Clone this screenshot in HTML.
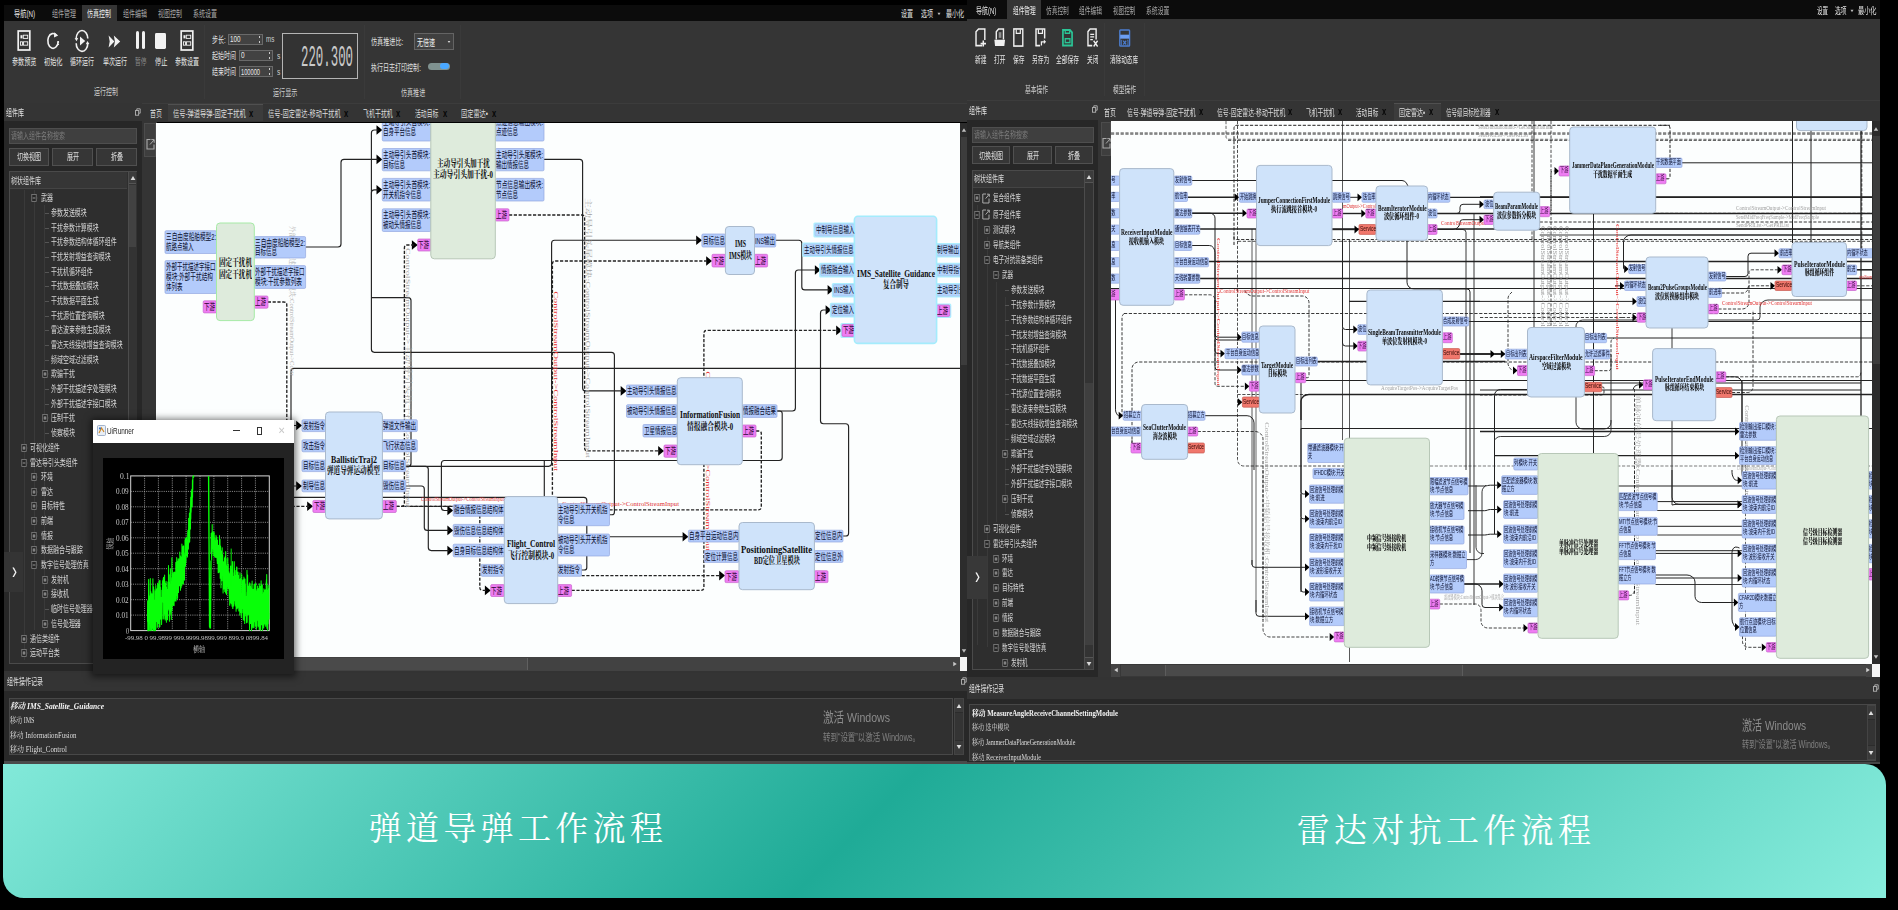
<!DOCTYPE html>
<html lang="zh-CN"><head><meta charset="utf-8"><title>工作流程</title>
<style>
html,body{margin:0;padding:0;background:#000;}
body{width:1898px;height:910px;overflow:hidden;position:relative;font-family:"Liberation Sans","Noto Sans CJK SC",sans-serif;}
.b{position:absolute;box-sizing:border-box;}
.t{position:absolute;white-space:nowrap;line-height:1.2;transform-origin:0 50%;font-family:"Liberation Sans","Noto Sans CJK SC",sans-serif;}
.t.f{font-family:"Liberation Serif","Noto Serif CJK SC",serif;}
.t.m{font-family:"Liberation Mono","Noto Sans CJK SC",monospace;}
svg{position:absolute;overflow:visible;}

</style></head>
<body>
<div class="b" id="apps" style="left:0;top:0;width:1898px;height:764px;overflow:hidden;filter:blur(0.45px)">
<div class="b" style="left:4.0px;top:5.0px;width:963.0px;height:16.0px;background:#0c0c0c;"></div>
<div class="b" style="left:82.0px;top:5.0px;width:35.0px;height:16.5px;background:#353535;"></div>
<span class="t" id="t0" style="left:14.0px;top:7.5px;font-size:9.5px;color:#e6e6e6;transform:scaleX(0.6521);">导航(N)</span>
<span class="t" id="t1" style="left:52.3px;top:7.5px;font-size:9.5px;color:#a8a8a8;transform:scaleX(0.6313);">组件管理</span>
<span class="t" id="t2" style="left:87.4px;top:7.5px;font-size:9.5px;color:#f0f0f0;transform:scaleX(0.6313);">仿真控制</span>
<span class="t" id="t3" style="left:122.6px;top:7.5px;font-size:9.5px;color:#a8a8a8;transform:scaleX(0.6313);">组件编辑</span>
<span class="t" id="t4" style="left:157.7px;top:7.5px;font-size:9.5px;color:#a8a8a8;transform:scaleX(0.6313);">视图控制</span>
<span class="t" id="t5" style="left:192.7px;top:7.5px;font-size:9.5px;color:#a8a8a8;transform:scaleX(0.6313);">系统设置</span>
<span class="t" id="t6" style="left:900.7px;top:7.5px;font-size:9.5px;color:#e0e0e0;transform:scaleX(0.6311);">设置</span>
<span class="t" id="t7" style="left:921.0px;top:7.5px;font-size:9.5px;color:#e0e0e0;transform:scaleX(0.6311);">选项</span>
<span class="t" id="t8" style="left:945.9px;top:7.5px;font-size:9.5px;color:#e0e0e0;transform:scaleX(0.6312);">最小化</span>
<svg style="left:933.6px;top:8.5px" width="10" height="10" viewBox="-5 -5 10 10"><polygon points="0,1.2000000000000002 1.5,-1.2000000000000002 -1.5,-1.2000000000000002" fill="#bbb"/></svg>
<div class="b" style="left:4.0px;top:21.0px;width:963.0px;height:82.0px;background:#353535;"></div>
<div class="b" style="left:4.0px;top:102.5px;width:963.0px;height:1.0px;background:#3c3c3c;"></div>
<div class="b" style="left:204.4px;top:25.0px;width:1.0px;height:74.0px;background:#3a3a3a;"></div>
<div class="b" style="left:364.0px;top:25.0px;width:1.0px;height:74.0px;background:#3a3a3a;"></div>
<div class="b" style="left:460.3px;top:25.0px;width:1.0px;height:74.0px;background:#3a3a3a;"></div>
<svg style="left:17px;top:30px" width="14" height="21" viewBox="0 0 14 21"><rect x="1.2" y="1" width="11.6" height="19" fill="none" stroke="#f2f2f2" stroke-width="1.7"/><rect x="3.5" y="5.2" width="2" height="3.2" fill="#f2f2f2"/><rect x="6.3" y="5.2" width="4.4" height="3.2" fill="none" stroke="#f2f2f2" stroke-width="0.9"/><rect x="3.5" y="11.8" width="2" height="3.4" fill="none" stroke="#f2f2f2" stroke-width="0.9"/><rect x="6.5" y="11.8" width="4.2" height="3.4" fill="none" stroke="#f2f2f2" stroke-width="0.9"/></svg>
<svg style="left:179.7px;top:30px" width="14" height="21" viewBox="0 0 14 21"><rect x="1.2" y="1" width="11.6" height="19" fill="none" stroke="#f2f2f2" stroke-width="1.7"/><rect x="3.5" y="5.2" width="2" height="3.2" fill="#f2f2f2"/><rect x="6.3" y="5.2" width="4.4" height="3.2" fill="none" stroke="#f2f2f2" stroke-width="0.9"/><rect x="3.5" y="11.8" width="2" height="3.4" fill="none" stroke="#f2f2f2" stroke-width="0.9"/><rect x="6.5" y="11.8" width="4.2" height="3.4" fill="none" stroke="#f2f2f2" stroke-width="0.9"/></svg>
<svg style="left:46px;top:31px" width="14" height="20" viewBox="0 0 14 20"><path d="M10.6,4.6A5.2,7.4 0 1 0 12.2,10" fill="none" stroke="#f2f2f2" stroke-width="1.6"/><path d="M12.3,10.5V14" stroke="#f2f2f2" stroke-width="1.5" stroke-dasharray="1.2 1"/><path d="M8.2,1.2L12.2,4.6L8,6.4Z" fill="#f2f2f2"/></svg>
<svg style="left:74px;top:30px" width="16" height="22" viewBox="0 0 16 22"><path d="M2.2,8.5A5.8,8 0 0 1 13.8,8.6M13.8,13.5A5.8,8 0 0 1 2.2,13.2" fill="none" stroke="#f2f2f2" stroke-width="1.6"/><path d="M6,6.4L11.2,11L6,15.6Z" fill="#f2f2f2"/><path d="M0.6,8.2L4.2,8L2.6,11.2Z M15.4,14L11.8,14.2L13.4,11Z" fill="#f2f2f2"/></svg>
<svg style="left:107.5px;top:34.5px" width="13" height="13" viewBox="0 0 13 13"><path d="M0.6,0.6L6.4,6.5L0.6,12.4L1.7,6.5ZM5.8,0.6L12.2,6.5L5.8,12.4L6.9,6.5Z" fill="#f2f2f2"/></svg>
<div class="b" style="left:135.6px;top:31.3px;width:3.5px;height:17.8px;background:#f2f2f2;border-radius:1.6px;"></div>
<div class="b" style="left:141.6px;top:31.3px;width:3.5px;height:17.8px;background:#f2f2f2;border-radius:1.6px;"></div>
<div class="b" style="left:155.2px;top:32.8px;width:10.4px;height:15.8px;background:#f2f2f2;border-radius:1.4px;"></div>
<span class="t" id="t9" style="left:12.0px;top:56.3px;font-size:9.5px;color:#e8e8e8;transform:scaleX(0.6392);">参数预览</span>
<span class="t" id="t10" style="left:44.0px;top:56.3px;font-size:9.5px;color:#e8e8e8;transform:scaleX(0.6453);">初始化</span>
<span class="t" id="t11" style="left:70.4px;top:56.3px;font-size:9.5px;color:#e8e8e8;transform:scaleX(0.6313);">循环运行</span>
<span class="t" id="t12" style="left:102.5px;top:56.3px;font-size:9.5px;color:#e8e8e8;transform:scaleX(0.6313);">单次运行</span>
<span class="t" id="t13" style="left:134.9px;top:56.3px;font-size:9.5px;color:#8a8a8a;transform:scaleX(0.6048);">暂停</span>
<span class="t" id="t14" style="left:154.6px;top:56.3px;font-size:9.5px;color:#e8e8e8;transform:scaleX(0.6521);">停止</span>
<span class="t" id="t15" style="left:175.0px;top:56.3px;font-size:9.5px;color:#e8e8e8;transform:scaleX(0.6313);">参数设置</span>
<span class="t" id="t16" style="left:93.5px;top:86.3px;font-size:9.5px;color:#d0d0d0;transform:scaleX(0.6313);">运行控制</span>
<span class="t" id="t17" style="left:273.1px;top:86.6px;font-size:9.5px;color:#d0d0d0;transform:scaleX(0.6392);">运行显示</span>
<span class="t" id="t18" style="left:400.9px;top:86.6px;font-size:9.5px;color:#d0d0d0;transform:scaleX(0.6366);">仿真推进</span>
<span class="t" id="t19" style="left:211.8px;top:33.5px;font-size:9.5px;color:#e0e0e0;transform:scaleX(0.6284);">步长:</span>
<div class="b" style="left:228.3px;top:33.6px;width:34.4px;height:11.2px;background:#424242;border:1px solid #6a6a6a;"></div>
<span class="t" id="t20" style="left:230.3px;top:34.1px;font-size:9px;color:#e8e8e8;transform:scaleX(0.6985);">100</span>
<div class="b" style="left:258.5px;top:36.0px;width:1.4px;height:1.6px;background:#ccc;"></div>
<div class="b" style="left:258.5px;top:41.0px;width:1.4px;height:1.6px;background:#ccc;"></div>
<span class="t" id="t21" style="left:265.6px;top:34.3px;font-size:9px;color:#d0d0d0;transform:scaleX(0.7000);">ms</span>
<span class="t" id="t22" style="left:211.8px;top:49.7px;font-size:9.5px;color:#e0e0e0;transform:scaleX(0.6313);">起始时间</span>
<div class="b" style="left:239.0px;top:49.8px;width:34.0px;height:11.2px;background:#424242;border:1px solid #6a6a6a;"></div>
<span class="t" id="t23" style="left:241.0px;top:50.3px;font-size:9px;color:#e8e8e8;transform:scaleX(0.7178);">0</span>
<div class="b" style="left:268.8px;top:52.2px;width:1.4px;height:1.6px;background:#ccc;"></div>
<div class="b" style="left:268.8px;top:57.2px;width:1.4px;height:1.6px;background:#ccc;"></div>
<span class="t" id="t24" style="left:276.7px;top:50.5px;font-size:9px;color:#d0d0d0;transform:scaleX(0.7333);">s</span>
<span class="t" id="t25" style="left:211.8px;top:65.9px;font-size:9.5px;color:#e0e0e0;transform:scaleX(0.6313);">结束时间</span>
<div class="b" style="left:239.0px;top:66.0px;width:34.0px;height:11.2px;background:#424242;border:1px solid #6a6a6a;"></div>
<span class="t" id="t26" style="left:241.0px;top:66.5px;font-size:9px;color:#e8e8e8;transform:scaleX(0.6323);">100000</span>
<div class="b" style="left:268.8px;top:68.4px;width:1.4px;height:1.6px;background:#ccc;"></div>
<div class="b" style="left:268.8px;top:73.4px;width:1.4px;height:1.6px;background:#ccc;"></div>
<span class="t" id="t27" style="left:276.7px;top:66.7px;font-size:9px;color:#d0d0d0;transform:scaleX(0.7333);">s</span>
<div class="b" style="left:282.2px;top:33.0px;width:75.6px;height:46.0px;background:#333;border:1.2px solid #b4b4b4;"></div>
<span class="t m" id="t28" style="left:301.0px;top:42.2px;font-size:29px;color:#cacaca;transform:scaleX(0.4268);">220.300</span>
<span class="t" id="t29" style="left:371.0px;top:36.4px;font-size:9.5px;color:#e0e0e0;transform:scaleX(0.6422);">仿真推进比:</span>
<div class="b" style="left:414.2px;top:33.3px;width:39.8px;height:17.2px;background:#404040;border:1px solid #646464;"></div>
<span class="t" id="t30" style="left:416.5px;top:36.5px;font-size:9.5px;color:#f0f0f0;transform:scaleX(0.6312);">无倍速</span>
<svg style="left:444.3px;top:37px" width="10" height="10" viewBox="-5 -5 10 10"><polygon points="0,1.04 1.3,-1.04 -1.3,-1.04" fill="#ddd"/></svg>
<span class="t" id="t31" style="left:371.0px;top:61.5px;font-size:9.5px;color:#e0e0e0;transform:scaleX(0.6333);">执行日志打印控制:</span>
<div class="b" style="left:428.3px;top:62.5px;width:21.3px;height:7.6px;background:#7f9290;border-radius:4px;"></div>
<div class="b" style="left:439.7px;top:63.3px;width:9.4px;height:6.0px;background:#4aa8ff;border-radius:3px;"></div>
<div class="b" style="left:141.5px;top:103.5px;width:825.5px;height:18.0px;background:#343434;"></div>
<div class="b" style="left:168.3px;top:103.8px;width:94.4px;height:17.7px;background:#3c3c3c;border-top:1px solid #505050;"></div>
<span class="t" id="t32" style="left:149.6px;top:108.2px;font-size:9.5px;color:#dedede;transform:scaleX(0.6311);">首页</span>
<span class="t" id="t33" style="left:173.4px;top:108.2px;font-size:9.5px;color:#dedede;transform:scaleX(0.6569);">信号-弹道导弹-固定干扰机</span>
<span class="t" id="t34" style="left:267.7px;top:108.2px;font-size:9.5px;color:#dedede;transform:scaleX(0.6551);">信号-固定雷达-移动干扰机</span>
<span class="t" id="t35" style="left:362.6px;top:108.2px;font-size:9.5px;color:#dedede;transform:scaleX(0.6272);">飞机干扰机</span>
<span class="t" id="t36" style="left:415.0px;top:108.2px;font-size:9.5px;color:#dedede;transform:scaleX(0.6155);">活动目标</span>
<span class="t" id="t37" style="left:460.7px;top:108.2px;font-size:9.5px;color:#dedede;transform:scaleX(0.6533);">固定雷达•</span>
<span class="t" id="t38" style="left:249.2px;top:106.9px;font-size:10.5px;color:#050505;font-weight:bold;transform:scaleX(0.7187);">x</span>
<span class="t" id="t39" style="left:343.9px;top:106.9px;font-size:10.5px;color:#050505;font-weight:bold;transform:scaleX(0.7187);">x</span>
<span class="t" id="t40" style="left:395.9px;top:106.9px;font-size:10.5px;color:#050505;font-weight:bold;transform:scaleX(0.7187);">x</span>
<span class="t" id="t41" style="left:442.7px;top:106.9px;font-size:10.5px;color:#050505;font-weight:bold;transform:scaleX(0.7187);">x</span>
<span class="t" id="t42" style="left:491.5px;top:106.9px;font-size:10.5px;color:#050505;font-weight:bold;transform:scaleX(0.7187);">x</span>
<div class="b" style="left:4.0px;top:103.0px;width:137.5px;height:18.0px;background:#343434;"></div>
<span class="t" id="t43" style="left:6.0px;top:106.8px;font-size:9.5px;color:#e4e4e4;transform:scaleX(0.6312);">组件库</span>
<svg style="left:135.0px;top:107.5px" width="6" height="8" viewBox="0 0 6 8"><rect x="0.5" y="2.6" width="3.2" height="4.6" fill="none" stroke="#c4c4c4" stroke-width="0.8"/><path d="M1.8,2.4V0.8H5.2V5.2H3.9" fill="none" stroke="#c4c4c4" stroke-width="0.8"/></svg>
<div class="b" style="left:4.0px;top:121.0px;width:137.5px;height:549.6px;background:#272727;"></div>
<div class="b" style="left:8.5px;top:128.0px;width:128.5px;height:16.0px;background:#3f3f3f;border:1px solid #4e4e4e;"></div>
<span class="t" id="t44" style="left:10.5px;top:131.1px;font-size:9px;color:#7c7c7c;transform:scaleX(0.6665);">请输入组件名称搜索</span>
<div class="b" style="left:8.5px;top:147.5px;width:40.8px;height:18.0px;background:#363636;border:1px solid #505050;"></div>
<span class="t" id="t45" style="left:16.9px;top:151.3px;font-size:9.5px;color:#e0e0e0;transform:scaleX(0.6313);">切换视图</span>
<div class="b" style="left:52.3px;top:147.5px;width:40.8px;height:18.0px;background:#363636;border:1px solid #505050;"></div>
<span class="t" id="t46" style="left:66.8px;top:151.3px;font-size:9.5px;color:#e0e0e0;transform:scaleX(0.6311);">展开</span>
<div class="b" style="left:96.2px;top:147.5px;width:40.8px;height:18.0px;background:#363636;border:1px solid #505050;"></div>
<span class="t" id="t47" style="left:110.6px;top:151.3px;font-size:9.5px;color:#e0e0e0;transform:scaleX(0.6311);">折叠</span>
<div class="b" style="left:8.5px;top:171.0px;width:128.5px;height:492.6px;background:#2e2e2e;border:1px solid #4a4a4a;"></div>
<div class="b" style="left:9.5px;top:172.0px;width:117.5px;height:17.0px;background:#363636;border-bottom:1px solid #444;"></div>
<span class="t" id="t48" style="left:11.0px;top:174.8px;font-size:9.5px;color:#dcdcdc;transform:scaleX(0.6314);">树状组件库</span>
<div class="b" style="left:128.0px;top:172.0px;width:8.5px;height:490.6px;background:#333;border-left:1px solid #4c4c4c;"></div>
<div class="b" style="left:128.6px;top:172.0px;width:7.9px;height:12.0px;background:#3c3c3c;border-bottom:1px solid #555;"></div>
<svg style="left:127.6px;top:173px" width="10" height="10" viewBox="-5 -5 10 10"><polygon points="0,-1.92 2.4,1.92 -2.4,1.92" fill="#d8d8d8"/></svg>
<div class="b" style="left:129.0px;top:185.0px;width:7.0px;height:62.0px;background:#424242;"></div>
<div class="b" style="left:24.0px;top:190.0px;width:0.6px;height:470.0px;background:#3a3a3a;"></div>
<div class="b" style="left:34.2px;top:190.0px;width:0.6px;height:440.0px;background:#3a3a3a;"></div>
<div class="b" style="left:44.2px;top:205.0px;width:0.6px;height:425.0px;background:#3a3a3a;"></div>
<svg style="left:30.299999999999997px;top:192.5px" width="8" height="10" viewBox="-4 -5 8 10"><rect x="-2.2" y="-3.4" width="4.4" height="6.8" fill="#262626" stroke="#8e8e8e" stroke-width="0.7"/><path d="M-1.3,0H1.3" stroke="#c8c8c8" stroke-width="0.7"/><path d="M2.2,0H4" stroke="#555" stroke-width="0.6"/></svg>
<span class="t" id="t49" style="left:40.5px;top:191.8px;font-size:9.5px;color:#d4d4d4;transform:scaleX(0.6279);">武器</span>
<div class="b" style="left:44.7px;top:212.5px;width:4.0px;height:0.6px;background:#555;"></div>
<span class="t" id="t50" style="left:50.7px;top:206.8px;font-size:9.5px;color:#d4d4d4;transform:scaleX(0.6282);">参数发送模块</span>
<div class="b" style="left:44.7px;top:227.5px;width:4.0px;height:0.6px;background:#555;"></div>
<span class="t" id="t51" style="left:50.7px;top:221.8px;font-size:9.5px;color:#d4d4d4;transform:scaleX(0.6283);">干扰参数计算模块</span>
<div class="b" style="left:44.7px;top:242.0px;width:4.0px;height:0.6px;background:#555;"></div>
<span class="t" id="t52" style="left:50.7px;top:236.3px;font-size:9.5px;color:#d4d4d4;transform:scaleX(0.6283);">干扰参数结构体循环组件</span>
<div class="b" style="left:44.7px;top:256.5px;width:4.0px;height:0.6px;background:#555;"></div>
<span class="t" id="t53" style="left:50.7px;top:250.8px;font-size:9.5px;color:#d4d4d4;transform:scaleX(0.6283);">干扰发射增益查询模块</span>
<div class="b" style="left:44.7px;top:271.5px;width:4.0px;height:0.6px;background:#555;"></div>
<span class="t" id="t54" style="left:50.7px;top:265.8px;font-size:9.5px;color:#d4d4d4;transform:scaleX(0.6283);">干扰机循环组件</span>
<div class="b" style="left:44.7px;top:286.0px;width:4.0px;height:0.6px;background:#555;"></div>
<span class="t" id="t55" style="left:50.7px;top:280.3px;font-size:9.5px;color:#d4d4d4;transform:scaleX(0.6283);">干扰数据叠加模块</span>
<div class="b" style="left:44.7px;top:300.5px;width:4.0px;height:0.6px;background:#555;"></div>
<span class="t" id="t56" style="left:50.7px;top:294.8px;font-size:9.5px;color:#d4d4d4;transform:scaleX(0.6283);">干扰数据平面生成</span>
<div class="b" style="left:44.7px;top:315.5px;width:4.0px;height:0.6px;background:#555;"></div>
<span class="t" id="t57" style="left:50.7px;top:309.8px;font-size:9.5px;color:#d4d4d4;transform:scaleX(0.6283);">干扰源位置查询模块</span>
<div class="b" style="left:44.7px;top:330.0px;width:4.0px;height:0.6px;background:#555;"></div>
<span class="t" id="t58" style="left:50.7px;top:324.3px;font-size:9.5px;color:#d4d4d4;transform:scaleX(0.6283);">雷达波束参数生成模块</span>
<div class="b" style="left:44.7px;top:345.0px;width:4.0px;height:0.6px;background:#555;"></div>
<span class="t" id="t59" style="left:50.7px;top:339.3px;font-size:9.5px;color:#d4d4d4;transform:scaleX(0.6283);">雷达天线接收增益查询模块</span>
<div class="b" style="left:44.7px;top:359.5px;width:4.0px;height:0.6px;background:#555;"></div>
<span class="t" id="t60" style="left:50.7px;top:353.8px;font-size:9.5px;color:#d4d4d4;transform:scaleX(0.6283);">频域空域过滤模块</span>
<svg style="left:40.5px;top:369px" width="8" height="10" viewBox="-4 -5 8 10"><rect x="-2.2" y="-3.4" width="4.4" height="6.8" fill="#262626" stroke="#8e8e8e" stroke-width="0.7"/><path d="M-1.3,0H1.3M0,-2V2" stroke="#c8c8c8" stroke-width="0.7"/><path d="M2.2,0H4" stroke="#555" stroke-width="0.6"/></svg>
<span class="t" id="t61" style="left:50.7px;top:368.3px;font-size:9.5px;color:#d4d4d4;transform:scaleX(0.6282);">欺骗干扰</span>
<div class="b" style="left:44.7px;top:389.0px;width:4.0px;height:0.6px;background:#555;"></div>
<span class="t" id="t62" style="left:50.7px;top:383.3px;font-size:9.5px;color:#d4d4d4;transform:scaleX(0.6283);">外部干扰描述字处理模块</span>
<div class="b" style="left:44.7px;top:403.5px;width:4.0px;height:0.6px;background:#555;"></div>
<span class="t" id="t63" style="left:50.7px;top:397.8px;font-size:9.5px;color:#d4d4d4;transform:scaleX(0.6283);">外部干扰描述字接口模块</span>
<svg style="left:40.5px;top:413px" width="8" height="10" viewBox="-4 -5 8 10"><rect x="-2.2" y="-3.4" width="4.4" height="6.8" fill="#262626" stroke="#8e8e8e" stroke-width="0.7"/><path d="M-1.3,0H1.3M0,-2V2" stroke="#c8c8c8" stroke-width="0.7"/><path d="M2.2,0H4" stroke="#555" stroke-width="0.6"/></svg>
<span class="t" id="t64" style="left:50.7px;top:412.3px;font-size:9.5px;color:#d4d4d4;transform:scaleX(0.6282);">压制干扰</span>
<div class="b" style="left:44.7px;top:433.0px;width:4.0px;height:0.6px;background:#555;"></div>
<span class="t" id="t65" style="left:50.7px;top:427.3px;font-size:9.5px;color:#d4d4d4;transform:scaleX(0.6282);">侦察模块</span>
<svg style="left:19.8px;top:442.5px" width="8" height="10" viewBox="-4 -5 8 10"><rect x="-2.2" y="-3.4" width="4.4" height="6.8" fill="#262626" stroke="#8e8e8e" stroke-width="0.7"/><path d="M-1.3,0H1.3M0,-2V2" stroke="#c8c8c8" stroke-width="0.7"/><path d="M2.2,0H4" stroke="#555" stroke-width="0.6"/></svg>
<span class="t" id="t66" style="left:30.0px;top:441.8px;font-size:9.5px;color:#d4d4d4;transform:scaleX(0.6282);">可视化组件</span>
<svg style="left:19.8px;top:457.5px" width="8" height="10" viewBox="-4 -5 8 10"><rect x="-2.2" y="-3.4" width="4.4" height="6.8" fill="#262626" stroke="#8e8e8e" stroke-width="0.7"/><path d="M-1.3,0H1.3" stroke="#c8c8c8" stroke-width="0.7"/><path d="M2.2,0H4" stroke="#555" stroke-width="0.6"/></svg>
<span class="t" id="t67" style="left:30.0px;top:456.8px;font-size:9.5px;color:#d4d4d4;transform:scaleX(0.6283);">雷达导引头类组件</span>
<svg style="left:30.299999999999997px;top:472px" width="8" height="10" viewBox="-4 -5 8 10"><rect x="-2.2" y="-3.4" width="4.4" height="6.8" fill="#262626" stroke="#8e8e8e" stroke-width="0.7"/><path d="M-1.3,0H1.3M0,-2V2" stroke="#c8c8c8" stroke-width="0.7"/><path d="M2.2,0H4" stroke="#555" stroke-width="0.6"/></svg>
<span class="t" id="t68" style="left:40.5px;top:471.3px;font-size:9.5px;color:#d4d4d4;transform:scaleX(0.6279);">环境</span>
<svg style="left:30.299999999999997px;top:486.5px" width="8" height="10" viewBox="-4 -5 8 10"><rect x="-2.2" y="-3.4" width="4.4" height="6.8" fill="#262626" stroke="#8e8e8e" stroke-width="0.7"/><path d="M-1.3,0H1.3M0,-2V2" stroke="#c8c8c8" stroke-width="0.7"/><path d="M2.2,0H4" stroke="#555" stroke-width="0.6"/></svg>
<span class="t" id="t69" style="left:40.5px;top:485.8px;font-size:9.5px;color:#d4d4d4;transform:scaleX(0.6279);">雷达</span>
<svg style="left:30.299999999999997px;top:501px" width="8" height="10" viewBox="-4 -5 8 10"><rect x="-2.2" y="-3.4" width="4.4" height="6.8" fill="#262626" stroke="#8e8e8e" stroke-width="0.7"/><path d="M-1.3,0H1.3M0,-2V2" stroke="#c8c8c8" stroke-width="0.7"/><path d="M2.2,0H4" stroke="#555" stroke-width="0.6"/></svg>
<span class="t" id="t70" style="left:40.5px;top:500.3px;font-size:9.5px;color:#d4d4d4;transform:scaleX(0.6282);">目标特性</span>
<svg style="left:30.299999999999997px;top:516px" width="8" height="10" viewBox="-4 -5 8 10"><rect x="-2.2" y="-3.4" width="4.4" height="6.8" fill="#262626" stroke="#8e8e8e" stroke-width="0.7"/><path d="M-1.3,0H1.3M0,-2V2" stroke="#c8c8c8" stroke-width="0.7"/><path d="M2.2,0H4" stroke="#555" stroke-width="0.6"/></svg>
<span class="t" id="t71" style="left:40.5px;top:515.3px;font-size:9.5px;color:#d4d4d4;transform:scaleX(0.6279);">前端</span>
<svg style="left:30.299999999999997px;top:530.5px" width="8" height="10" viewBox="-4 -5 8 10"><rect x="-2.2" y="-3.4" width="4.4" height="6.8" fill="#262626" stroke="#8e8e8e" stroke-width="0.7"/><path d="M-1.3,0H1.3M0,-2V2" stroke="#c8c8c8" stroke-width="0.7"/><path d="M2.2,0H4" stroke="#555" stroke-width="0.6"/></svg>
<span class="t" id="t72" style="left:40.5px;top:529.8px;font-size:9.5px;color:#d4d4d4;transform:scaleX(0.6279);">情报</span>
<svg style="left:30.299999999999997px;top:545px" width="8" height="10" viewBox="-4 -5 8 10"><rect x="-2.2" y="-3.4" width="4.4" height="6.8" fill="#262626" stroke="#8e8e8e" stroke-width="0.7"/><path d="M-1.3,0H1.3M0,-2V2" stroke="#c8c8c8" stroke-width="0.7"/><path d="M2.2,0H4" stroke="#555" stroke-width="0.6"/></svg>
<span class="t" id="t73" style="left:40.5px;top:544.3px;font-size:9.5px;color:#d4d4d4;transform:scaleX(0.6283);">数据融合与跟踪</span>
<svg style="left:30.299999999999997px;top:560px" width="8" height="10" viewBox="-4 -5 8 10"><rect x="-2.2" y="-3.4" width="4.4" height="6.8" fill="#262626" stroke="#8e8e8e" stroke-width="0.7"/><path d="M-1.3,0H1.3" stroke="#c8c8c8" stroke-width="0.7"/><path d="M2.2,0H4" stroke="#555" stroke-width="0.6"/></svg>
<span class="t" id="t74" style="left:40.5px;top:559.3px;font-size:9.5px;color:#d4d4d4;transform:scaleX(0.6283);">数字信号处理仿真</span>
<svg style="left:40.5px;top:574.5px" width="8" height="10" viewBox="-4 -5 8 10"><rect x="-2.2" y="-3.4" width="4.4" height="6.8" fill="#262626" stroke="#8e8e8e" stroke-width="0.7"/><path d="M-1.3,0H1.3M0,-2V2" stroke="#c8c8c8" stroke-width="0.7"/><path d="M2.2,0H4" stroke="#555" stroke-width="0.6"/></svg>
<span class="t" id="t75" style="left:50.7px;top:573.8px;font-size:9.5px;color:#d4d4d4;transform:scaleX(0.6281);">发射机</span>
<svg style="left:40.5px;top:589px" width="8" height="10" viewBox="-4 -5 8 10"><rect x="-2.2" y="-3.4" width="4.4" height="6.8" fill="#262626" stroke="#8e8e8e" stroke-width="0.7"/><path d="M-1.3,0H1.3M0,-2V2" stroke="#c8c8c8" stroke-width="0.7"/><path d="M2.2,0H4" stroke="#555" stroke-width="0.6"/></svg>
<span class="t" id="t76" style="left:50.7px;top:588.3px;font-size:9.5px;color:#d4d4d4;transform:scaleX(0.6281);">接收机</span>
<div class="b" style="left:44.7px;top:609.0px;width:4.0px;height:0.6px;background:#555;"></div>
<span class="t" id="t77" style="left:50.7px;top:603.3px;font-size:9.5px;color:#d4d4d4;transform:scaleX(0.6283);">临时信号处理器</span>
<svg style="left:40.5px;top:618.5px" width="8" height="10" viewBox="-4 -5 8 10"><rect x="-2.2" y="-3.4" width="4.4" height="6.8" fill="#262626" stroke="#8e8e8e" stroke-width="0.7"/><path d="M-1.3,0H1.3M0,-2V2" stroke="#c8c8c8" stroke-width="0.7"/><path d="M2.2,0H4" stroke="#555" stroke-width="0.6"/></svg>
<span class="t" id="t78" style="left:50.7px;top:617.8px;font-size:9.5px;color:#d4d4d4;transform:scaleX(0.6282);">信号处理器</span>
<svg style="left:19.8px;top:633.5px" width="8" height="10" viewBox="-4 -5 8 10"><rect x="-2.2" y="-3.4" width="4.4" height="6.8" fill="#262626" stroke="#8e8e8e" stroke-width="0.7"/><path d="M-1.3,0H1.3M0,-2V2" stroke="#c8c8c8" stroke-width="0.7"/><path d="M2.2,0H4" stroke="#555" stroke-width="0.6"/></svg>
<span class="t" id="t79" style="left:30.0px;top:632.8px;font-size:9.5px;color:#d4d4d4;transform:scaleX(0.6282);">通信类组件</span>
<svg style="left:19.8px;top:648px" width="8" height="10" viewBox="-4 -5 8 10"><rect x="-2.2" y="-3.4" width="4.4" height="6.8" fill="#262626" stroke="#8e8e8e" stroke-width="0.7"/><path d="M-1.3,0H1.3M0,-2V2" stroke="#c8c8c8" stroke-width="0.7"/><path d="M2.2,0H4" stroke="#555" stroke-width="0.6"/></svg>
<span class="t" id="t80" style="left:30.0px;top:647.3px;font-size:9.5px;color:#d4d4d4;transform:scaleX(0.6282);">运动平台类</span>
<div class="b" style="left:4.0px;top:552.0px;width:18.5px;height:40.0px;background:#343434;"></div>
<span class="t" id="t81" style="left:11.8px;top:556.6px;font-size:24px;color:#f4f4f4;transform:scaleX(0.6250);">›</span>
<div class="b" style="left:141.5px;top:121.5px;width:15.0px;height:549.0px;background:#343434;"></div>
<div class="b" style="left:144.0px;top:123.0px;width:11.5px;height:33.5px;background:#3e3e3e;border:1px solid #4c4c4c;"></div>
<svg style="left:145.5px;top:138px" width="9" height="12" viewBox="0 0 9 12"><path d="M4.5,1.5H1V11H8V6.5" fill="none" stroke="#aaa" stroke-width="1.1"/><path d="M4,6.5L8,2M5.3,1.6H8.2V4.8" fill="none" stroke="#aaa" stroke-width="1"/></svg>
<div class="b" style="left:156.0px;top:122.5px;width:804.0px;height:534.5px;background:#fcfefe;"></div>
<div class="b" style="left:960.0px;top:122.5px;width:7.0px;height:534.5px;background:#2c2c2c;"></div>
<svg style="left:958.5px;top:125px" width="10" height="10" viewBox="-5 -5 10 10"><polygon points="0,-1.7600000000000002 2.2,1.7600000000000002 -2.2,1.7600000000000002" fill="#bdbdbd"/></svg>
<svg style="left:958.5px;top:646px" width="10" height="10" viewBox="-5 -5 10 10"><polygon points="0,1.7600000000000002 2.2,-1.7600000000000002 -2.2,-1.7600000000000002" fill="#bdbdbd"/></svg>
<div class="b" style="left:960.5px;top:137.0px;width:6.0px;height:228.0px;background:#3c3c3c;"></div>
<div class="b" style="left:156.0px;top:657.0px;width:804.0px;height:13.5px;background:#424242;"></div>
<div class="b" style="left:156.0px;top:657.5px;width:372.0px;height:12.5px;background:#4a4a4a;border-right:1px solid #606060;"></div>
<svg style="left:950px;top:658.7px" width="10" height="10" viewBox="-5 -5 10 10"><polygon points="1.7600000000000002,0 -1.7600000000000002,-2.2 -1.7600000000000002,2.2" fill="#c8c8c8"/></svg>
<div class="b" style="left:960.0px;top:657.0px;width:7.0px;height:13.5px;background:#f4f4f4;"></div>
<div class="b" style="left:4.0px;top:670.5px;width:963.0px;height:2.5px;background:#333;"></div>
<div class="b" style="left:4.0px;top:673.0px;width:963.0px;height:17.6px;background:#343434;"></div>
<span class="t" id="t82" style="left:6.5px;top:676.3px;font-size:9.5px;color:#e0e0e0;transform:scaleX(0.6314);">组件操作记录</span>
<svg style="left:960.5px;top:677px" width="6" height="8" viewBox="0 0 6 8"><rect x="0.5" y="2.6" width="3.2" height="4.6" fill="none" stroke="#c4c4c4" stroke-width="0.8"/><path d="M1.8,2.4V0.8H5.2V5.2H3.9" fill="none" stroke="#c4c4c4" stroke-width="0.8"/></svg>
<div class="b" style="left:4.0px;top:690.6px;width:963.0px;height:70.0px;background:#282828;"></div>
<div class="b" style="left:8.5px;top:697.8px;width:944.0px;height:57.0px;background:#303030;border:1px solid #484848;"></div>
<div class="b" style="left:954.0px;top:697.8px;width:9.5px;height:57.0px;background:#2c2c2c;border:1px solid #444;"></div>
<div class="b" style="left:955.0px;top:699.0px;width:7.5px;height:13.0px;background:#3a3a3a;"></div>
<div class="b" style="left:955.0px;top:740.5px;width:7.5px;height:13.0px;background:#3a3a3a;"></div>
<div class="b" style="left:955.0px;top:713.0px;width:7.5px;height:26.5px;background:#343434;"></div>
<svg style="left:953.7px;top:701px" width="10" height="10" viewBox="-5 -5 10 10"><polygon points="0,-1.92 2.4,1.92 -2.4,1.92" fill="#ddd"/></svg>
<svg style="left:953.7px;top:741.5px" width="10" height="10" viewBox="-5 -5 10 10"><polygon points="0,1.92 2.4,-1.92 -2.4,-1.92" fill="#ddd"/></svg>
<span class="t f" id="t83" style="left:10.0px;top:700.7px;font-size:8.5px;color:#f4f4f4;font-weight:bold;font-style:italic;transform:scaleX(0.8905);">移动 IMS_Satellite_Guidance</span>
<span class="t f" id="t84" style="left:9.5px;top:715.3px;font-size:8.5px;color:#dcdcdc;transform:scaleX(0.7153);">移动 IMS</span>
<span class="t f" id="t85" style="left:9.5px;top:730.2px;font-size:8.5px;color:#dcdcdc;transform:scaleX(0.8024);">移动 InformationFusion</span>
<span class="t f" id="t86" style="left:9.5px;top:744.2px;font-size:8.5px;color:#dcdcdc;transform:scaleX(0.8181);">移动 Flight_Control</span>
<span class="t" id="t87" style="left:823.0px;top:710.4px;font-size:13.5px;color:#8c8c8c;transform:scaleX(0.7835);">激活 Windows</span>
<span class="t" id="t88" style="left:823.0px;top:730.7px;font-size:10.5px;color:#808080;transform:scaleX(0.7105);">转到“设置”以激活 Windows。</span>
<div class="b" style="left:4.0px;top:760.6px;width:963.0px;height:3.6px;background:#4a4a4a;"></div>
<svg style="left:156px;top:123px;overflow:hidden" width="804" height="534" viewBox="156 123 804 534"><polygon points="382.3,159.4 376.5,164.2 376.5,154.6" fill="#000"/><path d="M305.6,247.0L338.0,247.0Q341.0,247.0 341.0,244.0L341.0,162.4Q341.0,159.4 344.0,159.4L378.3,159.4" fill="none" stroke="#222" stroke-width="1.15"/><polygon points="382.3,189.8 376.5,194.6 376.5,185.0" fill="#000"/><path d="M609.5,514.7L612.0,514.7Q614.4,514.7 614.4,512.2L614.4,355.3Q614.4,352.3 611.4,352.3L374.4,352.3Q371.4,352.3 371.4,349.3L371.4,192.8Q371.4,189.8 374.4,189.8L378.3,189.8" fill="none" stroke="#222" stroke-width="1.15"/><polygon points="382.3,130.0 376.5,134.8 376.5,125.2" fill="#000"/><path d="M371.4,200.0L371.4,133.0Q371.4,130.0 374.4,130.0L378.3,130.0" fill="none" stroke="#222" stroke-width="1.15"/><path d="M371.4,297.6L408.0,297.6Q411.0,297.6 411.0,300.6L411.0,463.6Q411.0,466.3 408.4,466.3L405.7,466.3" fill="none" stroke="#222" stroke-width="1.15"/><polygon points="626.5,390.9 620.7,395.7 620.7,386.1" fill="#000"/><path d="M544.0,159.4L579.6,159.4Q582.6,159.4 582.6,162.4L582.6,387.9Q582.6,390.9 585.6,390.9L622.5,390.9" fill="none" stroke="#222" stroke-width="1.15"/><polygon points="664.0,450.9 658.2,455.7 658.2,446.1" fill="#000"/><path d="M509.0,215.0L581.6,215.0Q584.6,215.0 584.6,218.0L584.6,447.9Q584.6,450.9 587.6,450.9L660.0,450.9" fill="none" stroke="#222" stroke-width="1.35" stroke-dasharray="3.2 1.6"/><polygon points="313.0,506.3 307.2,511.1 307.2,501.5" fill="#000"/><path d="M267.8,302.0L283.8,302.0Q286.8,302.0 286.8,305.0L286.8,503.3Q286.8,506.3 289.8,506.3L309.0,506.3" fill="none" stroke="#222" stroke-width="1.35" stroke-dasharray="3.2 1.6"/><polygon points="417.7,245.0 411.9,249.8 411.9,240.2" fill="#000"/><path d="M396.3,506.3L401.4,506.3Q404.4,506.3 404.4,503.3L404.4,248.0Q404.4,245.0 407.4,245.0L413.7,245.0" fill="none" stroke="#222" stroke-width="1.35" stroke-dasharray="3.2 1.6"/><polygon points="490.7,590.4 484.9,595.2 484.9,585.6" fill="#000"/><path d="M396.3,506.3L476.8,506.3Q479.8,506.3 479.8,509.3L479.8,587.4Q479.8,590.4 482.8,590.4L486.7,590.4" fill="none" stroke="#222" stroke-width="1.35" stroke-dasharray="3.2 1.6"/><polygon points="702.0,240.2 696.2,245.0 696.2,235.4" fill="#000"/><path d="M405.7,466.3L548.6,466.3Q551.6,466.3 551.6,463.3L551.6,243.2Q551.6,240.2 554.6,240.2L698.0,240.2" fill="none" stroke="#222" stroke-width="1.15"/><polygon points="712.0,261.0 706.2,265.8 706.2,256.2" fill="#000"/><path d="M404.4,506.3L549.4,506.3Q552.4,506.3 552.4,503.3L552.4,264.0Q552.4,261.0 555.4,261.0L708.0,261.0" fill="none" stroke="#222" stroke-width="1.35" stroke-dasharray="3.2 1.6"/><polygon points="453.2,550.6 447.4,555.4 447.4,545.8" fill="#000"/><path d="M405.7,466.3L425.3,466.3Q428.3,466.3 428.3,469.3L428.3,547.6Q428.3,550.6 431.3,550.6L449.2,550.6" fill="none" stroke="#222" stroke-width="1.15"/><polygon points="453.2,530.4 447.4,535.2 447.4,525.6" fill="#000"/><path d="M405.7,486.0L421.3,486.0Q424.3,486.0 424.3,489.0L424.3,527.4Q424.3,530.4 427.3,530.4L449.2,530.4" fill="none" stroke="#222" stroke-width="1.15"/><polygon points="453.2,510.5 447.4,515.3 447.4,505.7" fill="#000"/><path d="M777.0,411.0L779.6,411.0Q782.2,411.0 782.2,413.6L782.2,457.5Q782.2,460.5 779.2,460.5L444.4,460.5Q441.4,460.5 441.4,463.5L441.4,507.5Q441.4,510.5 444.4,510.5L449.2,510.5" fill="none" stroke="#222" stroke-width="1.15"/><polygon points="820.7,270.0 814.9,274.8 814.9,265.2" fill="#000"/><path d="M777.0,411.0L792.4,411.0Q795.4,411.0 795.4,408.0L795.4,273.0Q795.4,270.0 798.4,270.0L816.7,270.0" fill="none" stroke="#222" stroke-width="1.15"/><path d="M544.3,460.5L544.3,497.0" fill="none" stroke="#222" stroke-width="1.15"/><polygon points="302.0,486.0 296.2,490.8 296.2,481.2" fill="#000"/><path d="M965.0,368.3L294.0,368.3Q291.0,368.3 291.0,371.3L291.0,483.0Q291.0,486.0 294.0,486.0L298.0,486.0" fill="none" stroke="#222" stroke-width="1.15"/><polygon points="302.0,425.5 296.2,430.3 296.2,420.7" fill="#000"/><path d="M581.5,570.0L584.1,570.0Q586.8,570.0 586.8,567.4L586.8,500.4Q586.8,497.4 583.8,497.4L289.0,497.4Q286.0,497.4 286.0,494.4L286.0,428.5Q286.0,425.5 289.0,425.5L298.0,425.5" fill="none" stroke="#222" stroke-width="1.15"/><polygon points="688.4,536.7 682.6,541.5 682.6,531.9" fill="#000"/><path d="M609.5,536.7L684.4,536.7" fill="none" stroke="#222" stroke-width="1.15"/><polygon points="842.0,330.4 836.2,335.2 836.2,325.6" fill="#000"/><path d="M571.6,590.4L700.9,590.4Q703.9,590.4 703.9,587.4L703.9,333.4Q703.9,330.4 706.9,330.4L838.0,330.4" fill="none" stroke="#222" stroke-width="1.35" stroke-dasharray="3.2 1.6"/><path d="M756.0,431.0L758.6,431.0Q761.3,431.0 761.3,433.6L761.3,506.8Q761.3,509.8 758.3,509.8L609.5,509.8" fill="none" stroke="#222" stroke-width="1.35" stroke-dasharray="3.2 1.6"/><polygon points="725.0,575.6 719.2,580.4 719.2,570.8" fill="#000"/><path d="M581.5,575.6L721.0,575.6" fill="none" stroke="#222" stroke-width="1.35" stroke-dasharray="3.2 1.6"/><polygon points="831.4,310.0 825.6,314.8 825.6,305.2" fill="#000"/><path d="M843.0,536.0L845.8,536.0Q848.6,536.0 848.6,533.2L848.6,426.7Q848.6,423.7 845.6,423.7L823.5,423.7Q820.5,423.7 820.5,420.7L820.5,313.0Q820.5,310.0 823.5,310.0L827.4,310.0" fill="none" stroke="#222" stroke-width="1.15"/><polygon points="833.4,289.9 827.6,294.7 827.6,285.1" fill="#000"/><path d="M775.7,240.2L798.8,240.2Q801.8,240.2 801.8,243.2L801.8,286.9Q801.8,289.9 804.8,289.9L829.4,289.9" fill="none" stroke="#222" stroke-width="1.15"/></svg>
<div class="b" style="left:156px;top:123px;width:804px;height:534px;overflow:hidden"><div class="b" style="left:-156px;top:-123px;width:1898px;height:910px">
<span class="t f" id="t89" style="left:291.5px;top:222.1px;font-size:6.5px;color:#b0b0b0;transform:rotate(90deg) scaleX(0.9981);">外部干扰描述字接口模块:ControlStreamOutput-&gt;Contr</span>
<span class="t f" id="t90" style="left:408.4px;top:244.1px;font-size:6.5px;color:#a0a0a0;transform:rotate(90deg) scaleX(1.5479);">ControlStreamOutput-&gt;主动导引头抗干扰:ControlStreamInput</span>
<span class="t f" id="t91" style="left:587.6px;top:194.1px;font-size:6.5px;color:#a0a0a0;transform:rotate(90deg) scaleX(1.5479);">主动导引头尾模块:ControlStreamOutput-&gt;ControlStreamInput</span>
<span class="t f" id="t92" style="left:555.8px;top:287.8px;font-size:5.3px;color:#ea3030;transform:rotate(90deg) scaleX(1.9348);">ControlStreamOutput-&gt;ControlStreamInput</span>
<span class="t f" id="t93" style="left:708.4px;top:367.8px;font-size:5.3px;color:#ea3030;transform:rotate(90deg) scaleX(1.9348);">ControlStreamOutput-&gt;ControlStreamInput</span>
<span class="t f" id="t94" style="left:421.0px;top:495.3px;font-size:6.5px;color:#e03030;transform:scaleX(0.7271);">ControlStreamOutput-&gt;ControlStreamInput</span>
<span class="t f" id="t95" style="left:561.5px;top:499.8px;font-size:6.5px;color:#e03030;transform:scaleX(1.0249);">ControlStreamOutput-&gt;ControlStreamInput</span>
</div></div>
<svg style="left:156px;top:123px;overflow:hidden" width="804" height="534" viewBox="156 123 804 534"><rect x="165.0" y="230.7" width="51.5" height="22.8" rx="1.2" fill="#b3cbfb" stroke="#93a8e0" stroke-width="0.7"/><rect x="165.0" y="260.6" width="51.5" height="32.9" rx="1.2" fill="#b3cbfb" stroke="#93a8e0" stroke-width="0.7"/><rect x="254.2" y="236.6" width="51.4" height="21.4" rx="1.2" fill="#b3cbfb" stroke="#93a8e0" stroke-width="0.7"/><rect x="254.2" y="265.6" width="51.4" height="22.8" rx="1.2" fill="#b3cbfb" stroke="#93a8e0" stroke-width="0.7"/><rect x="203.2" y="300.8" width="13.3" height="12.1" rx="1.2" fill="#ef7df3" stroke="#c565cc" stroke-width="0.7"/><rect x="254.2" y="296.0" width="13.8" height="12.2" rx="1.2" fill="#ef7df3" stroke="#c565cc" stroke-width="0.7"/><rect x="216.5" y="223.0" width="37.8" height="97.6" rx="3.5" fill="#deebdc" stroke="#a6eaa6" stroke-width="1"/><rect x="382.3" y="113.0" width="48.7" height="28.0" rx="1.2" fill="#b3cbfb" stroke="#93a8e0" stroke-width="0.7"/><rect x="382.3" y="148.5" width="48.7" height="22.3" rx="1.2" fill="#b3cbfb" stroke="#93a8e0" stroke-width="0.7"/><rect x="382.3" y="178.4" width="48.7" height="22.6" rx="1.2" fill="#b3cbfb" stroke="#93a8e0" stroke-width="0.7"/><rect x="382.3" y="208.8" width="48.7" height="22.7" rx="1.2" fill="#b3cbfb" stroke="#93a8e0" stroke-width="0.7"/><rect x="495.3" y="113.0" width="48.7" height="28.0" rx="1.2" fill="#b3cbfb" stroke="#93a8e0" stroke-width="0.7"/><rect x="495.3" y="148.5" width="48.7" height="22.3" rx="1.2" fill="#b3cbfb" stroke="#93a8e0" stroke-width="0.7"/><rect x="495.3" y="178.4" width="48.7" height="22.6" rx="1.2" fill="#b3cbfb" stroke="#93a8e0" stroke-width="0.7"/><rect x="417.7" y="239.0" width="13.3" height="12.0" rx="1.2" fill="#ef7df3" stroke="#c565cc" stroke-width="0.7"/><rect x="495.3" y="208.8" width="13.7" height="12.2" rx="1.2" fill="#ef7df3" stroke="#c565cc" stroke-width="0.7"/><rect x="430.8" y="110.0" width="64.5" height="148.8" rx="3.5" fill="#deebdc" stroke="#b7c7b7" stroke-width="1"/><rect x="701.9" y="234.0" width="23.5" height="13.0" rx="1.2" fill="#b3cbfb" stroke="#93a8e0" stroke-width="0.7"/><rect x="754.5" y="234.0" width="21.2" height="13.0" rx="1.2" fill="#b3cbfb" stroke="#93a8e0" stroke-width="0.7"/><rect x="712.0" y="254.3" width="13.4" height="12.7" rx="1.2" fill="#ef7df3" stroke="#c565cc" stroke-width="0.7"/><rect x="754.5" y="254.3" width="13.1" height="12.7" rx="1.2" fill="#ef7df3" stroke="#c565cc" stroke-width="0.7"/><rect x="725.4" y="226.5" width="29.1" height="48.0" rx="3.5" fill="#cfe3fa" stroke="#a9b9cc" stroke-width="1"/><rect x="813.4" y="222.4" width="42.6" height="15.2" rx="1.5" fill="#aeeeff" stroke="#aeeeff" stroke-width="0"/><rect x="815.0" y="224.0" width="39.4" height="12.0" rx="1.2" fill="#b4d4fc" stroke="#a0c4f0" stroke-width="0.7"/><rect x="802.2" y="242.4" width="53.8" height="14.7" rx="1.5" fill="#aeeeff" stroke="#aeeeff" stroke-width="0"/><rect x="803.8" y="244.0" width="50.6" height="11.5" rx="1.2" fill="#b4d4fc" stroke="#a0c4f0" stroke-width="0.7"/><rect x="819.1" y="262.8" width="36.9" height="14.6" rx="1.5" fill="#aeeeff" stroke="#aeeeff" stroke-width="0"/><rect x="820.7" y="264.4" width="33.7" height="11.4" rx="1.2" fill="#b4d4fc" stroke="#a0c4f0" stroke-width="0.7"/><rect x="831.8" y="283.0" width="24.2" height="14.6" rx="1.5" fill="#aeeeff" stroke="#aeeeff" stroke-width="0"/><rect x="833.4" y="284.6" width="21.0" height="11.4" rx="1.2" fill="#b4d4fc" stroke="#a0c4f0" stroke-width="0.7"/><rect x="829.8" y="302.8" width="26.2" height="14.8" rx="1.5" fill="#aeeeff" stroke="#aeeeff" stroke-width="0"/><rect x="831.4" y="304.4" width="23.0" height="11.6" rx="1.2" fill="#b4d4fc" stroke="#a0c4f0" stroke-width="0.7"/><rect x="840.4" y="322.9" width="15.6" height="15.1" rx="1.5" fill="#aeeeff" stroke="#aeeeff" stroke-width="0"/><rect x="842.0" y="324.5" width="12.4" height="11.9" rx="1.2" fill="#ef7df3" stroke="#c565cc" stroke-width="0.7"/><rect x="935.0" y="243.1" width="32.6" height="14.5" rx="1.5" fill="#aeeeff" stroke="#aeeeff" stroke-width="0"/><rect x="936.6" y="244.7" width="29.4" height="11.3" rx="1.2" fill="#b4d4fc" stroke="#a0c4f0" stroke-width="0.7"/><rect x="935.0" y="262.8" width="32.6" height="14.6" rx="1.5" fill="#aeeeff" stroke="#aeeeff" stroke-width="0"/><rect x="936.6" y="264.4" width="29.4" height="11.4" rx="1.2" fill="#b4d4fc" stroke="#a0c4f0" stroke-width="0.7"/><rect x="935.0" y="283.0" width="32.6" height="14.6" rx="1.5" fill="#aeeeff" stroke="#aeeeff" stroke-width="0"/><rect x="936.6" y="284.6" width="29.4" height="11.4" rx="1.2" fill="#b4d4fc" stroke="#a0c4f0" stroke-width="0.7"/><rect x="935.0" y="303.4" width="16.3" height="14.6" rx="1.5" fill="#aeeeff" stroke="#aeeeff" stroke-width="0"/><rect x="936.6" y="305.0" width="13.1" height="11.4" rx="1.2" fill="#ef7df3" stroke="#c565cc" stroke-width="0.7"/><rect x="854.4" y="216.3" width="82.2" height="127.1" rx="3.5" fill="#cfe3fa" stroke="#a4ecfc" stroke-width="1.6"/><rect x="626.5" y="385.0" width="50.8" height="12.0" rx="1.2" fill="#b3cbfb" stroke="#93a8e0" stroke-width="0.7"/><rect x="626.5" y="404.7" width="50.8" height="12.7" rx="1.2" fill="#b3cbfb" stroke="#93a8e0" stroke-width="0.7"/><rect x="643.0" y="424.5" width="34.3" height="12.5" rx="1.2" fill="#b3cbfb" stroke="#93a8e0" stroke-width="0.7"/><rect x="664.0" y="445.0" width="13.3" height="12.3" rx="1.2" fill="#ef7df3" stroke="#c565cc" stroke-width="0.7"/><rect x="742.3" y="404.7" width="34.7" height="12.7" rx="1.2" fill="#b3cbfb" stroke="#93a8e0" stroke-width="0.7"/><rect x="742.3" y="425.0" width="13.7" height="12.0" rx="1.2" fill="#ef7df3" stroke="#c565cc" stroke-width="0.7"/><rect x="677.3" y="377.7" width="65.0" height="87.0" rx="3.5" fill="#cfe3fa" stroke="#a9b9cc" stroke-width="1"/><rect x="302.0" y="419.7" width="23.5" height="11.9" rx="1.2" fill="#b3cbfb" stroke="#93a8e0" stroke-width="0.7"/><rect x="302.0" y="439.7" width="23.5" height="12.1" rx="1.2" fill="#b3cbfb" stroke="#93a8e0" stroke-width="0.7"/><rect x="302.0" y="460.0" width="23.5" height="11.6" rx="1.2" fill="#b3cbfb" stroke="#93a8e0" stroke-width="0.7"/><rect x="302.0" y="480.0" width="23.5" height="11.8" rx="1.2" fill="#b3cbfb" stroke="#93a8e0" stroke-width="0.7"/><rect x="312.9" y="500.4" width="12.6" height="12.1" rx="1.2" fill="#ef7df3" stroke="#c565cc" stroke-width="0.7"/><rect x="382.4" y="419.7" width="34.9" height="11.9" rx="1.2" fill="#b3cbfb" stroke="#93a8e0" stroke-width="0.7"/><rect x="382.4" y="439.7" width="34.9" height="12.1" rx="1.2" fill="#b3cbfb" stroke="#93a8e0" stroke-width="0.7"/><rect x="382.4" y="460.0" width="23.3" height="11.6" rx="1.2" fill="#b3cbfb" stroke="#93a8e0" stroke-width="0.7"/><rect x="382.4" y="480.0" width="23.3" height="11.8" rx="1.2" fill="#b3cbfb" stroke="#93a8e0" stroke-width="0.7"/><rect x="382.4" y="500.4" width="13.9" height="12.1" rx="1.2" fill="#ef7df3" stroke="#c565cc" stroke-width="0.7"/><rect x="325.5" y="412.0" width="56.9" height="106.9" rx="3.5" fill="#cfe3fa" stroke="#a9b9cc" stroke-width="1"/><rect x="453.2" y="504.5" width="51.1" height="11.8" rx="1.2" fill="#b3cbfb" stroke="#93a8e0" stroke-width="0.7"/><rect x="453.2" y="524.4" width="51.1" height="12.2" rx="1.2" fill="#b3cbfb" stroke="#93a8e0" stroke-width="0.7"/><rect x="453.2" y="544.2" width="51.1" height="12.6" rx="1.2" fill="#b3cbfb" stroke="#93a8e0" stroke-width="0.7"/><rect x="481.0" y="564.4" width="23.3" height="11.9" rx="1.2" fill="#b3cbfb" stroke="#93a8e0" stroke-width="0.7"/><rect x="490.7" y="584.6" width="13.6" height="11.9" rx="1.2" fill="#ef7df3" stroke="#c565cc" stroke-width="0.7"/><rect x="557.7" y="503.7" width="51.8" height="22.0" rx="1.2" fill="#b3cbfb" stroke="#93a8e0" stroke-width="0.7"/><rect x="557.7" y="534.0" width="51.8" height="22.0" rx="1.2" fill="#b3cbfb" stroke="#93a8e0" stroke-width="0.7"/><rect x="557.7" y="564.4" width="23.8" height="11.9" rx="1.2" fill="#b3cbfb" stroke="#93a8e0" stroke-width="0.7"/><rect x="557.7" y="584.6" width="13.9" height="11.9" rx="1.2" fill="#ef7df3" stroke="#c565cc" stroke-width="0.7"/><rect x="504.3" y="496.6" width="53.4" height="107.0" rx="3.5" fill="#cfe3fa" stroke="#a9b9cc" stroke-width="1"/><rect x="688.4" y="530.2" width="50.6" height="11.8" rx="1.2" fill="#b3cbfb" stroke="#93a8e0" stroke-width="0.7"/><rect x="704.4" y="550.5" width="34.6" height="11.9" rx="1.2" fill="#b3cbfb" stroke="#93a8e0" stroke-width="0.7"/><rect x="725.0" y="570.7" width="14.0" height="11.9" rx="1.2" fill="#ef7df3" stroke="#c565cc" stroke-width="0.7"/><rect x="814.4" y="530.2" width="28.6" height="11.8" rx="1.2" fill="#b3cbfb" stroke="#93a8e0" stroke-width="0.7"/><rect x="814.4" y="550.5" width="28.6" height="11.9" rx="1.2" fill="#b3cbfb" stroke="#93a8e0" stroke-width="0.7"/><rect x="814.4" y="570.7" width="13.6" height="11.9" rx="1.2" fill="#ef7df3" stroke="#c565cc" stroke-width="0.7"/><rect x="739.0" y="522.5" width="75.4" height="67.2" rx="3.5" fill="#cfe3fa" stroke="#a9b9cc" stroke-width="1"/></svg>
<div class="b" style="left:156px;top:123px;width:804px;height:534px;overflow:hidden"><div class="b" style="left:-156px;top:-123px;width:1898px;height:910px">
<span class="t" id="t96" style="left:165.6px;top:231.3px;font-size:9.5px;color:#0a0f2e;transform:scaleX(0.5957);">三自由度船舶模型2:</span>
<span class="t" id="t97" style="left:165.6px;top:240.9px;font-size:9.5px;color:#0a0f2e;transform:scaleX(0.5788);">航路点输入</span>
<span class="t" id="t98" style="left:165.6px;top:261.4px;font-size:9.5px;color:#0a0f2e;transform:scaleX(0.5788);">外部干扰描述字接口</span>
<span class="t" id="t99" style="left:165.6px;top:271.1px;font-size:9.5px;color:#0a0f2e;transform:scaleX(0.5977);">模块:外部干扰结构</span>
<span class="t" id="t100" style="left:165.6px;top:280.7px;font-size:9.5px;color:#0a0f2e;transform:scaleX(0.5786);">体列表</span>
<span class="t" id="t101" style="left:254.8px;top:236.5px;font-size:9.5px;color:#0a0f2e;transform:scaleX(0.5957);">三自由度船舶模型2:</span>
<span class="t" id="t102" style="left:254.8px;top:246.1px;font-size:9.5px;color:#0a0f2e;transform:scaleX(0.5787);">目标信息</span>
<span class="t" id="t103" style="left:254.8px;top:266.2px;font-size:9.5px;color:#0a0f2e;transform:scaleX(0.5788);">外部干扰描述字接口</span>
<span class="t" id="t104" style="left:254.8px;top:275.8px;font-size:9.5px;color:#0a0f2e;transform:scaleX(0.5977);">模块:干扰参数列表</span>
<span class="t" id="t105" style="left:203.8px;top:300.9px;font-size:9.5px;color:#2c0634;transform:scaleX(0.5785);">下游</span>
<span class="t" id="t106" style="left:254.8px;top:296.1px;font-size:9.5px;color:#2c0634;transform:scaleX(0.5785);">上游</span>
<span class="t f" id="t107" style="left:218.9px;top:257.3px;font-size:10px;color:#0c0c0c;font-weight:bold;transform:scaleX(0.6600);">固定干扰机</span>
<span class="t f" id="t108" style="left:218.9px;top:268.7px;font-size:10px;color:#0c0c0c;font-weight:bold;transform:scaleX(0.6600);">固定干扰机</span>
<span class="t" id="t109" style="left:382.9px;top:116.2px;font-size:9.5px;color:#0a0f2e;transform:scaleX(0.5977);">主动导引头首模块:</span>
<span class="t" id="t110" style="left:382.9px;top:125.8px;font-size:9.5px;color:#0a0f2e;transform:scaleX(0.5788);">自身平台信息</span>
<span class="t" id="t111" style="left:382.9px;top:148.8px;font-size:9.5px;color:#0a0f2e;transform:scaleX(0.5977);">主动导引头首模块:</span>
<span class="t" id="t112" style="left:382.9px;top:158.5px;font-size:9.5px;color:#0a0f2e;transform:scaleX(0.5787);">目标信息</span>
<span class="t" id="t113" style="left:382.9px;top:178.9px;font-size:9.5px;color:#0a0f2e;transform:scaleX(0.5977);">主动导引头首模块:</span>
<span class="t" id="t114" style="left:382.9px;top:188.5px;font-size:9.5px;color:#0a0f2e;transform:scaleX(0.5788);">开关机指令信息</span>
<span class="t" id="t115" style="left:382.9px;top:209.3px;font-size:9.5px;color:#0a0f2e;transform:scaleX(0.5977);">主动导引头首模块:</span>
<span class="t" id="t116" style="left:382.9px;top:219.0px;font-size:9.5px;color:#0a0f2e;transform:scaleX(0.5788);">被动头情报信息</span>
<span class="t" id="t117" style="left:495.9px;top:116.2px;font-size:9.5px;color:#0a0f2e;transform:scaleX(0.5977);">点迹信息输出模块:</span>
<span class="t" id="t118" style="left:495.9px;top:125.8px;font-size:9.5px;color:#0a0f2e;transform:scaleX(0.5787);">点迹信息</span>
<span class="t" id="t119" style="left:495.9px;top:148.8px;font-size:9.5px;color:#0a0f2e;transform:scaleX(0.5977);">主动导引头尾模块:</span>
<span class="t" id="t120" style="left:495.9px;top:158.5px;font-size:9.5px;color:#0a0f2e;transform:scaleX(0.5788);">输出情报信息</span>
<span class="t" id="t121" style="left:495.9px;top:178.9px;font-size:9.5px;color:#0a0f2e;transform:scaleX(0.5977);">节点信息输出模块:</span>
<span class="t" id="t122" style="left:495.9px;top:188.5px;font-size:9.5px;color:#0a0f2e;transform:scaleX(0.5787);">节点信息</span>
<span class="t" id="t123" style="left:418.3px;top:239.0px;font-size:9.5px;color:#2c0634;transform:scaleX(0.5785);">下游</span>
<span class="t" id="t124" style="left:495.9px;top:208.9px;font-size:9.5px;color:#2c0634;transform:scaleX(0.5785);">上游</span>
<span class="t f" id="t125" style="left:436.6px;top:157.8px;font-size:10px;color:#0c0c0c;font-weight:bold;transform:scaleX(0.6625);">主动导引头加干扰</span>
<span class="t f" id="t126" style="left:433.1px;top:169.2px;font-size:10px;color:#0c0c0c;font-weight:bold;transform:scaleX(0.6792);">主动导引头加干扰-0</span>
<span class="t" id="t127" style="left:702.5px;top:234.5px;font-size:9.5px;color:#0a0f2e;transform:scaleX(0.5787);">目标信息</span>
<span class="t" id="t128" style="left:755.1px;top:234.5px;font-size:9.5px;color:#0a0f2e;transform:scaleX(0.5740);">INS输出</span>
<span class="t" id="t129" style="left:712.6px;top:254.6px;font-size:9.5px;color:#2c0634;transform:scaleX(0.5785);">下游</span>
<span class="t" id="t130" style="left:755.1px;top:254.6px;font-size:9.5px;color:#2c0634;transform:scaleX(0.5785);">上游</span>
<span class="t f" id="t131" style="left:734.5px;top:238.3px;font-size:10px;color:#0c0c0c;font-weight:bold;transform:scaleX(0.5818);">IMS</span>
<span class="t f" id="t132" style="left:728.5px;top:249.7px;font-size:10px;color:#0c0c0c;font-weight:bold;transform:scaleX(0.5912);">IMS模块</span>
<span class="t" id="t133" style="left:815.6px;top:224.0px;font-size:9.5px;color:#0a0f2e;transform:scaleX(0.5788);">中制导信息输入</span>
<span class="t" id="t134" style="left:804.4px;top:243.8px;font-size:9.5px;color:#0a0f2e;transform:scaleX(0.5788);">主动导引头情报信息</span>
<span class="t" id="t135" style="left:821.3px;top:264.1px;font-size:9.5px;color:#0a0f2e;transform:scaleX(0.5770);">情报融合输入</span>
<span class="t" id="t136" style="left:834.0px;top:284.3px;font-size:9.5px;color:#0a0f2e;transform:scaleX(0.5740);">INS输入</span>
<span class="t" id="t137" style="left:832.0px;top:304.2px;font-size:9.5px;color:#0a0f2e;transform:scaleX(0.5787);">定位输入</span>
<span class="t" id="t138" style="left:842.6px;top:324.4px;font-size:9.5px;color:#2c0634;transform:scaleX(0.5785);">下游</span>
<span class="t" id="t139" style="left:937.2px;top:244.3px;font-size:9.5px;color:#0a0f2e;transform:scaleX(0.5787);">制导输出</span>
<span class="t" id="t140" style="left:937.2px;top:264.1px;font-size:9.5px;color:#0a0f2e;transform:scaleX(0.5788);">中制导指令</span>
<span class="t" id="t141" style="left:937.2px;top:284.3px;font-size:9.5px;color:#0a0f2e;transform:scaleX(0.5788);">主动导引头</span>
<span class="t" id="t142" style="left:937.2px;top:304.7px;font-size:9.5px;color:#2c0634;transform:scaleX(0.5785);">上游</span>
<span class="t f" id="t143" style="left:856.5px;top:267.8px;font-size:10px;color:#0c0c0c;font-weight:bold;transform:scaleX(0.7467);">IMS_Satellite_Guidance</span>
<span class="t f" id="t144" style="left:882.5px;top:279.2px;font-size:10px;color:#0c0c0c;font-weight:bold;transform:scaleX(0.6500);">复合制导</span>
<span class="t" id="t145" style="left:627.1px;top:385.0px;font-size:9.5px;color:#0a0f2e;transform:scaleX(0.5788);">主动导引头情报信息</span>
<span class="t" id="t146" style="left:627.1px;top:405.0px;font-size:9.5px;color:#0a0f2e;transform:scaleX(0.5788);">被动导引头情报信息</span>
<span class="t" id="t147" style="left:643.6px;top:424.8px;font-size:9.5px;color:#0a0f2e;transform:scaleX(0.5788);">卫星情报信息</span>
<span class="t" id="t148" style="left:664.6px;top:445.1px;font-size:9.5px;color:#2c0634;transform:scaleX(0.5785);">下游</span>
<span class="t" id="t149" style="left:742.9px;top:405.0px;font-size:9.5px;color:#0a0f2e;transform:scaleX(0.5788);">情报融合结果</span>
<span class="t" id="t150" style="left:742.9px;top:425.0px;font-size:9.5px;color:#2c0634;transform:scaleX(0.5785);">上游</span>
<span class="t f" id="t151" style="left:679.8px;top:409.3px;font-size:10px;color:#0c0c0c;font-weight:bold;transform:scaleX(0.7396);">InformationFusion</span>
<span class="t f" id="t152" style="left:686.8px;top:420.7px;font-size:10px;color:#0c0c0c;font-weight:bold;transform:scaleX(0.6731);">情报融合模块-0</span>
<span class="t" id="t153" style="left:302.6px;top:419.6px;font-size:9.5px;color:#0a0f2e;transform:scaleX(0.5787);">发射指令</span>
<span class="t" id="t154" style="left:302.6px;top:439.8px;font-size:9.5px;color:#0a0f2e;transform:scaleX(0.5787);">攻击指令</span>
<span class="t" id="t155" style="left:302.6px;top:459.8px;font-size:9.5px;color:#0a0f2e;transform:scaleX(0.5787);">目标信息</span>
<span class="t" id="t156" style="left:302.6px;top:479.9px;font-size:9.5px;color:#0a0f2e;transform:scaleX(0.5787);">制导信息</span>
<span class="t" id="t157" style="left:313.5px;top:500.4px;font-size:9.5px;color:#2c0634;transform:scaleX(0.5785);">下游</span>
<span class="t" id="t158" style="left:383.0px;top:419.6px;font-size:9.5px;color:#0a0f2e;transform:scaleX(0.5788);">弹道文件输出</span>
<span class="t" id="t159" style="left:383.0px;top:439.8px;font-size:9.5px;color:#0a0f2e;transform:scaleX(0.5788);">飞行状态信息</span>
<span class="t" id="t160" style="left:383.0px;top:459.8px;font-size:9.5px;color:#0a0f2e;transform:scaleX(0.5787);">目标信息</span>
<span class="t" id="t161" style="left:383.0px;top:479.9px;font-size:9.5px;color:#0a0f2e;transform:scaleX(0.5787);">毁伤信息</span>
<span class="t" id="t162" style="left:383.0px;top:500.4px;font-size:9.5px;color:#2c0634;transform:scaleX(0.5785);">上游</span>
<span class="t f" id="t163" style="left:330.9px;top:453.8px;font-size:10px;color:#0c0c0c;font-weight:bold;transform:scaleX(0.7912);">BallisticTraj2</span>
<span class="t f" id="t164" style="left:327.4px;top:465.2px;font-size:10px;color:#0c0c0c;font-weight:bold;transform:scaleX(0.6625);">弹道导弹运动模型</span>
<span class="t" id="t165" style="left:453.8px;top:504.4px;font-size:9.5px;color:#0a0f2e;transform:scaleX(0.5788);">融合情报信息结构体</span>
<span class="t" id="t166" style="left:453.8px;top:524.5px;font-size:9.5px;color:#0a0f2e;transform:scaleX(0.5788);">毁伤信息信息结构体</span>
<span class="t" id="t167" style="left:453.8px;top:544.5px;font-size:9.5px;color:#0a0f2e;transform:scaleX(0.5788);">自身目标信息结构体</span>
<span class="t" id="t168" style="left:481.6px;top:564.3px;font-size:9.5px;color:#0a0f2e;transform:scaleX(0.5787);">发射指令</span>
<span class="t" id="t169" style="left:491.3px;top:584.5px;font-size:9.5px;color:#2c0634;transform:scaleX(0.5785);">下游</span>
<span class="t" id="t170" style="left:558.3px;top:503.9px;font-size:9.5px;color:#0a0f2e;transform:scaleX(0.5788);">主动导引头开关机指</span>
<span class="t" id="t171" style="left:558.3px;top:513.5px;font-size:9.5px;color:#0a0f2e;transform:scaleX(0.5786);">令信息</span>
<span class="t" id="t172" style="left:558.3px;top:534.2px;font-size:9.5px;color:#0a0f2e;transform:scaleX(0.5788);">被动导引头开关机指</span>
<span class="t" id="t173" style="left:558.3px;top:543.8px;font-size:9.5px;color:#0a0f2e;transform:scaleX(0.5786);">令信息</span>
<span class="t" id="t174" style="left:558.3px;top:564.3px;font-size:9.5px;color:#0a0f2e;transform:scaleX(0.5787);">发射指令</span>
<span class="t" id="t175" style="left:558.3px;top:584.5px;font-size:9.5px;color:#2c0634;transform:scaleX(0.5785);">上游</span>
<span class="t f" id="t176" style="left:507.0px;top:538.3px;font-size:10px;color:#0c0c0c;font-weight:bold;transform:scaleX(0.7533);">Flight_Control</span>
<span class="t f" id="t177" style="left:508.0px;top:549.7px;font-size:10px;color:#0c0c0c;font-weight:bold;transform:scaleX(0.6731);">飞行控制模块-0</span>
<span class="t" id="t178" style="left:689.0px;top:530.1px;font-size:9.5px;color:#0a0f2e;transform:scaleX(0.5788);">自身平台运动信息内</span>
<span class="t" id="t179" style="left:705.0px;top:550.5px;font-size:9.5px;color:#0a0f2e;transform:scaleX(0.5788);">定位计算信息</span>
<span class="t" id="t180" style="left:725.6px;top:570.7px;font-size:9.5px;color:#2c0634;transform:scaleX(0.5785);">下游</span>
<span class="t" id="t181" style="left:815.0px;top:530.1px;font-size:9.5px;color:#0a0f2e;transform:scaleX(0.5788);">定位信息内</span>
<span class="t" id="t182" style="left:815.0px;top:550.5px;font-size:9.5px;color:#0a0f2e;transform:scaleX(0.5788);">定位信息外</span>
<span class="t" id="t183" style="left:815.0px;top:570.7px;font-size:9.5px;color:#2c0634;transform:scaleX(0.5785);">上游</span>
<span class="t f" id="t184" style="left:741.2px;top:543.8px;font-size:10px;color:#0c0c0c;font-weight:bold;transform:scaleX(0.8634);">PositioningSatellite</span>
<span class="t f" id="t185" style="left:753.7px;top:555.2px;font-size:10px;color:#0c0c0c;font-weight:bold;transform:scaleX(0.6224);">BD定位卫星模块</span>
</div></div>
<div class="b" style="left:89.0px;top:416.0px;width:208.0px;height:261.0px;box-shadow:0 1px 7px 2px rgba(0,0,0,0.55);left:92.5px;top:419.5px;width:201px;height:254px;"></div>
<div class="b" style="left:92.5px;top:419.5px;width:201.0px;height:254.0px;background:#232323;"></div>
<div class="b" style="left:92.5px;top:419.5px;width:201.0px;height:23.0px;background:#ffffff;"></div>
<svg style="left:96.5px;top:425px" width="9" height="11" viewBox="0 0 9 11"><rect x="0.5" y="0.5" width="8" height="10" rx="1" fill="#e9eef5" stroke="#8da2c0" stroke-width="0.8"/><path d="M2,8L4.5,3L7,7" fill="none" stroke="#d08a2a" stroke-width="1.2"/><circle cx="3" cy="3.4" r="1.1" fill="#3a78c8"/></svg>
<span class="t" id="t186" style="left:107.0px;top:425.3px;font-size:9.5px;color:#222;transform:scaleX(0.6726);">UiRunner</span>
<div class="b" style="left:233.0px;top:430.3px;width:6.5px;height:1.0px;background:#333;"></div>
<div class="b" style="left:256.5px;top:426.5px;width:5.0px;height:8.0px;border:1.1px solid #333;"></div>
<span class="t" id="t187" style="left:278.0px;top:424.5px;font-size:10px;color:#c8c8c8;transform:scaleX(0.8750);">✕</span>
<div class="b" style="left:102.5px;top:457.8px;width:181.0px;height:201.0px;background:#000;"></div>
<svg style="left:0;top:0" width="1898" height="910" viewBox="0 0 1898 910"><rect x="130.7" y="475.9" width="138.60000000000002" height="154.70000000000005" fill="none" stroke="#d8d8d8" stroke-width="1"/><path d="M130.7,491.4H269.3" stroke="#b4b4b4" stroke-width="0.75" stroke-dasharray="1.1 1.1"/><path d="M130.7,506.8H269.3" stroke="#b4b4b4" stroke-width="0.75" stroke-dasharray="1.1 1.1"/><path d="M130.7,522.3H269.3" stroke="#b4b4b4" stroke-width="0.75" stroke-dasharray="1.1 1.1"/><path d="M130.7,537.8H269.3" stroke="#b4b4b4" stroke-width="0.75" stroke-dasharray="1.1 1.1"/><path d="M130.7,553.2H269.3" stroke="#b4b4b4" stroke-width="0.75" stroke-dasharray="1.1 1.1"/><path d="M130.7,568.7H269.3" stroke="#b4b4b4" stroke-width="0.75" stroke-dasharray="1.1 1.1"/><path d="M130.7,584.2H269.3" stroke="#b4b4b4" stroke-width="0.75" stroke-dasharray="1.1 1.1"/><path d="M130.7,599.7H269.3" stroke="#b4b4b4" stroke-width="0.75" stroke-dasharray="1.1 1.1"/><path d="M130.7,615.1H269.3" stroke="#b4b4b4" stroke-width="0.75" stroke-dasharray="1.1 1.1"/><path d="M144.6,475.9V630.6" stroke="#b4b4b4" stroke-width="0.75" stroke-dasharray="1.1 1.1"/><path d="M158.4,475.9V630.6" stroke="#b4b4b4" stroke-width="0.75" stroke-dasharray="1.1 1.1"/><path d="M172.3,475.9V630.6" stroke="#b4b4b4" stroke-width="0.75" stroke-dasharray="1.1 1.1"/><path d="M186.1,475.9V630.6" stroke="#b4b4b4" stroke-width="0.75" stroke-dasharray="1.1 1.1"/><path d="M200.0,475.9V630.6" stroke="#b4b4b4" stroke-width="0.75" stroke-dasharray="1.1 1.1"/><path d="M213.9,475.9V630.6" stroke="#b4b4b4" stroke-width="0.75" stroke-dasharray="1.1 1.1"/><path d="M227.7,475.9V630.6" stroke="#b4b4b4" stroke-width="0.75" stroke-dasharray="1.1 1.1"/><path d="M241.6,475.9V630.6" stroke="#b4b4b4" stroke-width="0.75" stroke-dasharray="1.1 1.1"/><path d="M255.4,475.9V630.6" stroke="#b4b4b4" stroke-width="0.75" stroke-dasharray="1.1 1.1"/><path d="M147.5,621.8 L147.6,600.7 L147.7,608.7 L147.8,630.6 L147.9,630.6 L148.1,630.6 L148.2,613.8 L148.3,627.9 L148.4,604.1 L148.5,606.5 L148.6,579.4 L148.7,593.1 L148.8,630.6 L148.9,618.9 L149.0,624.9 L149.2,603.3 L149.3,606.7 L149.4,630.4 L149.5,601.2 L149.6,618.4 L149.7,611.8 L149.8,595.7 L149.9,621.5 L150.0,608.3 L150.1,598.6 L150.3,578.5 L150.4,613.2 L150.5,625.6 L150.6,630.6 L150.7,596.7 L150.8,591.5 L150.9,599.9 L151.0,605.3 L151.1,593.0 L151.2,610.2 L151.4,629.6 L151.5,601.9 L151.6,593.7 L151.7,614.1 L151.8,630.6 L151.9,630.0 L152.0,629.4 L152.1,626.0 L152.2,613.7 L152.3,628.2 L152.5,606.1 L152.6,593.4 L152.7,618.8 L152.8,615.0 L152.9,578.8 L153.0,623.4 L153.1,620.7 L153.2,603.9 L153.3,630.6 L153.4,614.2 L153.6,586.7 L153.7,607.2 L153.8,596.6 L153.9,589.1 L154.0,590.2 L154.1,612.8 L154.2,626.4 L154.3,630.6 L154.4,626.4 L154.5,617.9 L154.7,630.6 L154.8,626.2 L154.9,629.8 L155.0,600.1 L155.1,619.0 L155.2,615.9 L155.3,590.7 L155.4,608.6 L155.5,630.6 L155.6,614.2 L155.8,585.5 L155.9,629.0 L156.0,604.6 L156.1,603.6 L156.2,604.9 L156.3,589.1 L156.4,617.3 L156.5,621.6 L156.6,604.3 L156.7,613.7 L156.9,591.0 L157.0,588.9 L157.1,590.4 L157.2,618.1 L157.3,614.5 L157.4,627.3 L157.5,616.3 L157.6,583.4 L157.7,584.2 L157.8,583.3 L158.0,617.7 L158.1,618.7 L158.2,598.5 L158.3,588.2 L158.4,596.9 L158.5,623.5 L158.6,584.6 L158.7,592.0 L158.8,618.8 L158.9,611.5 L159.1,581.3 L159.2,608.0 L159.3,588.8 L159.4,627.2 L159.5,584.0 L159.6,619.6 L159.7,580.3 L159.8,609.8 L159.9,626.4 L160.0,580.4 L160.2,601.2 L160.3,605.4 L160.4,586.9 L160.5,613.8 L160.6,614.2 L160.7,613.2 L160.8,619.1 L160.9,608.5 L161.0,597.6 L161.1,605.2 L161.3,601.3 L161.4,599.7 L161.5,605.0 L161.6,624.4 L161.7,616.3 L161.8,590.2 L161.9,608.9 L162.0,598.0 L162.1,619.0 L162.2,612.2 L162.4,587.5 L162.5,597.3 L162.6,580.7 L162.7,594.7 L162.8,599.3 L162.9,602.0 L163.0,600.7 L163.1,590.2 L163.2,578.6 L163.3,596.5 L163.5,577.3 L163.6,616.8 L163.7,619.0 L163.8,618.9 L163.9,585.3 L164.0,614.8 L164.1,588.1 L164.2,580.3 L164.3,611.4 L164.4,602.9 L164.6,574.9 L164.7,613.7 L164.8,597.0 L164.9,611.9 L165.0,583.2 L165.1,594.8 L165.2,619.9 L165.3,591.3 L165.4,617.5 L165.5,583.3 L165.7,615.3 L165.8,618.3 L165.9,611.3 L166.0,600.0 L166.1,581.2 L166.2,612.6 L166.3,592.7 L166.4,622.3 L166.5,586.9 L166.6,615.7 L166.8,589.2 L166.9,615.0 L167.0,615.7 L167.1,597.3 L167.2,592.5 L167.3,609.8 L167.4,593.5 L167.5,619.8 L167.6,615.7 L167.7,603.3 L167.9,582.1 L168.0,594.2 L168.1,603.9 L168.2,610.0 L168.3,582.9 L168.4,608.3 L168.5,565.6 L168.6,578.5 L168.7,593.6 L168.8,598.2 L169.0,584.3 L169.1,600.4 L169.2,583.1 L169.3,597.2 L169.4,621.3 L169.5,612.7 L169.6,608.1 L169.7,611.8 L169.8,574.7 L169.9,602.2 L170.1,601.6 L170.2,607.8 L170.3,602.6 L170.4,569.1 L170.5,603.2 L170.6,600.0 L170.7,614.3 L170.8,591.8 L170.9,604.5 L171.0,613.6 L171.2,609.4 L171.3,619.5 L171.4,599.0 L171.5,585.6 L171.6,577.7 L171.7,579.1 L171.8,594.3 L171.9,557.8 L172.0,578.2 L172.1,610.1 L172.3,570.0 L172.4,577.3 L172.5,605.1 L172.6,587.7 L172.7,573.4 L172.8,583.6 L172.9,578.8 L173.0,604.6 L173.1,604.3 L173.2,605.5 L173.4,584.0 L173.5,580.6 L173.6,587.1 L173.7,572.2 L173.8,585.9 L173.9,575.6 L174.0,574.6 L174.1,605.6 L174.2,574.6 L174.3,573.9 L174.5,585.3 L174.6,585.9 L174.7,572.1 L174.8,575.3 L174.9,600.9 L175.0,574.9 L175.1,580.5 L175.2,600.6 L175.3,577.1 L175.4,576.8 L175.6,582.7 L175.7,584.9 L175.8,562.4 L175.9,564.6 L176.0,601.1 L176.1,570.2 L176.2,584.1 L176.3,593.0 L176.4,592.8 L176.5,595.2 L176.7,557.6 L176.8,568.8 L176.9,566.0 L177.0,590.8 L177.1,581.0 L177.2,599.0 L177.3,581.7 L177.4,593.3 L177.5,586.4 L177.6,598.1 L177.8,561.1 L177.9,562.3 L178.0,563.0 L178.1,583.0 L178.2,558.8 L178.3,583.0 L178.4,589.2 L178.5,592.4 L178.6,585.1 L178.7,586.3 L178.9,575.9 L179.0,581.1 L179.1,561.3 L179.2,570.8 L179.3,558.7 L179.4,563.8 L179.5,566.2 L179.6,565.1 L179.7,585.7 L179.8,552.0 L180.0,575.2 L180.1,581.6 L180.2,555.4 L180.3,567.4 L180.4,570.9 L180.5,590.3 L180.6,583.8 L180.7,572.5 L180.8,556.7 L180.9,574.6 L181.1,587.7 L181.2,579.5 L181.3,580.8 L181.4,567.8 L181.5,560.6 L181.6,573.0 L181.7,574.0 L181.8,585.7 L181.9,544.1 L182.0,568.1 L182.2,553.9 L182.3,576.2 L182.4,570.9 L182.5,549.3 L182.6,546.8 L182.7,583.8 L182.8,550.4 L182.9,560.6 L183.0,568.9 L183.1,551.9 L183.3,545.9 L183.4,584.0 L183.5,562.4 L183.6,546.0 L183.7,556.8 L183.8,563.7 L183.9,579.3 L184.0,571.5 L184.1,555.4 L184.2,574.8 L184.4,554.9 L184.5,580.1 L184.6,558.5 L184.7,563.3 L184.8,553.3 L184.9,565.8 L185.0,540.3 L185.1,542.5 L185.2,566.7 L185.3,538.4 L185.5,565.4 L185.6,554.8 L185.7,557.1 L185.8,547.1 L185.9,562.7 L186.0,556.5 L186.1,545.0 L186.2,543.1 L186.3,550.2 L186.4,537.3 L186.6,540.6 L186.7,555.8 L186.8,553.3 L186.9,547.4 L187.0,553.9 L187.1,541.6 L187.2,554.7 L187.3,552.3 L187.4,557.1 L187.5,555.1 L187.7,532.3 L187.8,536.1 L187.9,530.2 L188.0,549.3 L188.1,531.1 L188.2,534.7 L188.3,541.3 L188.4,548.9 L188.5,541.8 L188.6,518.4 L188.8,521.6 L188.9,536.7 L189.0,523.4 L189.1,542.8 L189.2,533.2 L189.3,536.9 L189.4,513.4 L189.5,529.1 L189.6,516.1 L189.7,541.6 L189.9,512.6 L190.0,516.1 L190.1,525.7 L190.2,508.0 L190.3,525.0 L190.4,522.2 L190.5,529.1 L190.6,503.6 L190.7,497.2 L190.8,519.0 L191.0,498.5 L191.1,512.2 L191.2,509.7 L191.3,491.0 L191.4,497.1 L191.5,495.2 L191.6,499.5 L191.7,505.8 L191.8,489.4 L191.9,506.3 L192.1,505.8 L192.2,506.9 L192.3,497.2 L192.4,480.4 L192.5,497.1 L192.6,497.2 L192.7,479.0 L192.8,489.5 L192.9,477.3 L193.0,475.9 L193.2,475.9 L193.3,475.9 L193.4,475.9 L193.5,475.9 L193.6,475.9 L193.7,477.3 L193.8,475.9 L193.9,475.9" fill="none" stroke="#08ff08" stroke-width="1.05" stroke-linejoin="round"/><path d="M211.0,553.1 L211.1,544.0 L211.2,533.2 L211.3,550.5 L211.4,539.7 L211.6,559.7 L211.7,560.2 L211.8,532.8 L211.9,532.8 L212.0,533.4 L212.1,548.3 L212.2,524.6 L212.3,537.1 L212.4,546.0 L212.5,547.4 L212.7,544.7 L212.8,534.5 L212.9,551.7 L213.0,532.6 L213.1,544.3 L213.2,531.8 L213.3,555.7 L213.4,543.0 L213.5,535.5 L213.6,549.7 L213.8,543.5 L213.9,546.5 L214.0,546.6 L214.1,545.7 L214.2,532.6 L214.3,547.5 L214.4,536.8 L214.5,556.2 L214.6,545.4 L214.7,546.2 L214.9,545.4 L215.0,557.1 L215.1,540.9 L215.2,555.8 L215.3,548.6 L215.4,554.8 L215.5,545.2 L215.6,556.4 L215.7,538.3 L215.8,557.6 L216.0,535.2 L216.1,547.9 L216.2,536.4 L216.3,537.3 L216.4,536.7 L216.5,541.2 L216.6,551.7 L216.7,537.7 L216.8,557.4 L216.9,549.9 L217.1,560.7 L217.2,545.2 L217.3,563.6 L217.4,542.5 L217.5,540.0 L217.6,550.0 L217.7,549.7 L217.8,556.5 L217.9,556.6 L218.0,556.2 L218.2,572.8 L218.3,555.3 L218.4,545.2 L218.5,557.9 L218.6,557.5 L218.7,570.7 L218.8,572.4 L218.9,556.7 L219.0,550.5 L219.1,549.1 L219.3,557.8 L219.4,558.6 L219.5,535.6 L219.6,545.9 L219.7,551.0 L219.8,572.0 L219.9,561.0 L220.0,539.3 L220.1,550.3 L220.2,578.2 L220.4,548.5 L220.5,547.0 L220.6,545.9 L220.7,562.6 L220.8,574.1 L220.9,563.0 L221.0,587.7 L221.1,576.7 L221.2,557.2 L221.3,577.0 L221.5,579.3 L221.6,559.6 L221.7,550.9 L221.8,562.3 L221.9,580.8 L222.0,561.0 L222.1,554.8 L222.2,547.7 L222.3,572.1 L222.4,570.0 L222.6,554.6 L222.7,555.3 L222.8,562.5 L222.9,564.8 L223.0,578.2 L223.1,593.0 L223.2,564.5 L223.3,568.7 L223.4,583.5 L223.5,561.7 L223.7,589.0 L223.8,585.3 L223.9,581.1 L224.0,567.4 L224.1,566.4 L224.2,585.3 L224.3,585.1 L224.4,587.4 L224.5,558.0 L224.6,576.2 L224.8,591.4 L224.9,570.6 L225.0,567.7 L225.1,556.8 L225.2,583.3 L225.3,591.2 L225.4,577.6 L225.5,591.0 L225.6,593.0 L225.7,551.5 L225.9,586.2 L226.0,574.6 L226.1,558.6 L226.2,582.5 L226.3,592.6 L226.4,564.7 L226.5,594.6 L226.6,566.5 L226.7,566.8 L226.8,590.5 L227.0,590.4 L227.1,582.8 L227.2,569.3 L227.3,568.8 L227.4,575.0 L227.5,566.2 L227.6,586.4 L227.7,559.8 L227.8,557.9 L227.9,587.1 L228.1,568.8 L228.2,568.8 L228.3,563.9 L228.4,588.6 L228.5,573.8 L228.6,572.6 L228.7,580.3 L228.8,571.7 L228.9,581.8 L229.0,576.9 L229.2,590.8 L229.3,596.1 L229.4,598.7 L229.5,595.3 L229.6,588.6 L229.7,605.3 L229.8,573.4 L229.9,573.4 L230.0,597.7 L230.1,586.5 L230.3,569.3 L230.4,598.2 L230.5,566.0 L230.6,597.0 L230.7,602.5 L230.8,569.0 L230.9,577.4 L231.0,577.6 L231.1,603.8 L231.2,573.2 L231.4,590.1 L231.5,601.7 L231.6,591.8 L231.7,588.7 L231.8,566.1 L231.9,570.6 L232.0,606.3 L232.1,587.3 L232.2,591.7 L232.3,582.8 L232.5,561.4 L232.6,564.3 L232.7,608.4 L232.8,572.8 L232.9,608.5 L233.0,585.8 L233.1,600.3 L233.2,592.8 L233.3,597.0 L233.4,596.0 L233.6,576.6 L233.7,604.5 L233.8,606.0 L233.9,577.1 L234.0,580.5 L234.1,591.3 L234.2,561.6 L234.3,561.9 L234.4,600.8 L234.5,568.3 L234.7,592.9 L234.8,599.9 L234.9,586.0 L235.0,575.7 L235.1,594.9 L235.2,604.1 L235.3,580.4 L235.4,603.7 L235.5,575.4 L235.6,606.0 L235.8,570.4 L235.9,603.2 L236.0,579.2 L236.1,611.2 L236.2,600.9 L236.3,587.8 L236.4,600.4 L236.5,567.1 L236.6,608.3 L236.7,608.4 L236.9,567.1 L237.0,579.0 L237.1,604.4 L237.2,608.7 L237.3,597.5 L237.4,595.2 L237.5,581.5 L237.6,584.5 L237.7,607.7 L237.8,595.4 L238.0,571.9 L238.1,587.7 L238.2,595.1 L238.3,581.0 L238.4,578.7 L238.5,575.2 L238.6,585.2 L238.7,600.8 L238.8,611.0 L238.9,579.0 L239.1,586.3 L239.2,596.1 L239.3,586.9 L239.4,584.5 L239.5,607.8 L239.6,579.9 L239.7,593.6 L239.8,615.0 L239.9,609.3 L240.0,572.8 L240.2,612.4 L240.3,591.8 L240.4,593.2 L240.5,578.4 L240.6,598.2 L240.7,607.8 L240.8,599.3 L240.9,612.1 L241.0,603.7 L241.1,605.1 L241.3,617.5 L241.4,598.5 L241.5,601.8 L241.6,607.9 L241.7,574.4 L241.8,608.4 L241.9,600.3 L242.0,612.8 L242.1,580.9 L242.2,597.0 L242.4,608.5 L242.5,602.7 L242.6,580.9 L242.7,597.5 L242.8,593.0 L242.9,580.5 L243.0,579.8 L243.1,602.2 L243.2,601.2 L243.3,620.0 L243.5,607.0 L243.6,606.1 L243.7,600.2 L243.8,589.5 L243.9,576.9 L244.0,618.0 L244.1,578.2 L244.2,614.3 L244.3,588.9 L244.4,620.6 L244.6,590.4 L244.7,623.4 L244.8,610.4 L244.9,607.9 L245.0,579.1 L245.1,613.8 L245.2,593.2 L245.3,590.5 L245.4,585.0 L245.5,612.8 L245.7,597.3 L245.8,601.7 L245.9,596.3 L246.0,616.1 L246.1,599.6 L246.2,601.3 L246.3,599.7 L246.4,597.6 L246.5,622.7 L246.6,601.1 L246.8,592.0 L246.9,605.7 L247.0,570.3 L247.1,593.6 L247.2,622.3 L247.3,591.7 L247.4,608.3 L247.5,600.0 L247.6,575.0 L247.7,590.4 L247.9,608.3 L248.0,607.2 L248.1,599.8 L248.2,614.7 L248.3,604.8 L248.4,585.9 L248.5,586.0 L248.6,601.3 L248.7,601.3 L248.8,594.4 L249.0,609.7 L249.1,611.3 L249.2,595.6 L249.3,623.7 L249.4,584.1 L249.5,623.5 L249.6,630.6 L249.7,582.7 L249.8,595.2 L249.9,583.4 L250.1,597.3 L250.2,593.6 L250.3,594.4 L250.4,595.1 L250.5,586.1 L250.6,623.5 L250.7,590.2 L250.8,595.8 L250.9,588.0 L251.0,600.3 L251.2,612.6 L251.3,611.9 L251.4,596.7 L251.5,624.4 L251.6,630.6 L251.7,588.9 L251.8,583.9 L251.9,626.5 L252.0,599.4 L252.1,581.1 L252.3,609.4 L252.4,597.1 L252.5,626.3 L252.6,627.2 L252.7,621.8 L252.8,623.4 L252.9,628.0 L253.0,593.8 L253.1,589.2 L253.2,625.4 L253.4,594.3 L253.5,589.6 L253.6,598.4 L253.7,606.3 L253.8,616.1 L253.9,590.6 L254.0,627.4 L254.1,584.2 L254.2,613.6 L254.3,620.5 L254.5,605.7 L254.6,611.1 L254.7,607.8 L254.8,621.7 L254.9,611.5 L255.0,599.0 L255.1,610.5 L255.2,584.3 L255.3,602.1 L255.4,625.9 L255.6,595.8 L255.7,613.3 L255.8,583.0 L255.9,600.7 L256.0,608.9 L256.1,611.4 L256.2,600.8 L256.3,591.2 L256.4,629.2 L256.5,609.4 L256.7,591.0 L256.8,627.4 L256.9,591.3 L257.0,602.6 L257.1,589.5 L257.2,597.4 L257.3,616.0 L257.4,603.7 L257.5,620.3 L257.6,586.0 L257.8,601.3 L257.9,608.0 L258.0,618.0 L258.1,592.8 L258.2,625.9 L258.3,593.8 L258.4,602.9 L258.5,588.6 L258.6,607.9 L258.7,626.8 L258.9,621.9 L259.0,613.4 L259.1,611.5 L259.2,629.6 L259.3,583.7 L259.4,625.6 L259.5,588.7 L259.6,602.6 L259.7,606.0 L259.8,629.3 L260.0,590.2 L260.1,604.2 L260.2,594.2 L260.3,586.3 L260.4,592.3 L260.5,623.1 L260.6,626.4 L260.7,630.6 L260.8,604.4 L260.9,609.0 L261.1,580.7 L261.2,602.4 L261.3,624.8 L261.4,618.4 L261.5,600.3 L261.6,598.9 L261.7,610.2 L261.8,584.9 L261.9,624.7 L262.0,618.2 L262.2,587.7 L262.3,584.9 L262.4,593.1 L262.5,599.7 L262.6,630.6 L262.7,594.5 L262.8,598.1 L262.9,602.1 L263.0,624.9 L263.1,622.0 L263.3,607.5 L263.4,623.1 L263.5,594.8 L263.6,592.2 L263.7,628.0 L263.8,619.3 L263.9,588.8 L264.0,623.0 L264.1,625.0 L264.2,589.9 L264.4,608.2 L264.5,590.7 L264.6,597.6 L264.7,623.8 L264.8,595.8 L264.9,622.5 L265.0,616.7 L265.1,621.9 L265.2,589.7 L265.3,621.2 L265.5,614.1 L265.6,623.7 L265.7,626.3 L265.8,597.6 L265.9,606.5 L266.0,616.8 L266.1,611.7 L266.2,581.9 L266.3,624.2 L266.4,579.8 L266.6,594.6 L266.7,574.4 L266.8,590.7 L266.9,628.3 L267.0,589.4 L267.1,619.8 L267.2,585.6 L267.3,600.4 L267.4,620.0 L267.5,591.3 L267.7,630.6 L267.8,599.7 L267.9,615.4 L268.0,599.5 L268.1,590.1 L268.2,623.8 L268.3,593.7 L268.4,590.3 L268.5,589.9 L268.6,588.4 L268.8,604.9 L268.9,585.2 L269.0,586.9 L269.1,619.1 L269.2,612.9" fill="none" stroke="#08ff08" stroke-width="1.05" stroke-linejoin="round"/><path d="M208.6,475.9L209.6,626.6L210.4,628.6L211,560.6" fill="none" stroke="#08ff08" stroke-width="1.4"/><path d="M231.2,585.6V548.6" stroke="#08ff08" stroke-width="0.9"/></svg>
<span class="t f" id="t188" style="left:119.5px;top:470.8px;font-size:8.5px;color:#c8c8c8;transform:scaleX(0.8894);">0.1</span>
<span class="t f" id="t189" style="left:116.4px;top:486.3px;font-size:8.5px;color:#c8c8c8;transform:scaleX(0.8471);">0.09</span>
<span class="t f" id="t190" style="left:116.4px;top:501.7px;font-size:8.5px;color:#c8c8c8;transform:scaleX(0.8471);">0.08</span>
<span class="t f" id="t191" style="left:116.4px;top:517.2px;font-size:8.5px;color:#c8c8c8;transform:scaleX(0.8471);">0.07</span>
<span class="t f" id="t192" style="left:116.4px;top:532.7px;font-size:8.5px;color:#c8c8c8;transform:scaleX(0.8471);">0.06</span>
<span class="t f" id="t193" style="left:116.4px;top:548.1px;font-size:8.5px;color:#c8c8c8;transform:scaleX(0.8471);">0.05</span>
<span class="t f" id="t194" style="left:116.4px;top:563.6px;font-size:8.5px;color:#c8c8c8;transform:scaleX(0.8471);">0.04</span>
<span class="t f" id="t195" style="left:116.4px;top:579.1px;font-size:8.5px;color:#c8c8c8;transform:scaleX(0.8471);">0.03</span>
<span class="t f" id="t196" style="left:116.4px;top:594.6px;font-size:8.5px;color:#c8c8c8;transform:scaleX(0.8471);">0.02</span>
<span class="t f" id="t197" style="left:116.4px;top:610.0px;font-size:8.5px;color:#c8c8c8;transform:scaleX(0.8471);">0.01</span>
<span class="t f" id="t198" style="left:125.8px;top:625.5px;font-size:8.5px;color:#c8c8c8;transform:scaleX(0.7412);">0</span>
<span class="t f" id="t199" style="left:125.0px;top:633.9px;font-size:6.5px;color:#c0c0c0;transform:scaleX(1.0560);">-99.98  0  99.9899  999.9999.9899.999  899.9  0899.84</span>
<span class="t f" id="t200" style="left:193.0px;top:645.0px;font-size:7.5px;color:#c8c8c8;transform:scaleX(0.8000);">横轴</span>
<span class="t f" id="t201" style="left:109.5px;top:544.5px;font-size:7.5px;color:#c8c8c8;transform:rotate(-90deg) scaleX(0.8000);">纵轴</span>
<div class="b" style="left:967.0px;top:0.0px;width:913.0px;height:19.0px;background:#0c0c0c;"></div>
<div class="b" style="left:1007.0px;top:0.0px;width:34.0px;height:19.5px;background:#353535;"></div>
<span class="t" id="t202" style="left:976.2px;top:4.5px;font-size:9.5px;color:#e6e6e6;transform:scaleX(0.6304);">导航(N)</span>
<span class="t" id="t203" style="left:1012.5px;top:4.5px;font-size:9.5px;color:#f0f0f0;transform:scaleX(0.5971);">组件管理</span>
<span class="t" id="t204" style="left:1045.7px;top:4.5px;font-size:9.5px;color:#a8a8a8;transform:scaleX(0.5998);">仿真控制</span>
<span class="t" id="t205" style="left:1079.0px;top:4.5px;font-size:9.5px;color:#a8a8a8;transform:scaleX(0.6024);">组件编辑</span>
<span class="t" id="t206" style="left:1113.0px;top:4.5px;font-size:9.5px;color:#a8a8a8;transform:scaleX(0.5919);">视图控制</span>
<span class="t" id="t207" style="left:1145.5px;top:4.5px;font-size:9.5px;color:#a8a8a8;transform:scaleX(0.6182);">系统设置</span>
<span class="t" id="t208" style="left:1816.5px;top:4.5px;font-size:9.5px;color:#e0e0e0;transform:scaleX(0.5785);">设置</span>
<span class="t" id="t209" style="left:1835.0px;top:4.5px;font-size:9.5px;color:#e0e0e0;transform:scaleX(0.6048);">选项</span>
<span class="t" id="t210" style="left:1858.0px;top:4.5px;font-size:9.5px;color:#e0e0e0;transform:scaleX(0.6488);">最小化</span>
<svg style="left:1846.5px;top:5.5px" width="10" height="10" viewBox="-5 -5 10 10"><polygon points="0,1.2000000000000002 1.5,-1.2000000000000002 -1.5,-1.2000000000000002" fill="#bbb"/></svg>
<div class="b" style="left:967.0px;top:19.0px;width:913.0px;height:81.0px;background:#353535;"></div>
<div class="b" style="left:967.0px;top:99.5px;width:913.0px;height:1.0px;background:#3c3c3c;"></div>
<div class="b" style="left:1103.5px;top:23.0px;width:1.0px;height:73.0px;background:#3a3a3a;"></div>
<div class="b" style="left:1144.0px;top:23.0px;width:1.0px;height:73.0px;background:#3a3a3a;"></div>
<svg style="left:974.9px;top:28.3px" width="11" height="19" viewBox="0 0 13 20" preserveAspectRatio="none"><path d="M8.5,18.6H1.2V4L4.2,1H11.6V12.5" fill="none" stroke="#f0f0f0" stroke-width="1.7"/><path d="M9.8,13.2V19.6M6.6,16.4H13" stroke="#f0f0f0" stroke-width="1.8"/></svg>
<svg style="left:993.6px;top:28.3px" width="11.4" height="19" viewBox="0 0 13 20" preserveAspectRatio="none"><path d="M2.6,12V4L5.2,1H10.8V12" fill="none" stroke="#f0f0f0" stroke-width="1.6"/><path d="M0.4,12.4H12.6L11.8,19H1.2Z" fill="#f0f0f0"/><rect x="5.4" y="4.4" width="3" height="6" fill="#8e8e8e"/></svg>
<svg style="left:1013.2px;top:28.3px" width="10.6" height="19" viewBox="0 0 13 20" preserveAspectRatio="none"><rect x="1" y="1" width="11" height="18" fill="none" stroke="#f0f0f0" stroke-width="1.7"/><path d="M4,1.5V5.6H9V1.5" fill="none" stroke="#f0f0f0" stroke-width="1.4"/></svg>
<svg style="left:1034.5px;top:28.3px" width="11" height="19" viewBox="0 0 13 20" preserveAspectRatio="none"><path d="M6,18.6H1.2V1H11.4V11" fill="none" stroke="#f0f0f0" stroke-width="1.7"/><path d="M4,1.5V5.6H8.8V1.5" fill="none" stroke="#f0f0f0" stroke-width="1.4"/><path d="M7.6,18.5V14.6H12" fill="none" stroke="#f0f0f0" stroke-width="1.5"/><path d="M10.4,12L13,14.6L10.4,17.2Z" fill="#f0f0f0"/></svg>
<svg style="left:1062.3px;top:29px" width="11" height="17.5" viewBox="0 0 13 18" preserveAspectRatio="none"><path d="M1.1,1.1H9.4L11.9,3.6V16.9H1.1Z" fill="none" stroke="#2bc596" stroke-width="2"/><path d="M3.8,1.5V4.4H9V1.5" fill="none" stroke="#2bc596" stroke-width="1.4"/><rect x="3.8" y="10" width="5.6" height="4" fill="none" stroke="#2bc596" stroke-width="1.5"/></svg>
<svg style="left:1086.6px;top:28.3px" width="11.4" height="19" viewBox="0 0 14 20" preserveAspectRatio="none"><path d="M6.4,18.6H1.2V3.8L3.8,1H11.2V12" fill="none" stroke="#f0f0f0" stroke-width="1.7"/><path d="M4,6.6H8.8M4,9.4H8.8M4,12.2H7.2" stroke="#f0f0f0" stroke-width="1.3"/><path d="M8.2,13.4L13,19.4M13,13.4L8.2,19.4" stroke="#f0f0f0" stroke-width="1.7"/></svg>
<svg style="left:1118.8px;top:29px" width="11.4" height="18" viewBox="0 0 14 19" preserveAspectRatio="none"><rect x="1" y="1" width="12" height="17" rx="0.8" fill="none" stroke="#4c7ed0" stroke-width="1.7"/><rect x="1.4" y="6" width="11.2" height="4.2" fill="#6c9ef2"/><path d="M5.2,12.4L8.8,16.4M8.8,12.4L5.2,16.4" stroke="#4c7ed0" stroke-width="1.3"/><path d="M4,11.8H3V17H4M10,11.8H11V17H10" fill="none" stroke="#4c7ed0" stroke-width="0.9"/></svg>
<span class="t" id="t211" style="left:974.5px;top:53.7px;font-size:9.5px;color:#e8e8e8;transform:scaleX(0.6048);">新建</span>
<span class="t" id="t212" style="left:993.6px;top:53.7px;font-size:9.5px;color:#e8e8e8;transform:scaleX(0.5995);">打开</span>
<span class="t" id="t213" style="left:1012.5px;top:53.7px;font-size:9.5px;color:#e8e8e8;transform:scaleX(0.6048);">保存</span>
<span class="t" id="t214" style="left:1031.8px;top:53.7px;font-size:9.5px;color:#e8e8e8;transform:scaleX(0.6032);">另存为</span>
<span class="t" id="t215" style="left:1056.3px;top:53.7px;font-size:9.5px;color:#e8e8e8;transform:scaleX(0.6050);">全部保存</span>
<span class="t" id="t216" style="left:1087.0px;top:53.7px;font-size:9.5px;color:#e8e8e8;transform:scaleX(0.6048);">关闭</span>
<span class="t" id="t217" style="left:1110.0px;top:53.7px;font-size:9.5px;color:#e8e8e8;transform:scaleX(0.5893);">清除动态库</span>
<span class="t" id="t218" style="left:1025.0px;top:84.2px;font-size:9.5px;color:#d0d0d0;transform:scaleX(0.6050);">基本操作</span>
<span class="t" id="t219" style="left:1112.5px;top:84.2px;font-size:9.5px;color:#d0d0d0;transform:scaleX(0.6050);">模型操作</span>
<div class="b" style="left:1098.0px;top:100.5px;width:782.0px;height:20.5px;background:#343434;"></div>
<div class="b" style="left:1394.3px;top:102.5px;width:46.4px;height:18.5px;background:#3c3c3c;border-top:1px solid #505050;"></div>
<span class="t" id="t220" style="left:1104.0px;top:106.5px;font-size:9.5px;color:#dedede;transform:scaleX(0.6205);">首页</span>
<span class="t" id="t221" style="left:1127.4px;top:106.5px;font-size:9.5px;color:#dedede;transform:scaleX(0.6190);">信号-弹道导弹-固定干扰机</span>
<span class="t" id="t222" style="left:1216.7px;top:106.5px;font-size:9.5px;color:#dedede;transform:scaleX(0.6163);">信号-固定雷达-移动干扰机</span>
<span class="t" id="t223" style="left:1306.0px;top:106.5px;font-size:9.5px;color:#dedede;transform:scaleX(0.6019);">飞机干扰机</span>
<span class="t" id="t224" style="left:1356.0px;top:106.5px;font-size:9.5px;color:#dedede;transform:scaleX(0.5919);">活动目标</span>
<span class="t" id="t225" style="left:1399.0px;top:106.5px;font-size:9.5px;color:#dedede;transform:scaleX(0.6291);">固定雷达•</span>
<span class="t" id="t226" style="left:1446.0px;top:106.5px;font-size:9.5px;color:#dedede;transform:scaleX(0.5854);">信号级目标检测器</span>
<span class="t" id="t227" style="left:1198.9px;top:105.3px;font-size:10.5px;color:#050505;font-weight:bold;transform:scaleX(0.7187);">x</span>
<span class="t" id="t228" style="left:1288.4px;top:105.3px;font-size:10.5px;color:#050505;font-weight:bold;transform:scaleX(0.7187);">x</span>
<span class="t" id="t229" style="left:1337.9px;top:105.3px;font-size:10.5px;color:#050505;font-weight:bold;transform:scaleX(0.7187);">x</span>
<span class="t" id="t230" style="left:1381.7px;top:105.3px;font-size:10.5px;color:#050505;font-weight:bold;transform:scaleX(0.7187);">x</span>
<span class="t" id="t231" style="left:1428.5px;top:105.3px;font-size:10.5px;color:#050505;font-weight:bold;transform:scaleX(0.7187);">x</span>
<span class="t" id="t232" style="left:1495.2px;top:105.3px;font-size:10.5px;color:#050505;font-weight:bold;transform:scaleX(0.7187);">x</span>
<div class="b" style="left:967.0px;top:100.5px;width:131.0px;height:19.0px;background:#343434;"></div>
<span class="t" id="t233" style="left:969.0px;top:104.8px;font-size:9.5px;color:#e4e4e4;transform:scaleX(0.6312);">组件库</span>
<svg style="left:1091.5px;top:105.0px" width="6" height="8" viewBox="0 0 6 8"><rect x="0.5" y="2.6" width="3.2" height="4.6" fill="none" stroke="#c4c4c4" stroke-width="0.8"/><path d="M1.8,2.4V0.8H5.2V5.2H3.9" fill="none" stroke="#c4c4c4" stroke-width="0.8"/></svg>
<div class="b" style="left:967.0px;top:119.5px;width:131.0px;height:557.5px;background:#272727;"></div>
<div class="b" style="left:971.5px;top:126.6px;width:122.0px;height:16.0px;background:#3f3f3f;border:1px solid #4e4e4e;"></div>
<span class="t" id="t234" style="left:973.5px;top:129.7px;font-size:9px;color:#7c7c7c;transform:scaleX(0.6665);">请输入组件名称搜索</span>
<div class="b" style="left:971.5px;top:146.1px;width:38.7px;height:18.0px;background:#363636;border:1px solid #505050;"></div>
<span class="t" id="t235" style="left:978.8px;top:149.9px;font-size:9.5px;color:#e0e0e0;transform:scaleX(0.6313);">切换视图</span>
<div class="b" style="left:1013.2px;top:146.1px;width:38.7px;height:18.0px;background:#363636;border:1px solid #505050;"></div>
<span class="t" id="t236" style="left:1026.5px;top:149.9px;font-size:9.5px;color:#e0e0e0;transform:scaleX(0.6311);">展开</span>
<div class="b" style="left:1054.8px;top:146.1px;width:38.7px;height:18.0px;background:#363636;border:1px solid #505050;"></div>
<span class="t" id="t237" style="left:1068.2px;top:149.9px;font-size:9.5px;color:#e0e0e0;transform:scaleX(0.6311);">折叠</span>
<div class="b" style="left:971.5px;top:169.6px;width:122.0px;height:500.4px;background:#2e2e2e;border:1px solid #4a4a4a;"></div>
<div class="b" style="left:972.5px;top:170.6px;width:111.0px;height:17.0px;background:#363636;border-bottom:1px solid #444;"></div>
<span class="t" id="t238" style="left:974.0px;top:173.4px;font-size:9.5px;color:#dcdcdc;transform:scaleX(0.6314);">树状组件库</span>
<div class="b" style="left:1084.0px;top:170.6px;width:9.0px;height:498.4px;background:#333;border-left:1px solid #4c4c4c;"></div>
<div class="b" style="left:1084.6px;top:170.6px;width:8.4px;height:12.0px;background:#3c3c3c;border-bottom:1px solid #555;"></div>
<svg style="left:1083.8px;top:171.6px" width="10" height="10" viewBox="-5 -5 10 10"><polygon points="0,-1.92 2.4,1.92 -2.4,1.92" fill="#d8d8d8"/></svg>
<div class="b" style="left:1084.6px;top:657.0px;width:8.4px;height:12.0px;background:#3c3c3c;border-top:1px solid #555;"></div>
<svg style="left:1083.8px;top:658.5px" width="10" height="10" viewBox="-5 -5 10 10"><polygon points="0,1.92 2.4,-1.92 -2.4,-1.92" fill="#d8d8d8"/></svg>
<div class="b" style="left:1085.0px;top:383.0px;width:7.5px;height:262.0px;background:#3f3f3f;"></div>
<div class="b" style="left:977.0px;top:205.0px;width:0.6px;height:440.0px;background:#3a3a3a;"></div>
<div class="b" style="left:986.6px;top:237.0px;width:0.6px;height:410.0px;background:#3a3a3a;"></div>
<div class="b" style="left:995.6px;top:282.0px;width:0.6px;height:240.0px;background:#3a3a3a;"></div>
<div class="b" style="left:1005.0px;top:297.0px;width:0.6px;height:215.0px;background:#3a3a3a;"></div>
<svg style="left:973px;top:193px" width="8" height="10" viewBox="-4 -5 8 10"><rect x="-2.2" y="-3.4" width="4.4" height="6.8" fill="#262626" stroke="#8e8e8e" stroke-width="0.7"/><path d="M-1.3,0H1.3M0,-2V2" stroke="#c8c8c8" stroke-width="0.7"/><path d="M2.2,0H4" stroke="#555" stroke-width="0.6"/></svg>
<svg style="left:982px;top:192.5px" width="8" height="11" viewBox="0 0 8 11"><path d="M4,1H0.8V10H7V5.5" fill="none" stroke="#b8b8b8" stroke-width="0.9"/><path d="M3.6,5.6L7,1.6M5,1.2H7.3V3.8" fill="none" stroke="#b8b8b8" stroke-width="0.9"/></svg>
<span class="t" id="t239" style="left:993.0px;top:192.3px;font-size:9.5px;color:#d4d4d4;transform:scaleX(0.5840);">复合组件库</span>
<svg style="left:973px;top:209.5px" width="8" height="10" viewBox="-4 -5 8 10"><rect x="-2.2" y="-3.4" width="4.4" height="6.8" fill="#262626" stroke="#8e8e8e" stroke-width="0.7"/><path d="M-1.3,0H1.3" stroke="#c8c8c8" stroke-width="0.7"/><path d="M2.2,0H4" stroke="#555" stroke-width="0.6"/></svg>
<svg style="left:982px;top:209.0px" width="8" height="11" viewBox="0 0 8 11"><path d="M4,1H0.8V10H7V5.5" fill="none" stroke="#b8b8b8" stroke-width="0.9"/><path d="M3.6,5.6L7,1.6M5,1.2H7.3V3.8" fill="none" stroke="#b8b8b8" stroke-width="0.9"/></svg>
<span class="t" id="t240" style="left:993.0px;top:208.8px;font-size:9.5px;color:#d4d4d4;transform:scaleX(0.5840);">原子组件库</span>
<svg style="left:982.8px;top:225px" width="8" height="10" viewBox="-4 -5 8 10"><rect x="-2.2" y="-3.4" width="4.4" height="6.8" fill="#262626" stroke="#8e8e8e" stroke-width="0.7"/><path d="M-1.3,0H1.3M0,-2V2" stroke="#c8c8c8" stroke-width="0.7"/><path d="M2.2,0H4" stroke="#555" stroke-width="0.6"/></svg>
<span class="t" id="t241" style="left:993.0px;top:224.3px;font-size:9.5px;color:#d4d4d4;transform:scaleX(0.5840);">测试模块</span>
<svg style="left:982.8px;top:240px" width="8" height="10" viewBox="-4 -5 8 10"><rect x="-2.2" y="-3.4" width="4.4" height="6.8" fill="#262626" stroke="#8e8e8e" stroke-width="0.7"/><path d="M-1.3,0H1.3M0,-2V2" stroke="#c8c8c8" stroke-width="0.7"/><path d="M2.2,0H4" stroke="#555" stroke-width="0.6"/></svg>
<span class="t" id="t242" style="left:993.0px;top:239.3px;font-size:9.5px;color:#d4d4d4;transform:scaleX(0.5840);">导航类组件</span>
<svg style="left:982.8px;top:255px" width="8" height="10" viewBox="-4 -5 8 10"><rect x="-2.2" y="-3.4" width="4.4" height="6.8" fill="#262626" stroke="#8e8e8e" stroke-width="0.7"/><path d="M-1.3,0H1.3" stroke="#c8c8c8" stroke-width="0.7"/><path d="M2.2,0H4" stroke="#555" stroke-width="0.6"/></svg>
<span class="t" id="t243" style="left:993.0px;top:254.3px;font-size:9.5px;color:#d4d4d4;transform:scaleX(0.5841);">电子对抗装备类组件</span>
<svg style="left:991.8px;top:269.5px" width="8" height="10" viewBox="-4 -5 8 10"><rect x="-2.2" y="-3.4" width="4.4" height="6.8" fill="#262626" stroke="#8e8e8e" stroke-width="0.7"/><path d="M-1.3,0H1.3" stroke="#c8c8c8" stroke-width="0.7"/><path d="M2.2,0H4" stroke="#555" stroke-width="0.6"/></svg>
<span class="t" id="t244" style="left:1002.0px;top:268.8px;font-size:9.5px;color:#d4d4d4;transform:scaleX(0.5837);">武器</span>
<div class="b" style="left:1005.0px;top:289.5px;width:4.0px;height:0.6px;background:#555;"></div>
<span class="t" id="t245" style="left:1011.0px;top:283.8px;font-size:9.5px;color:#d4d4d4;transform:scaleX(0.5841);">参数发送模块</span>
<div class="b" style="left:1005.0px;top:304.5px;width:4.0px;height:0.6px;background:#555;"></div>
<span class="t" id="t246" style="left:1011.0px;top:298.8px;font-size:9.5px;color:#d4d4d4;transform:scaleX(0.5841);">干扰参数计算模块</span>
<div class="b" style="left:1005.0px;top:319.5px;width:4.0px;height:0.6px;background:#555;"></div>
<span class="t" id="t247" style="left:1011.0px;top:313.8px;font-size:9.5px;color:#d4d4d4;transform:scaleX(0.5841);">干扰参数结构体循环组件</span>
<div class="b" style="left:1005.0px;top:334.5px;width:4.0px;height:0.6px;background:#555;"></div>
<span class="t" id="t248" style="left:1011.0px;top:328.8px;font-size:9.5px;color:#d4d4d4;transform:scaleX(0.5841);">干扰发射增益查询模块</span>
<div class="b" style="left:1005.0px;top:349.0px;width:4.0px;height:0.6px;background:#555;"></div>
<span class="t" id="t249" style="left:1011.0px;top:343.3px;font-size:9.5px;color:#d4d4d4;transform:scaleX(0.5841);">干扰机循环组件</span>
<div class="b" style="left:1005.0px;top:364.0px;width:4.0px;height:0.6px;background:#555;"></div>
<span class="t" id="t250" style="left:1011.0px;top:358.3px;font-size:9.5px;color:#d4d4d4;transform:scaleX(0.5841);">干扰数据叠加模块</span>
<div class="b" style="left:1005.0px;top:379.0px;width:4.0px;height:0.6px;background:#555;"></div>
<span class="t" id="t251" style="left:1011.0px;top:373.3px;font-size:9.5px;color:#d4d4d4;transform:scaleX(0.5841);">干扰数据平面生成</span>
<div class="b" style="left:1005.0px;top:394.0px;width:4.0px;height:0.6px;background:#555;"></div>
<span class="t" id="t252" style="left:1011.0px;top:388.3px;font-size:9.5px;color:#d4d4d4;transform:scaleX(0.5841);">干扰源位置查询模块</span>
<div class="b" style="left:1005.0px;top:409.0px;width:4.0px;height:0.6px;background:#555;"></div>
<span class="t" id="t253" style="left:1011.0px;top:403.3px;font-size:9.5px;color:#d4d4d4;transform:scaleX(0.5841);">雷达波束参数生成模块</span>
<div class="b" style="left:1005.0px;top:424.0px;width:4.0px;height:0.6px;background:#555;"></div>
<span class="t" id="t254" style="left:1011.0px;top:418.3px;font-size:9.5px;color:#d4d4d4;transform:scaleX(0.5841);">雷达天线接收增益查询模块</span>
<div class="b" style="left:1005.0px;top:439.0px;width:4.0px;height:0.6px;background:#555;"></div>
<span class="t" id="t255" style="left:1011.0px;top:433.3px;font-size:9.5px;color:#d4d4d4;transform:scaleX(0.5841);">频域空域过滤模块</span>
<svg style="left:1000.8px;top:449px" width="8" height="10" viewBox="-4 -5 8 10"><rect x="-2.2" y="-3.4" width="4.4" height="6.8" fill="#262626" stroke="#8e8e8e" stroke-width="0.7"/><path d="M-1.3,0H1.3M0,-2V2" stroke="#c8c8c8" stroke-width="0.7"/><path d="M2.2,0H4" stroke="#555" stroke-width="0.6"/></svg>
<span class="t" id="t256" style="left:1011.0px;top:448.3px;font-size:9.5px;color:#d4d4d4;transform:scaleX(0.5840);">欺骗干扰</span>
<div class="b" style="left:1005.0px;top:468.5px;width:4.0px;height:0.6px;background:#555;"></div>
<span class="t" id="t257" style="left:1011.0px;top:462.8px;font-size:9.5px;color:#d4d4d4;transform:scaleX(0.5841);">外部干扰描述字处理模块</span>
<div class="b" style="left:1005.0px;top:483.5px;width:4.0px;height:0.6px;background:#555;"></div>
<span class="t" id="t258" style="left:1011.0px;top:477.8px;font-size:9.5px;color:#d4d4d4;transform:scaleX(0.5841);">外部干扰描述字接口模块</span>
<svg style="left:1000.8px;top:493.5px" width="8" height="10" viewBox="-4 -5 8 10"><rect x="-2.2" y="-3.4" width="4.4" height="6.8" fill="#262626" stroke="#8e8e8e" stroke-width="0.7"/><path d="M-1.3,0H1.3M0,-2V2" stroke="#c8c8c8" stroke-width="0.7"/><path d="M2.2,0H4" stroke="#555" stroke-width="0.6"/></svg>
<span class="t" id="t259" style="left:1011.0px;top:492.8px;font-size:9.5px;color:#d4d4d4;transform:scaleX(0.5840);">压制干扰</span>
<div class="b" style="left:1005.0px;top:513.5px;width:4.0px;height:0.6px;background:#555;"></div>
<span class="t" id="t260" style="left:1011.0px;top:507.8px;font-size:9.5px;color:#d4d4d4;transform:scaleX(0.5840);">侦察模块</span>
<svg style="left:982.8px;top:523.5px" width="8" height="10" viewBox="-4 -5 8 10"><rect x="-2.2" y="-3.4" width="4.4" height="6.8" fill="#262626" stroke="#8e8e8e" stroke-width="0.7"/><path d="M-1.3,0H1.3M0,-2V2" stroke="#c8c8c8" stroke-width="0.7"/><path d="M2.2,0H4" stroke="#555" stroke-width="0.6"/></svg>
<span class="t" id="t261" style="left:993.0px;top:522.8px;font-size:9.5px;color:#d4d4d4;transform:scaleX(0.5840);">可视化组件</span>
<svg style="left:982.8px;top:538.5px" width="8" height="10" viewBox="-4 -5 8 10"><rect x="-2.2" y="-3.4" width="4.4" height="6.8" fill="#262626" stroke="#8e8e8e" stroke-width="0.7"/><path d="M-1.3,0H1.3" stroke="#c8c8c8" stroke-width="0.7"/><path d="M2.2,0H4" stroke="#555" stroke-width="0.6"/></svg>
<span class="t" id="t262" style="left:993.0px;top:537.8px;font-size:9.5px;color:#d4d4d4;transform:scaleX(0.5841);">雷达导引头类组件</span>
<svg style="left:991.8px;top:553.5px" width="8" height="10" viewBox="-4 -5 8 10"><rect x="-2.2" y="-3.4" width="4.4" height="6.8" fill="#262626" stroke="#8e8e8e" stroke-width="0.7"/><path d="M-1.3,0H1.3M0,-2V2" stroke="#c8c8c8" stroke-width="0.7"/><path d="M2.2,0H4" stroke="#555" stroke-width="0.6"/></svg>
<span class="t" id="t263" style="left:1002.0px;top:552.8px;font-size:9.5px;color:#d4d4d4;transform:scaleX(0.5837);">环境</span>
<svg style="left:991.8px;top:568px" width="8" height="10" viewBox="-4 -5 8 10"><rect x="-2.2" y="-3.4" width="4.4" height="6.8" fill="#262626" stroke="#8e8e8e" stroke-width="0.7"/><path d="M-1.3,0H1.3M0,-2V2" stroke="#c8c8c8" stroke-width="0.7"/><path d="M2.2,0H4" stroke="#555" stroke-width="0.6"/></svg>
<span class="t" id="t264" style="left:1002.0px;top:567.3px;font-size:9.5px;color:#d4d4d4;transform:scaleX(0.5837);">雷达</span>
<svg style="left:991.8px;top:583px" width="8" height="10" viewBox="-4 -5 8 10"><rect x="-2.2" y="-3.4" width="4.4" height="6.8" fill="#262626" stroke="#8e8e8e" stroke-width="0.7"/><path d="M-1.3,0H1.3M0,-2V2" stroke="#c8c8c8" stroke-width="0.7"/><path d="M2.2,0H4" stroke="#555" stroke-width="0.6"/></svg>
<span class="t" id="t265" style="left:1002.0px;top:582.3px;font-size:9.5px;color:#d4d4d4;transform:scaleX(0.5840);">目标特性</span>
<svg style="left:991.8px;top:598px" width="8" height="10" viewBox="-4 -5 8 10"><rect x="-2.2" y="-3.4" width="4.4" height="6.8" fill="#262626" stroke="#8e8e8e" stroke-width="0.7"/><path d="M-1.3,0H1.3M0,-2V2" stroke="#c8c8c8" stroke-width="0.7"/><path d="M2.2,0H4" stroke="#555" stroke-width="0.6"/></svg>
<span class="t" id="t266" style="left:1002.0px;top:597.3px;font-size:9.5px;color:#d4d4d4;transform:scaleX(0.5837);">前端</span>
<svg style="left:991.8px;top:613px" width="8" height="10" viewBox="-4 -5 8 10"><rect x="-2.2" y="-3.4" width="4.4" height="6.8" fill="#262626" stroke="#8e8e8e" stroke-width="0.7"/><path d="M-1.3,0H1.3M0,-2V2" stroke="#c8c8c8" stroke-width="0.7"/><path d="M2.2,0H4" stroke="#555" stroke-width="0.6"/></svg>
<span class="t" id="t267" style="left:1002.0px;top:612.3px;font-size:9.5px;color:#d4d4d4;transform:scaleX(0.5837);">情报</span>
<svg style="left:991.8px;top:627.5px" width="8" height="10" viewBox="-4 -5 8 10"><rect x="-2.2" y="-3.4" width="4.4" height="6.8" fill="#262626" stroke="#8e8e8e" stroke-width="0.7"/><path d="M-1.3,0H1.3M0,-2V2" stroke="#c8c8c8" stroke-width="0.7"/><path d="M2.2,0H4" stroke="#555" stroke-width="0.6"/></svg>
<span class="t" id="t268" style="left:1002.0px;top:626.8px;font-size:9.5px;color:#d4d4d4;transform:scaleX(0.5841);">数据融合与跟踪</span>
<svg style="left:991.8px;top:642.5px" width="8" height="10" viewBox="-4 -5 8 10"><rect x="-2.2" y="-3.4" width="4.4" height="6.8" fill="#262626" stroke="#8e8e8e" stroke-width="0.7"/><path d="M-1.3,0H1.3" stroke="#c8c8c8" stroke-width="0.7"/><path d="M2.2,0H4" stroke="#555" stroke-width="0.6"/></svg>
<span class="t" id="t269" style="left:1002.0px;top:641.8px;font-size:9.5px;color:#d4d4d4;transform:scaleX(0.5841);">数字信号处理仿真</span>
<svg style="left:1000.8px;top:657.5px" width="8" height="10" viewBox="-4 -5 8 10"><rect x="-2.2" y="-3.4" width="4.4" height="6.8" fill="#262626" stroke="#8e8e8e" stroke-width="0.7"/><path d="M-1.3,0H1.3M0,-2V2" stroke="#c8c8c8" stroke-width="0.7"/><path d="M2.2,0H4" stroke="#555" stroke-width="0.6"/></svg>
<span class="t" id="t270" style="left:1011.0px;top:656.8px;font-size:9.5px;color:#d4d4d4;transform:scaleX(0.5839);">发射机</span>
<div class="b" style="left:967.0px;top:556.0px;width:19.5px;height:42.5px;background:#383838;"></div>
<span class="t" id="t271" style="left:975.1px;top:562.1px;font-size:24px;color:#f4f4f4;transform:scaleX(0.6250);">›</span>
<div class="b" style="left:1098.0px;top:121.0px;width:13.0px;height:556.0px;background:#343434;"></div>
<div class="b" style="left:1100.5px;top:122.0px;width:10.0px;height:33.5px;background:#3e3e3e;border:1px solid #4c4c4c;"></div>
<svg style="left:1101.5px;top:137px" width="9" height="12" viewBox="0 0 9 12"><path d="M4.5,1.5H1V11H8V6.5" fill="none" stroke="#aaa" stroke-width="1.1"/><path d="M4,6.5L8,2M5.3,1.6H8.2V4.8" fill="none" stroke="#aaa" stroke-width="1"/></svg>
<div class="b" style="left:1111.0px;top:121.0px;width:761.0px;height:542.5px;background:#fcfefe;"></div>
<div class="b" style="left:1872.0px;top:121.0px;width:8.0px;height:542.5px;background:#2b2b2b;"></div>
<div class="b" style="left:1872.0px;top:663.5px;width:8.0px;height:13.5px;background:#f4f4f4;"></div>
<svg style="left:1871px;top:124px" width="10" height="10" viewBox="-5 -5 10 10"><polygon points="0,-1.7600000000000002 2.2,1.7600000000000002 -2.2,1.7600000000000002" fill="#c8c8c8"/></svg>
<svg style="left:1871px;top:651.5px" width="10" height="10" viewBox="-5 -5 10 10"><polygon points="0,1.7600000000000002 2.2,-1.7600000000000002 -2.2,-1.7600000000000002" fill="#c8c8c8"/></svg>
<div class="b" style="left:1872.6px;top:136.0px;width:7.0px;height:228.0px;background:#3c3c3c;"></div>
<div class="b" style="left:1111.0px;top:663.5px;width:761.0px;height:13.5px;background:#383838;"></div>
<div class="b" style="left:1111.0px;top:664.0px;width:9.0px;height:12.5px;background:#444;"></div>
<div class="b" style="left:1120.5px;top:664.5px;width:44.0px;height:11.5px;background:#444;"></div>
<div class="b" style="left:1165.0px;top:664.5px;width:297.5px;height:11.5px;background:#4a4a4a;border-left:1px solid #5c5c5c;border-right:1px solid #5c5c5c;"></div>
<div class="b" style="left:1463.0px;top:664.5px;width:402.5px;height:11.5px;background:#464646;"></div>
<div class="b" style="left:1866.0px;top:664.0px;width:6.0px;height:12.5px;background:#444;"></div>
<svg style="left:1110.5px;top:665px" width="10" height="10" viewBox="-5 -5 10 10"><polygon points="-1.7600000000000002,0 1.7600000000000002,-2.2 1.7600000000000002,2.2" fill="#d0d0d0"/></svg>
<svg style="left:1862.5px;top:665px" width="10" height="10" viewBox="-5 -5 10 10"><polygon points="1.7600000000000002,0 -1.7600000000000002,-2.2 -1.7600000000000002,2.2" fill="#d0d0d0"/></svg>
<div class="b" style="left:967.0px;top:677.0px;width:913.0px;height:3.0px;background:#333;"></div>
<div class="b" style="left:967.0px;top:680.0px;width:913.0px;height:18.5px;background:#343434;"></div>
<span class="t" id="t272" style="left:969.0px;top:683.3px;font-size:9.5px;color:#e0e0e0;transform:scaleX(0.6139);">组件操作记录</span>
<svg style="left:1873px;top:684px" width="6" height="8" viewBox="0 0 6 8"><rect x="0.5" y="2.6" width="3.2" height="4.6" fill="none" stroke="#c4c4c4" stroke-width="0.8"/><path d="M1.8,2.4V0.8H5.2V5.2H3.9" fill="none" stroke="#c4c4c4" stroke-width="0.8"/></svg>
<div class="b" style="left:967.0px;top:698.5px;width:913.0px;height:64.0px;background:#282828;"></div>
<div class="b" style="left:967.0px;top:762.3px;width:913.0px;height:1.7px;background:#454545;"></div>
<div class="b" style="left:969.0px;top:703.5px;width:907.0px;height:57.0px;background:#303030;border:1px solid #484848;"></div>
<div class="b" style="left:1866.5px;top:704.5px;width:9.0px;height:55.0px;background:#2c2c2c;border:1px solid #444;"></div>
<div class="b" style="left:1867.5px;top:705.5px;width:7.0px;height:13.0px;background:#3a3a3a;"></div>
<div class="b" style="left:1867.5px;top:745.5px;width:7.0px;height:13.0px;background:#3a3a3a;"></div>
<div class="b" style="left:1867.5px;top:719.5px;width:7.0px;height:25.0px;background:#343434;"></div>
<svg style="left:1866px;top:707.5px" width="10" height="10" viewBox="-5 -5 10 10"><polygon points="0,-1.92 2.4,1.92 -2.4,1.92" fill="#ddd"/></svg>
<svg style="left:1866px;top:748px" width="10" height="10" viewBox="-5 -5 10 10"><polygon points="0,1.92 2.4,-1.92 -2.4,-1.92" fill="#ddd"/></svg>
<span class="t f" id="t273" style="left:971.5px;top:707.9px;font-size:8.5px;color:#f4f4f4;font-weight:bold;transform:scaleX(0.7945);">移动 MeasureAngleReceiveChannelSettingModule</span>
<span class="t f" id="t274" style="left:971.5px;top:722.4px;font-size:8.5px;color:#dcdcdc;transform:scaleX(0.7057);">移动 选中模块</span>
<span class="t f" id="t275" style="left:971.5px;top:737.4px;font-size:8.5px;color:#dcdcdc;transform:scaleX(0.7129);">移动 JammerDataPlaneGenerationModule</span>
<span class="t f" id="t276" style="left:971.5px;top:751.9px;font-size:8.5px;color:#dcdcdc;transform:scaleX(0.7362);">移动 ReceiverInputModule</span>
<span class="t" id="t277" style="left:1742.0px;top:717.9px;font-size:13.5px;color:#8c8c8c;transform:scaleX(0.7484);">激活 Windows</span>
<span class="t" id="t278" style="left:1742.0px;top:738.2px;font-size:10.5px;color:#808080;transform:scaleX(0.6783);">转到“设置”以激活 Windows。</span>
<svg style="left:1111px;top:121px;overflow:hidden" width="761" height="542.5" viewBox="1111 121 761 542.5"><path d="M1111.0,133.0L1872.0,133.0" fill="none" stroke="#222" stroke-width="0.85" stroke-dasharray="3.2 1.6"/><path d="M1111.0,134.2L1872.0,134.2" fill="none" stroke="#222" stroke-width="0.7" stroke-dasharray="3.2 1.6"/><path d="M1234.0,245.0L1234.0,128.3Q1234.0,125.3 1237.0,125.3L1670.0,125.3" fill="none" stroke="#222" stroke-width="1.0" stroke-dasharray="3.2 1.6"/><path d="M1234.0,236.0L1234.0,237.8Q1234.0,239.5 1235.8,239.5L1872.0,239.5" fill="none" stroke="#222" stroke-width="0.9" stroke-dasharray="3.2 1.6"/><path d="M1238.0,241.3L1872.0,241.3" fill="none" stroke="#222" stroke-width="0.8" stroke-dasharray="3.2 1.6"/><path d="M1226.0,121.0L1226.0,136.3Q1226.0,139.3 1229.0,139.3L1872.0,139.3" fill="none" stroke="#222" stroke-width="0.7" stroke-dasharray="3.2 1.6"/><path d="M1228.0,140.5L1872.0,140.5" fill="none" stroke="#222" stroke-width="0.7" stroke-dasharray="3.2 1.6"/><path d="M1237.5,121.0L1237.5,459.3Q1237.5,462.0 1239.2,464.0L1239.2,464.0Q1241.0,466.0 1243.7,466.0L1344.0,466.0" fill="none" stroke="#222" stroke-width="0.8" stroke-dasharray="3.2 1.6"/><path d="M1191.8,180.5L1402.0,180.5Q1405.0,180.5 1406.4,183.1L1408.0,186.0" fill="none" stroke="#222" stroke-width="1.0"/><path d="M1191.8,180.5L1230.0,180.5" fill="none" stroke="#222" stroke-width="1.0"/><polygon points="1239.2,197.3 1234.7,201.2 1234.7,193.4" fill="#000"/><path d="M1187.5,197.3L1235.2,197.3" fill="none" stroke="#222" stroke-width="1.4"/><polygon points="1247.0,213.2 1242.5,217.1 1242.5,209.3" fill="#000"/><path d="M1191.8,213.2L1243.0,213.2" fill="none" stroke="#222" stroke-width="1.4"/><path d="M1191.8,213.2L1209.9,213.2Q1212.0,213.2 1213.5,214.6L1213.5,214.6Q1215.0,216.0 1215.0,218.1L1215.0,337.0Q1215.0,340.0 1218.0,340.0L1241.8,340.0" fill="none" stroke="#222" stroke-width="1.0"/><path d="M1199.8,229.0L1872.0,229.0" fill="none" stroke="#222" stroke-width="1.4"/><polygon points="1241.8,337.2 1237.3,341.1 1237.3,333.3" fill="#000"/><path d="M1191.8,245.5L1209.3,245.5Q1212.0,245.5 1213.5,247.8L1213.5,247.8Q1215.0,250.0 1215.0,252.7L1215.0,334.2Q1215.0,337.2 1218.0,337.2L1237.8,337.2" fill="none" stroke="#222" stroke-width="1.0"/><path d="M1208.6,261.5L1872.0,261.5" fill="none" stroke="#222" stroke-width="1.4"/><path d="M1199.8,278.5L1872.0,278.5" fill="none" stroke="#222" stroke-width="1.4"/><polygon points="1225.0,353.6 1220.5,357.5 1220.5,349.7" fill="#000"/><path d="M1215.0,300.0L1215.0,350.6Q1215.0,353.6 1218.0,353.6L1221.0,353.6" fill="none" stroke="#222" stroke-width="1.0"/><polygon points="1241.8,370.0 1237.3,373.9 1237.3,366.1" fill="#000"/><path d="M1215.0,340.0L1215.0,367.0Q1215.0,370.0 1218.0,370.0L1237.8,370.0" fill="none" stroke="#222" stroke-width="1.0"/><polygon points="1249.4,386.3 1244.9,390.2 1244.9,382.4" fill="#000"/><path d="M1184.4,294.8L1209.8,294.8Q1212.0,294.8 1213.5,296.4L1213.5,296.4Q1215.0,298.0 1215.0,300.2L1215.0,383.3Q1215.0,386.3 1218.0,386.3L1245.4,386.3" fill="none" stroke="#222" stroke-width="0.85" stroke-dasharray="3.2 1.6"/><path d="M1111.0,288.5L1872.0,288.5" fill="none" stroke="#222" stroke-width="1.2"/><polygon points="1362.0,197.3 1357.5,201.2 1357.5,193.4" fill="#000"/><path d="M1350.0,197.3L1358.0,197.3" fill="none" stroke="#222" stroke-width="1.0"/><polygon points="1365.8,213.5 1361.3,217.4 1361.3,209.6" fill="#000"/><path d="M1342.6,213.5L1361.8,213.5" fill="none" stroke="#222" stroke-width="1.4"/><polygon points="1359.0,229.5 1354.5,233.4 1354.5,225.6" fill="#000"/><path d="M1332.0,229.5L1355.0,229.5" fill="none" stroke="#222" stroke-width="1.4"/><path d="M1342.5,121.0L1342.5,440.0" fill="none" stroke="#222" stroke-width="0.75"/><path d="M1349.5,240.0L1349.5,662.0" fill="none" stroke="#222" stroke-width="0.75"/><path d="M1252.0,229.0L1252.0,565.0" fill="none" stroke="#222" stroke-width="0.75"/><path d="M1256.0,229.0L1256.0,612.0" fill="none" stroke="#222" stroke-width="0.7"/><path d="M1449.8,197.3L1872.0,197.3" fill="none" stroke="#222" stroke-width="1.2"/><polygon points="1484.0,204.3 1479.5,208.2 1479.5,200.4" fill="#000"/><path d="M1437.0,213.5L1457.0,213.5Q1460.0,213.5 1460.0,210.5L1460.0,207.3Q1460.0,204.3 1463.0,204.3L1480.0,204.3" fill="none" stroke="#222" stroke-width="1.0"/><polygon points="1484.0,219.7 1479.5,223.6 1479.5,215.8" fill="#000"/><path d="M1437.0,229.5L1453.0,229.5Q1456.0,229.5 1458.0,227.3L1458.2,227.0Q1460.0,225.0 1460.0,222.3L1460.0,222.3Q1460.0,219.7 1462.7,219.7L1480.0,219.7" fill="none" stroke="#222" stroke-width="1.0"/><path d="M1376.0,213.5L1872.0,213.5" fill="none" stroke="#222" stroke-width="1.5"/><path d="M1407.0,240.0L1407.0,282.2Q1407.0,285.0 1409.0,287.0L1409.0,287.0Q1411.0,289.0 1413.8,289.0L1467.0,289.0Q1470.0,289.0 1470.0,292.0L1470.0,553.0" fill="none" stroke="#222" stroke-width="1.0"/><path d="M1456.0,229.5L1463.0,229.5Q1466.0,229.5 1466.0,232.5L1466.0,470.0" fill="none" stroke="#222" stroke-width="0.9"/><path d="M1474.0,214.0L1474.0,605.0" fill="none" stroke="#222" stroke-width="0.9"/><polygon points="1559.0,171.0 1554.5,174.9 1554.5,167.1" fill="#000"/><path d="M1549.6,211.6L1550.3,211.6Q1551.0,211.6 1551.0,210.9L1551.0,173.0Q1551.0,171.0 1553.0,171.0L1555.0,171.0" fill="none" stroke="#222" stroke-width="0.85" stroke-dasharray="3.2 1.6"/><path d="M1666.0,178.8L1668.0,178.8Q1670.0,178.8 1670.0,176.8L1670.0,128.3Q1670.0,125.3 1667.0,125.3L1660.0,125.3" fill="none" stroke="#222" stroke-width="1.0" stroke-dasharray="3.2 1.6"/><path d="M1682.0,162.8L1872.0,162.8" fill="none" stroke="#222" stroke-width="1.0"/><path d="M1480.0,197.0L1872.0,197.0" fill="none" stroke="#222" stroke-width="1.4"/><path d="M1532.0,121.0L1532.0,240.0" fill="none" stroke="#222" stroke-width="0.8" stroke-dasharray="3.2 1.6"/><path d="M1534.0,121.0L1534.0,330.0" fill="none" stroke="#222" stroke-width="0.9"/><path d="M1551.0,121.0L1551.0,330.0" fill="none" stroke="#222" stroke-width="0.8" stroke-dasharray="3.2 1.6"/><path d="M1655.7,213.3L1872.0,213.3" fill="none" stroke="#222" stroke-width="0.85" stroke-dasharray="3.2 1.6"/><path d="M1539.7,222.0L1872.0,222.0" fill="none" stroke="#222" stroke-width="0.9" stroke-dasharray="3.2 1.6"/><path d="M1539.7,229.0L1872.0,229.0" fill="none" stroke="#222" stroke-width="1.0"/><path d="M1539.7,235.0L1872.0,235.0" fill="none" stroke="#222" stroke-width="0.9"/><path d="M1593.5,213.3L1593.5,453.0" fill="none" stroke="#222" stroke-width="1.0"/><path d="M1792.5,121.0L1792.5,243.0" fill="none" stroke="#222" stroke-width="1.0"/><path d="M1811.0,121.0L1811.0,243.0" fill="none" stroke="#222" stroke-width="1.0"/><path d="M1861.0,121.0L1861.0,420.0" fill="none" stroke="#222" stroke-width="1.3"/><path d="M1861.8,121.0L1861.8,250.0" fill="none" stroke="#222" stroke-width="0.85" stroke-dasharray="3.2 1.6"/><polygon points="1628.7,269.0 1624.2,272.9 1624.2,265.1" fill="#000"/><path d="M1872.0,235.0L1631.0,235.0Q1628.0,235.0 1625.8,237.0L1625.7,237.0Q1623.5,239.0 1623.5,242.0L1623.5,268.4Q1623.5,269.0 1624.1,269.0L1624.7,269.0" fill="none" stroke="#222" stroke-width="1.0"/><polygon points="1624.5,285.8 1620.0,289.7 1620.0,281.9" fill="#000"/><path d="M1615.0,285.8L1620.5,285.8" fill="none" stroke="#222" stroke-width="1.0"/><polygon points="1779.0,253.2 1774.5,257.1 1774.5,249.3" fill="#000"/><path d="M1725.8,276.5L1745.0,276.5Q1748.0,276.5 1748.0,273.5L1748.0,256.2Q1748.0,253.2 1751.0,253.2L1775.0,253.2" fill="none" stroke="#222" stroke-width="1.0"/><polygon points="1782.0,269.8 1777.5,273.7 1777.5,265.9" fill="#000"/><path d="M1718.4,309.0L1742.2,309.0Q1745.0,309.0 1747.0,307.0L1747.0,307.0Q1749.0,305.0 1749.0,302.2L1749.0,272.8Q1749.0,269.8 1752.0,269.8L1778.0,269.8" fill="none" stroke="#222" stroke-width="0.85" stroke-dasharray="3.2 1.6"/><polygon points="1775.0,285.8 1770.5,289.7 1770.5,281.9" fill="#000"/><path d="M1721.6,293.0L1742.9,293.0Q1745.0,293.0 1746.5,291.5L1746.5,291.5Q1748.0,290.0 1748.0,287.9L1748.0,287.9Q1748.0,285.8 1750.1,285.8L1771.0,285.8" fill="none" stroke="#222" stroke-width="0.9" stroke-dasharray="3.2 1.6"/><path d="M1856.6,269.8L1872.0,269.8" fill="none" stroke="#222" stroke-width="1.6"/><path d="M1856.6,285.8L1872.0,285.8" fill="none" stroke="#222" stroke-width="0.85" stroke-dasharray="3.2 1.6"/><path d="M1872.0,300.0L1768.0,300.0Q1765.0,300.0 1762.7,301.9L1762.3,302.1Q1760.0,304.0 1760.0,307.0L1760.0,317.0Q1760.0,320.0 1757.0,320.0L1582.8,320.0Q1580.0,320.0 1578.0,322.0L1577.4,322.6Q1576.0,324.0 1576.0,326.0L1576.0,328.0" fill="none" stroke="#222" stroke-width="0.9"/><polygon points="1637.0,301.4 1632.5,305.3 1632.5,297.5" fill="#000"/><path d="M1480.0,301.4L1633.0,301.4" fill="none" stroke="#222" stroke-width="1.0"/><polygon points="1637.0,317.5 1632.5,321.4 1632.5,313.6" fill="#000"/><path d="M1622.0,317.5L1633.0,317.5" fill="none" stroke="#222" stroke-width="0.85" stroke-dasharray="3.2 1.6"/><path d="M1480.0,317.5L1622.0,317.5" fill="none" stroke="#222" stroke-width="0.85" stroke-dasharray="3.2 1.6"/><path d="M1349.0,301.4L1480.0,301.4" fill="none" stroke="#222" stroke-width="1.2"/><polygon points="1357.8,329.5 1353.3,333.4 1353.3,325.6" fill="#000"/><path d="M1342.5,240.0L1342.5,326.5Q1342.5,329.5 1345.5,329.5L1353.8,329.5" fill="none" stroke="#222" stroke-width="1.0"/><polygon points="1357.8,346.0 1353.3,349.9 1353.3,342.1" fill="#000"/><path d="M1342.5,329.0L1342.5,343.0Q1342.5,346.0 1345.5,346.0L1353.8,346.0" fill="none" stroke="#222" stroke-width="1.0"/><path d="M1468.6,321.5L1872.0,321.5" fill="none" stroke="#222" stroke-width="1.1"/><path d="M1606.6,338.0L1872.0,338.0" fill="none" stroke="#222" stroke-width="1.2"/><path d="M1459.7,354.0L1505.3,354.0" fill="none" stroke="#222" stroke-width="1.6"/><polygon points="1495.0,354.0 1490.5,357.9 1490.5,350.1" fill="#000"/><path d="M1459.7,354.0L1491.0,354.0" fill="none" stroke="#222" stroke-width="1.6"/><path d="M1124.0,313.5L1872.0,313.5" fill="none" stroke="#222" stroke-width="0.9" stroke-dasharray="3.2 1.6"/><path d="M1872.0,362.0L1138.8,362.0Q1136.0,362.0 1134.0,364.0L1134.0,364.0Q1132.0,366.0 1132.0,368.8L1132.0,444.9Q1132.0,446.0 1131.5,447.0L1131.0,448.0" fill="none" stroke="#222" stroke-width="0.9" stroke-dasharray="3.2 1.6"/><path d="M1124.0,313.5L1123.0,314.8Q1122.0,316.0 1122.0,317.6L1122.0,415.1Q1122.0,415.7 1122.6,415.7L1123.2,415.7" fill="none" stroke="#222" stroke-width="0.9" stroke-dasharray="3.2 1.6"/><polygon points="1123.2,415.7 1118.7,419.6 1118.7,411.8" fill="#000"/><path d="M1115.5,300.0L1115.5,409.8Q1115.5,412.0 1116.8,413.9L1117.7,415.2Q1118.0,415.7 1118.6,415.7L1119.2,415.7" fill="none" stroke="#222" stroke-width="1.0"/><polygon points="1131.0,448.0 1135.5,444.1 1135.5,451.9" fill="#000"/><path d="M1132.0,440.0L1132.0,446.5Q1132.0,448.0 1133.5,448.0L1135.0,448.0" fill="none" stroke="#222" stroke-width="0.85" stroke-dasharray="3.2 1.6"/><path d="M1317.3,361.5L1366.9,361.5" fill="none" stroke="#222" stroke-width="1.4"/><path d="M1442.4,361.5L1505.3,361.5" fill="none" stroke="#222" stroke-width="1.4"/><path d="M1305.7,377.7L1307.3,377.7Q1309.0,377.7 1309.0,376.1L1309.0,302.8Q1309.0,300.0 1307.0,298.0L1307.0,298.0Q1305.0,296.0 1302.2,296.0L1253.0,296.0Q1250.0,296.0 1247.7,294.1L1246.2,292.9Q1245.0,292.0 1245.0,290.5L1245.0,289.0" fill="none" stroke="#222" stroke-width="0.9" stroke-dasharray="3.2 1.6"/><path d="M1305.7,380.5L1872.0,380.5" fill="none" stroke="#222" stroke-width="1.0"/><path d="M1301.0,382.7L1301.0,592.0" fill="none" stroke="#222" stroke-width="1.0"/><path d="M1872.0,394.5L1309.0,394.5Q1306.0,394.5 1303.5,396.2L1303.5,396.3Q1301.0,398.0 1301.0,401.0L1301.0,420.0" fill="none" stroke="#222" stroke-width="1.4"/><path d="M1237.5,394.5L1872.0,394.5" fill="none" stroke="#222" stroke-width="0.8" stroke-dasharray="3.2 1.6"/><polygon points="1242.4,402.2 1237.9,406.1 1237.9,398.3" fill="#000"/><path d="M1237.5,402.2L1238.4,402.2" fill="none" stroke="#222" stroke-width="1.0"/><path d="M1205.0,415.7L1247.1,415.7Q1250.0,415.7 1252.0,417.9L1252.0,417.9Q1254.0,420.0 1254.0,422.9L1254.0,470.0" fill="none" stroke="#222" stroke-width="1.0"/><path d="M1197.7,431.5L1255.0,431.5Q1258.0,431.5 1260.2,433.5L1260.8,434.0Q1263.0,436.0 1263.0,439.0L1263.0,620.0" fill="none" stroke="#222" stroke-width="0.85" stroke-dasharray="3.2 1.6"/><polygon points="1334.2,637.0 1329.7,640.9 1329.7,633.1" fill="#000"/><path d="M1263.0,470.0L1263.0,629.0Q1263.0,632.0 1264.9,634.3L1265.1,634.7Q1267.0,637.0 1270.0,637.0L1330.2,637.0" fill="none" stroke="#222" stroke-width="0.85" stroke-dasharray="3.2 1.6"/><path d="M1301.0,428.5L1872.0,428.5" fill="none" stroke="#222" stroke-width="1.2"/><polygon points="1309.5,494.0 1305.0,497.9 1305.0,490.1" fill="#000"/><path d="M1301.0,428.5L1301.0,491.8Q1301.0,494.0 1303.2,494.0L1305.5,494.0" fill="none" stroke="#222" stroke-width="1.0"/><polygon points="1309.5,518.8 1305.0,522.7 1305.0,514.9" fill="#000"/><path d="M1301.0,494.0L1301.0,516.5Q1301.0,518.8 1303.2,518.8L1305.5,518.8" fill="none" stroke="#222" stroke-width="1.0"/><polygon points="1309.5,592.0 1305.0,595.9 1305.0,588.1" fill="#000"/><path d="M1301.0,518.0L1301.0,589.8Q1301.0,592.0 1303.2,592.0L1305.5,592.0" fill="none" stroke="#222" stroke-width="1.0"/><polygon points="1309.5,567.3 1305.0,571.2 1305.0,563.4" fill="#000"/><path d="M1252.0,560.0L1252.0,564.3Q1252.0,567.3 1255.0,567.3L1305.5,567.3" fill="none" stroke="#222" stroke-width="1.0"/><polygon points="1309.5,616.3 1305.0,620.2 1305.0,612.4" fill="#000"/><path d="M1256.0,600.0L1256.0,613.3Q1256.0,616.3 1259.0,616.3L1305.5,616.3" fill="none" stroke="#222" stroke-width="1.0"/><path d="M1430.0,466.0L1872.0,466.0" fill="none" stroke="#222" stroke-width="0.6" stroke-dasharray="3.2 1.6"/><polygon points="1505.3,354.0 1500.8,357.9 1500.8,350.1" fill="#000"/><path d="M1495.0,354.0L1501.3,354.0" fill="none" stroke="#222" stroke-width="1.6"/><polygon points="1517.5,370.5 1513.0,374.4 1513.0,366.6" fill="#000"/><path d="M1512.0,292.0L1510.0,294.0Q1508.0,296.0 1508.0,298.8L1508.0,363.0Q1508.0,366.0 1510.0,368.2L1511.5,369.9Q1512.0,370.5 1512.8,370.5L1513.5,370.5" fill="none" stroke="#222" stroke-width="0.85" stroke-dasharray="3.2 1.6"/><path d="M1601.7,387.0L1602.8,387.0Q1604.0,387.0 1604.0,388.1L1604.0,392.0Q1604.0,395.0 1601.0,395.0L1480.0,395.0" fill="none" stroke="#222" stroke-width="0.9" stroke-dasharray="3.2 1.6"/><path d="M1594.6,370.7L1608.0,370.7Q1611.0,370.7 1611.0,367.7L1611.0,341.8Q1611.0,340.0 1612.5,339.0L1614.0,338.0" fill="none" stroke="#222" stroke-width="0.9" stroke-dasharray="3.2 1.6"/><path d="M1609.7,354.3L1610.3,354.3Q1611.0,354.3 1611.0,354.9L1611.0,422.2Q1611.0,425.0 1609.0,427.0L1609.0,427.0Q1607.0,429.0 1604.2,429.0L1582.8,429.0Q1580.0,429.0 1578.0,427.0L1578.0,427.0Q1576.0,425.0 1576.0,422.2L1576.0,397.0" fill="none" stroke="#222" stroke-width="0.9"/><polygon points="1643.5,384.8 1639.0,388.7 1639.0,380.9" fill="#000"/><path d="M1633.0,389.7L1633.8,387.7Q1634.5,386.0 1636.2,385.4L1637.3,385.0Q1638.0,384.8 1638.8,384.8L1639.5,384.8" fill="none" stroke="#222" stroke-width="1.0"/><path d="M1634.5,389.0L1634.5,595.0" fill="none" stroke="#222" stroke-width="0.8" stroke-dasharray="3.2 1.6"/><path d="M1725.8,376.8L1857.5,376.8Q1860.0,376.8 1860.5,374.4L1861.0,372.0" fill="none" stroke="#222" stroke-width="0.85" stroke-dasharray="3.2 1.6"/><path d="M1732.0,392.5L1747.7,392.5Q1750.0,392.5 1751.5,390.8L1751.5,390.8Q1753.0,389.0 1753.0,386.7L1753.0,310.0" fill="none" stroke="#222" stroke-width="0.9" stroke-dasharray="3.2 1.6"/><path d="M1584.0,383.0L1861.0,383.0" fill="none" stroke="#222" stroke-width="1.0"/><path d="M1480.0,390.0L1861.0,390.0" fill="none" stroke="#222" stroke-width="1.0"/><path d="M1725.8,376.8L1735.1,376.8Q1738.0,376.8 1740.0,378.9L1740.0,378.9Q1742.0,381.0 1742.0,383.9L1742.0,424.0" fill="none" stroke="#222" stroke-width="1.0"/><path d="M1742.0,380.0L1742.0,473.4Q1742.0,476.0 1743.5,478.1L1744.2,479.2Q1745.0,480.3 1743.6,480.3L1742.2,480.3" fill="none" stroke="#222" stroke-width="1.0"/><path d="M1672.0,324.0L1672.0,348.6" fill="none" stroke="#222" stroke-width="0.9"/><path d="M1672.0,420.7L1672.0,505.0" fill="none" stroke="#222" stroke-width="0.9"/><polygon points="1742.2,504.3 1737.7,508.2 1737.7,500.4" fill="#000"/><path d="M1672.0,505.0L1674.0,504.6Q1676.0,504.3 1678.0,504.3L1738.2,504.3" fill="none" stroke="#222" stroke-width="1.0"/><polygon points="1739.5,431.5 1735.0,435.4 1735.0,427.6" fill="#000"/><path d="M1480.0,431.5L1735.5,431.5" fill="none" stroke="#222" stroke-width="1.4"/><polygon points="1739.5,455.7 1735.0,459.6 1735.0,451.8" fill="#000"/><path d="M1494.0,455.7L1735.5,455.7" fill="none" stroke="#222" stroke-width="1.2"/><path d="M1494.5,534.0L1494.5,395.5Q1494.5,393.0 1496.2,391.2L1496.2,391.2Q1498.0,389.5 1500.5,389.5L1527.0,389.5" fill="none" stroke="#222" stroke-width="1.0"/><path d="M1494.5,440.0L1496.2,438.2Q1498.0,436.5 1500.5,436.5L1604.3,436.5Q1607.0,436.5 1609.0,434.8L1609.0,434.8Q1611.0,433.0 1611.0,430.3L1611.0,420.0" fill="none" stroke="#222" stroke-width="0.9"/><polygon points="1501.7,485.2 1497.2,489.1 1497.2,481.3" fill="#000"/><path d="M1468.0,486.0L1484.4,486.0Q1486.0,486.0 1487.5,485.6L1487.5,485.6Q1489.0,485.2 1490.6,485.2L1497.7,485.2" fill="none" stroke="#222" stroke-width="1.0"/><polygon points="1501.7,509.5 1497.2,513.4 1497.2,505.6" fill="#000"/><path d="M1468.0,510.7L1484.4,510.7Q1486.0,510.7 1487.5,510.1L1487.5,510.1Q1489.0,509.5 1490.6,509.5L1497.7,509.5" fill="none" stroke="#222" stroke-width="1.0"/><polygon points="1501.7,534.2 1497.2,538.1 1497.2,530.3" fill="#000"/><path d="M1468.0,535.0L1484.4,535.0Q1486.0,535.0 1487.5,534.6L1487.5,534.6Q1489.0,534.2 1490.6,534.2L1497.7,534.2" fill="none" stroke="#222" stroke-width="1.0"/><path d="M1466.5,559.6L1475.3,559.6Q1478.0,559.6 1480.0,557.8L1480.0,557.8Q1482.0,556.0 1482.0,553.3L1482.0,491.8Q1482.0,489.0 1484.0,487.1L1486.0,485.2" fill="none" stroke="#222" stroke-width="0.9"/><path d="M1476.0,485.2L1476.0,547.3Q1476.0,550.0 1478.0,551.8L1478.5,552.2Q1480.0,553.5 1482.0,553.5L1484.0,553.5" fill="none" stroke="#222" stroke-width="0.9"/><polygon points="1503.6,584.0 1499.1,587.9 1499.1,580.1" fill="#000"/><path d="M1464.0,584.0L1499.6,584.0" fill="none" stroke="#222" stroke-width="1.5"/><polygon points="1503.6,607.5 1499.1,611.4 1499.1,603.6" fill="#000"/><path d="M1464.0,584.0L1475.2,584.0Q1478.0,584.0 1480.0,586.0L1480.0,586.0Q1482.0,588.0 1482.0,590.8L1482.0,604.5Q1482.0,607.5 1485.0,607.5L1499.6,607.5" fill="none" stroke="#222" stroke-width="1.0"/><polygon points="1528.0,628.0 1523.5,631.9 1523.5,624.1" fill="#000"/><path d="M1439.7,604.0L1475.5,604.0Q1478.0,604.0 1479.5,606.0L1479.5,606.0Q1481.0,608.0 1481.0,610.5L1481.0,621.2Q1481.0,624.0 1483.0,626.0L1483.0,626.0Q1485.0,628.0 1487.8,628.0L1524.0,628.0" fill="none" stroke="#222" stroke-width="0.85" stroke-dasharray="3.2 1.6"/><path d="M1618.2,486.0L1742.2,486.0" fill="none" stroke="#222" stroke-width="1.0"/><polygon points="1742.2,504.3 1737.7,508.2 1737.7,500.4" fill="#000"/><path d="M1672.0,470.0L1672.0,497.1Q1672.0,500.0 1674.0,502.1L1674.0,502.1Q1676.0,504.3 1678.9,504.3L1738.2,504.3" fill="none" stroke="#222" stroke-width="1.0"/><path d="M1657.2,501.6L1742.2,501.6" fill="none" stroke="#222" stroke-width="1.0"/><path d="M1657.2,510.5L1742.2,510.5" fill="none" stroke="#222" stroke-width="0.9"/><path d="M1657.2,526.3L1742.2,526.3" fill="none" stroke="#222" stroke-width="1.0"/><path d="M1657.2,535.0L1742.2,535.0" fill="none" stroke="#222" stroke-width="0.9"/><path d="M1655.5,550.7L1742.2,550.7" fill="none" stroke="#222" stroke-width="1.0"/><polygon points="1742.2,553.4 1737.7,557.3 1737.7,549.5" fill="#000"/><path d="M1655.5,553.4L1738.2,553.4" fill="none" stroke="#222" stroke-width="1.0"/><polygon points="1738.4,602.5 1733.9,606.4 1733.9,598.6" fill="#000"/><path d="M1655.5,575.0L1687.0,575.0Q1690.0,575.0 1692.3,576.9L1692.7,577.1Q1695.0,579.0 1695.0,582.0L1695.0,596.3Q1695.0,599.0 1697.0,600.8L1697.0,600.8Q1699.0,602.5 1701.7,602.5L1734.4,602.5" fill="none" stroke="#222" stroke-width="1.0"/><polygon points="1742.2,578.0 1737.7,581.9 1737.7,574.1" fill="#000"/><path d="M1655.5,578.0L1738.2,578.0" fill="none" stroke="#222" stroke-width="1.0"/><path d="M1655.5,584.5L1742.2,584.5" fill="none" stroke="#222" stroke-width="0.9"/><path d="M1628.7,595.3L1630.3,595.3Q1632.0,595.3 1633.0,594.0L1633.2,593.6Q1634.5,592.0 1634.5,589.9L1634.5,470.0" fill="none" stroke="#222" stroke-width="0.9" stroke-dasharray="3.2 1.6"/><polygon points="1739.5,627.0 1735.0,630.9 1735.0,623.1" fill="#000"/><path d="M1739.5,548.0L1737.2,547.2Q1735.0,546.5 1733.5,548.2L1733.5,548.2Q1732.0,550.0 1732.0,552.3L1732.0,619.1Q1732.0,622.0 1733.5,624.5L1734.9,626.8Q1735.0,627.0 1735.2,627.0L1735.5,627.0" fill="none" stroke="#222" stroke-width="1.0"/><polygon points="1742.2,480.3 1737.7,484.2 1737.7,476.4" fill="#000"/><path d="M1732.0,470.0L1732.0,472.5Q1732.0,475.0 1733.2,477.2L1734.2,478.9Q1735.0,480.3 1736.6,480.3L1738.2,480.3" fill="none" stroke="#222" stroke-width="1.0"/><polygon points="1766.3,647.3 1761.8,651.2 1761.8,643.4" fill="#000"/><path d="M1742.5,636.0L1742.5,641.6Q1742.5,644.0 1744.2,645.6L1744.2,645.6Q1746.0,647.3 1748.4,647.3L1762.3,647.3" fill="none" stroke="#222" stroke-width="0.85" stroke-dasharray="3.2 1.6"/><path d="M1745.5,441.0L1745.5,650.0" fill="none" stroke="#222" stroke-width="0.7" stroke-dasharray="3.2 1.6"/></svg>
<div class="b" style="left:1111px;top:121px;width:761px;height:542.5px;overflow:hidden"><div class="b" style="left:-1111px;top:-121px;width:1898px;height:910px">
<span class="t f" id="t279" style="left:1267.0px;top:418.7px;font-size:5.5px;color:#a8a8a8;transform:rotate(90deg) scaleX(1.4639);">ControlStreamOutput-&gt;中频信号接收机:ControlStreamInput</span>
<span class="t f" id="t280" style="left:1638.0px;top:391.7px;font-size:5.5px;color:#a8a8a8;transform:rotate(90deg) scaleX(1.6183);">单脉冲信号处理器:ControlStreamOutput-&gt;ControlStreamInput</span>
<span class="t f" id="t281" style="left:1746.5px;top:401.7px;font-size:5.5px;color:#a8a8a8;transform:rotate(90deg) scaleX(1.3820);">ControlStreamOutput-&gt;Contr</span>
<span class="t f" id="t282" style="left:1217.5px;top:235.1px;font-size:4.8px;color:#e62626;transform:rotate(90deg) scaleX(1.7567);">ControlStreamOutput-&gt;ControlStreamInput</span>
<span class="t f" id="t283" style="left:1616.5px;top:221.1px;font-size:4.8px;color:#e62626;transform:rotate(90deg) scaleX(1.7329);">ControlStreamOutput-&gt;ControlStreamInput</span>
<span class="t f" id="t284" style="left:1543.0px;top:222.9px;font-size:5.2px;color:#9a9a9a;transform:rotate(90deg) scaleX(1.5381);">ControlStreamOutput-&gt;ControlStr</span>
<span class="t f" id="t285" style="left:1549.0px;top:222.9px;font-size:5.2px;color:#9a9a9a;transform:rotate(90deg) scaleX(1.5381);">ControlStreamOutput-&gt;ControlStr</span>
<span class="t f" id="t286" style="left:1555.0px;top:222.9px;font-size:5.2px;color:#9a9a9a;transform:rotate(90deg) scaleX(1.5381);">ControlStreamOutput-&gt;ControlStr</span>
<span class="t f" id="t287" style="left:1561.0px;top:222.9px;font-size:5.2px;color:#9a9a9a;transform:rotate(90deg) scaleX(1.5381);">ControlStreamOutput-&gt;ControlStr</span>
<span class="t f" id="t288" style="left:1567.0px;top:222.9px;font-size:5.2px;color:#9a9a9a;transform:rotate(90deg) scaleX(1.5381);">ControlStreamOutput-&gt;ControlStr</span>
<span class="t f" id="t289" style="left:1444.0px;top:593.9px;font-size:5.5px;color:#a0a0a0;transform:scaleX(0.5789);">滤波器模块:ControlStreamOutput-&gt;模块集合</span>
<span class="t f" id="t290" style="left:1737.0px;top:465.2px;font-size:5.2px;color:#a8a8a8;transform:scaleX(0.6511);">ControlStreamOutput-&gt;Contr</span>
<span class="t f" id="t291" style="left:1219.7px;top:287.5px;font-size:5.8px;color:#e03030;transform:scaleX(0.8771);">ControlStreamOutput-&gt;ControlStreamInput</span>
<span class="t f" id="t292" style="left:1342.5px;top:203.3px;font-size:5.8px;color:#e03030;transform:scaleX(0.7651);">mOutput-&gt;ControlSt</span>
<span class="t f" id="t293" style="left:1441.0px;top:219.5px;font-size:5.8px;color:#e03030;transform:scaleX(0.8955);">ControlStreamOutput</span>
<span class="t f" id="t294" style="left:1721.5px;top:300.3px;font-size:5.8px;color:#e03030;transform:scaleX(0.8840);">ControlStreamOutput-&gt;ControlStreamInput</span>
<span class="t f" id="t295" style="left:1859.0px;top:273.5px;font-size:5.8px;color:#e03030;transform:scaleX(0.4293);">ontrolStream</span>
<span class="t f" id="t296" style="left:1736.0px;top:205.1px;font-size:5.6px;color:#9e9e9e;transform:scaleX(0.9160);">ControlStreamOutput-&gt;ControlStreamInput</span>
<span class="t f" id="t297" style="left:1736.0px;top:213.6px;font-size:5.6px;color:#9e9e9e;transform:scaleX(0.8369);">SendMidFreqFreqSample-&gt;MidFreqSample</span>
<span class="t f" id="t298" style="left:1736.0px;top:222.1px;font-size:5.6px;color:#9e9e9e;transform:scaleX(0.8966);">SendPRIList-&gt;GetPRIList</span>
<span class="t f" id="t299" style="left:1478.0px;top:123.8px;font-size:5.4px;color:#9e9e9e;transform:scaleX(0.8457);">SendSimulationInfo-&gt;GetSimulationInfo</span>
<span class="t f" id="t300" style="left:1478.0px;top:132.3px;font-size:5.4px;color:#9e9e9e;transform:scaleX(0.8779);">SendPRIList-&gt;GetPRIList</span>
<span class="t f" id="t301" style="left:1380.5px;top:385.1px;font-size:5.6px;color:#9e9e9e;transform:scaleX(0.9012);">AcquireTargetPos-&gt;AcquireTargetPos</span>
</div></div>
<svg style="left:1111px;top:121px;overflow:hidden" width="761" height="542.5" viewBox="1111 121 761 542.5"><rect x="1174.0" y="176.0" width="17.8" height="9.2" rx="1.2" fill="#b3cbfb" stroke="#93a8e0" stroke-width="0.7"/><rect x="1106.0" y="176.0" width="13.6" height="9.2" rx="1.2" fill="#b3cbfb" stroke="#93a8e0" stroke-width="0.7"/><rect x="1174.0" y="192.3" width="13.5" height="9.2" rx="1.2" fill="#b3cbfb" stroke="#93a8e0" stroke-width="0.7"/><rect x="1106.0" y="192.3" width="13.6" height="9.2" rx="1.2" fill="#b3cbfb" stroke="#93a8e0" stroke-width="0.7"/><rect x="1174.0" y="208.7" width="17.8" height="9.2" rx="1.2" fill="#b3cbfb" stroke="#93a8e0" stroke-width="0.7"/><rect x="1106.0" y="208.7" width="13.6" height="9.2" rx="1.2" fill="#b3cbfb" stroke="#93a8e0" stroke-width="0.7"/><rect x="1174.0" y="225.0" width="25.8" height="9.2" rx="1.2" fill="#b3cbfb" stroke="#93a8e0" stroke-width="0.7"/><rect x="1106.0" y="225.0" width="13.6" height="9.2" rx="1.2" fill="#b3cbfb" stroke="#93a8e0" stroke-width="0.7"/><rect x="1174.0" y="241.3" width="17.8" height="9.2" rx="1.2" fill="#b3cbfb" stroke="#93a8e0" stroke-width="0.7"/><rect x="1106.0" y="241.3" width="13.6" height="9.2" rx="1.2" fill="#b3cbfb" stroke="#93a8e0" stroke-width="0.7"/><rect x="1174.0" y="257.6" width="34.6" height="9.2" rx="1.2" fill="#b3cbfb" stroke="#93a8e0" stroke-width="0.7"/><rect x="1106.0" y="257.6" width="13.6" height="9.2" rx="1.2" fill="#b3cbfb" stroke="#93a8e0" stroke-width="0.7"/><rect x="1174.0" y="274.0" width="25.8" height="9.2" rx="1.2" fill="#b3cbfb" stroke="#93a8e0" stroke-width="0.7"/><rect x="1106.0" y="274.0" width="13.6" height="9.2" rx="1.2" fill="#b3cbfb" stroke="#93a8e0" stroke-width="0.7"/><rect x="1174.0" y="289.5" width="10.4" height="10.5" rx="1.2" fill="#ef7df3" stroke="#c565cc" stroke-width="0.7"/><rect x="1106.0" y="289.5" width="13.6" height="10.5" rx="1.2" fill="#ef7df3" stroke="#c565cc" stroke-width="0.7"/><rect x="1119.6" y="168.6" width="54.2" height="136.7" rx="3.5" fill="#cfe3fa" stroke="#a9b9cc" stroke-width="1"/><rect x="1239.2" y="192.4" width="17.3" height="9.9" rx="1.2" fill="#b3cbfb" stroke="#93a8e0" stroke-width="0.7"/><rect x="1247.0" y="209.0" width="9.5" height="9.0" rx="1.2" fill="#ef7df3" stroke="#c565cc" stroke-width="0.7"/><rect x="1332.0" y="192.4" width="18.0" height="9.9" rx="1.2" fill="#b3cbfb" stroke="#93a8e0" stroke-width="0.7"/><rect x="1332.0" y="209.0" width="10.6" height="9.0" rx="1.2" fill="#ef7df3" stroke="#c565cc" stroke-width="0.7"/><rect x="1256.5" y="165.4" width="75.5" height="80.2" rx="3.5" fill="#cfe3fa" stroke="#a9b9cc" stroke-width="1"/><rect x="1362.0" y="192.4" width="14.0" height="9.9" rx="1.2" fill="#b3cbfb" stroke="#93a8e0" stroke-width="0.7"/><rect x="1365.8" y="209.0" width="10.2" height="9.0" rx="1.2" fill="#ef7df3" stroke="#c565cc" stroke-width="0.7"/><rect x="1359.0" y="224.5" width="17.0" height="9.9" rx="1.2" fill="#f0776c" stroke="#c85a50" stroke-width="0.7"/><rect x="1427.6" y="192.4" width="22.2" height="9.9" rx="1.2" fill="#b3cbfb" stroke="#93a8e0" stroke-width="0.7"/><rect x="1427.6" y="209.0" width="9.4" height="9.0" rx="1.2" fill="#b3cbfb" stroke="#93a8e0" stroke-width="0.7"/><rect x="1427.6" y="224.5" width="9.4" height="9.9" rx="1.2" fill="#ef7df3" stroke="#c565cc" stroke-width="0.7"/><rect x="1376.0" y="186.0" width="51.6" height="54.3" rx="3.5" fill="#cfe3fa" stroke="#a9b9cc" stroke-width="1"/><rect x="1484.0" y="200.0" width="9.7" height="8.6" rx="1.2" fill="#b3cbfb" stroke="#93a8e0" stroke-width="0.7"/><rect x="1484.0" y="215.0" width="9.7" height="9.5" rx="1.2" fill="#ef7df3" stroke="#c565cc" stroke-width="0.7"/><rect x="1539.7" y="206.5" width="9.9" height="10.2" rx="1.2" fill="#ef7df3" stroke="#c565cc" stroke-width="0.7"/><rect x="1493.7" y="192.2" width="46.0" height="38.0" rx="3.5" fill="#cfe3fa" stroke="#a9b9cc" stroke-width="1"/><rect x="1559.0" y="166.0" width="10.7" height="10.0" rx="1.2" fill="#ef7df3" stroke="#c565cc" stroke-width="0.7"/><rect x="1655.7" y="158.0" width="26.3" height="9.5" rx="1.2" fill="#b3cbfb" stroke="#93a8e0" stroke-width="0.7"/><rect x="1655.7" y="173.8" width="10.3" height="10.0" rx="1.2" fill="#ef7df3" stroke="#c565cc" stroke-width="0.7"/><rect x="1569.7" y="127.0" width="86.0" height="86.3" rx="3.5" fill="#cfe3fa" stroke="#a9b9cc" stroke-width="1"/><rect x="1796.5" y="110.0" width="70.5" height="20.6" rx="3.5" fill="#cfe3fa" stroke="#a9b9cc" stroke-width="1"/><rect x="1779.0" y="248.7" width="13.0" height="9.1" rx="1.2" fill="#b3cbfb" stroke="#93a8e0" stroke-width="0.7"/><rect x="1782.0" y="265.0" width="10.0" height="9.7" rx="1.2" fill="#ef7df3" stroke="#c565cc" stroke-width="0.7"/><rect x="1775.0" y="281.0" width="17.0" height="9.5" rx="1.2" fill="#f0776c" stroke="#c85a50" stroke-width="0.7"/><rect x="1846.5" y="248.7" width="28.5" height="9.1" rx="1.2" fill="#b3cbfb" stroke="#93a8e0" stroke-width="0.7"/><rect x="1846.5" y="265.0" width="10.1" height="9.7" rx="1.2" fill="#b3cbfb" stroke="#93a8e0" stroke-width="0.7"/><rect x="1846.5" y="281.0" width="10.1" height="9.5" rx="1.2" fill="#ef7df3" stroke="#c565cc" stroke-width="0.7"/><rect x="1792.0" y="242.4" width="54.5" height="54.1" rx="3.5" fill="#cfe3fa" stroke="#a9b9cc" stroke-width="1"/><rect x="1628.7" y="264.5" width="17.3" height="9.1" rx="1.2" fill="#b3cbfb" stroke="#93a8e0" stroke-width="0.7"/><rect x="1624.5" y="281.0" width="21.5" height="9.5" rx="1.2" fill="#b3cbfb" stroke="#93a8e0" stroke-width="0.7"/><rect x="1637.0" y="296.5" width="9.0" height="9.9" rx="1.2" fill="#b3cbfb" stroke="#93a8e0" stroke-width="0.7"/><rect x="1637.0" y="312.7" width="9.0" height="9.5" rx="1.2" fill="#ef7df3" stroke="#c565cc" stroke-width="0.7"/><rect x="1708.0" y="272.0" width="17.8" height="9.0" rx="1.2" fill="#b3cbfb" stroke="#93a8e0" stroke-width="0.7"/><rect x="1708.0" y="288.4" width="13.6" height="9.1" rx="1.2" fill="#b3cbfb" stroke="#93a8e0" stroke-width="0.7"/><rect x="1708.0" y="304.3" width="10.4" height="9.5" rx="1.2" fill="#ef7df3" stroke="#c565cc" stroke-width="0.7"/><rect x="1646.0" y="257.0" width="62.0" height="71.0" rx="3.5" fill="#cfe3fa" stroke="#a9b9cc" stroke-width="1"/><rect x="1357.8" y="324.7" width="9.2" height="9.7" rx="1.2" fill="#b3cbfb" stroke="#93a8e0" stroke-width="0.7"/><rect x="1357.8" y="341.2" width="9.2" height="9.8" rx="1.2" fill="#ef7df3" stroke="#c565cc" stroke-width="0.7"/><rect x="1442.4" y="317.0" width="26.2" height="9.0" rx="1.2" fill="#b3cbfb" stroke="#93a8e0" stroke-width="0.7"/><rect x="1442.4" y="332.7" width="9.9" height="10.0" rx="1.2" fill="#ef7df3" stroke="#c565cc" stroke-width="0.7"/><rect x="1442.4" y="348.6" width="17.3" height="10.4" rx="1.2" fill="#f0776c" stroke="#c85a50" stroke-width="0.7"/><rect x="1366.9" y="290.0" width="75.5" height="94.9" rx="3.5" fill="#cfe3fa" stroke="#a9b9cc" stroke-width="1"/><rect x="1241.8" y="332.0" width="17.5" height="10.2" rx="1.2" fill="#b3cbfb" stroke="#93a8e0" stroke-width="0.7"/><rect x="1225.0" y="348.6" width="34.3" height="10.1" rx="1.2" fill="#b3cbfb" stroke="#93a8e0" stroke-width="0.7"/><rect x="1241.8" y="365.0" width="17.5" height="10.0" rx="1.2" fill="#b3cbfb" stroke="#93a8e0" stroke-width="0.7"/><rect x="1249.4" y="381.3" width="9.9" height="9.9" rx="1.2" fill="#ef7df3" stroke="#c565cc" stroke-width="0.7"/><rect x="1242.4" y="397.0" width="16.9" height="10.2" rx="1.2" fill="#f0776c" stroke="#c85a50" stroke-width="0.7"/><rect x="1295.0" y="357.0" width="22.3" height="9.0" rx="1.2" fill="#b3cbfb" stroke="#93a8e0" stroke-width="0.7"/><rect x="1295.0" y="372.8" width="10.7" height="9.9" rx="1.2" fill="#ef7df3" stroke="#c565cc" stroke-width="0.7"/><rect x="1259.3" y="326.0" width="35.7" height="87.0" rx="3.5" fill="#cfe3fa" stroke="#a9b9cc" stroke-width="1"/><rect x="1505.3" y="349.2" width="22.2" height="9.8" rx="1.2" fill="#b3cbfb" stroke="#93a8e0" stroke-width="0.7"/><rect x="1517.5" y="365.4" width="10.0" height="10.2" rx="1.2" fill="#ef7df3" stroke="#c565cc" stroke-width="0.7"/><rect x="1584.4" y="333.4" width="22.2" height="9.3" rx="1.2" fill="#b3cbfb" stroke="#93a8e0" stroke-width="0.7"/><rect x="1584.4" y="349.6" width="25.3" height="9.4" rx="1.2" fill="#b3cbfb" stroke="#93a8e0" stroke-width="0.7"/><rect x="1584.4" y="365.9" width="10.2" height="9.7" rx="1.2" fill="#ef7df3" stroke="#c565cc" stroke-width="0.7"/><rect x="1584.4" y="382.3" width="17.3" height="9.5" rx="1.2" fill="#f0776c" stroke="#c85a50" stroke-width="0.7"/><rect x="1527.5" y="327.5" width="56.9" height="69.5" rx="3.5" fill="#cfe3fa" stroke="#a9b9cc" stroke-width="1"/><rect x="1643.5" y="379.8" width="9.1" height="9.9" rx="1.2" fill="#ef7df3" stroke="#c565cc" stroke-width="0.7"/><rect x="1715.7" y="371.8" width="10.1" height="10.1" rx="1.2" fill="#ef7df3" stroke="#c565cc" stroke-width="0.7"/><rect x="1715.7" y="387.6" width="16.3" height="9.9" rx="1.2" fill="#f0776c" stroke="#c85a50" stroke-width="0.7"/><rect x="1652.6" y="348.6" width="63.1" height="72.1" rx="3.5" fill="#cfe3fa" stroke="#a9b9cc" stroke-width="1"/><rect x="1123.2" y="411.2" width="18.4" height="9.1" rx="1.2" fill="#b3cbfb" stroke="#93a8e0" stroke-width="0.7"/><rect x="1106.0" y="427.0" width="35.6" height="9.0" rx="1.2" fill="#b3cbfb" stroke="#93a8e0" stroke-width="0.7"/><rect x="1131.0" y="443.0" width="10.6" height="10.0" rx="1.2" fill="#ef7df3" stroke="#c565cc" stroke-width="0.7"/><rect x="1187.6" y="411.2" width="17.4" height="9.1" rx="1.2" fill="#b3cbfb" stroke="#93a8e0" stroke-width="0.7"/><rect x="1187.6" y="427.0" width="10.1" height="9.0" rx="1.2" fill="#ef7df3" stroke="#c565cc" stroke-width="0.7"/><rect x="1187.6" y="443.0" width="16.8" height="10.0" rx="1.2" fill="#f0776c" stroke="#c85a50" stroke-width="0.7"/><rect x="1141.6" y="404.5" width="46.0" height="54.8" rx="3.5" fill="#cfe3fa" stroke="#a9b9cc" stroke-width="1"/><rect x="1307.8" y="443.5" width="36.5" height="19.0" rx="1.2" fill="#b3cbfb" stroke="#93a8e0" stroke-width="0.7"/><rect x="1313.0" y="468.4" width="31.3" height="10.2" rx="1.2" fill="#b3cbfb" stroke="#93a8e0" stroke-width="0.7"/><rect x="1309.5" y="485.0" width="34.8" height="18.2" rx="1.2" fill="#b3cbfb" stroke="#93a8e0" stroke-width="0.7"/><rect x="1309.5" y="509.6" width="34.8" height="18.4" rx="1.2" fill="#b3cbfb" stroke="#93a8e0" stroke-width="0.7"/><rect x="1309.5" y="533.8" width="34.8" height="18.4" rx="1.2" fill="#b3cbfb" stroke="#93a8e0" stroke-width="0.7"/><rect x="1309.5" y="558.0" width="34.8" height="18.7" rx="1.2" fill="#b3cbfb" stroke="#93a8e0" stroke-width="0.7"/><rect x="1309.5" y="582.8" width="34.8" height="18.2" rx="1.2" fill="#b3cbfb" stroke="#93a8e0" stroke-width="0.7"/><rect x="1309.5" y="607.0" width="34.8" height="18.6" rx="1.2" fill="#b3cbfb" stroke="#93a8e0" stroke-width="0.7"/><rect x="1334.2" y="632.0" width="10.1" height="9.9" rx="1.2" fill="#ef7df3" stroke="#c565cc" stroke-width="0.7"/><rect x="1429.5" y="477.5" width="38.5" height="17.3" rx="1.2" fill="#b3cbfb" stroke="#93a8e0" stroke-width="0.7"/><rect x="1429.5" y="501.8" width="34.5" height="17.7" rx="1.2" fill="#b3cbfb" stroke="#93a8e0" stroke-width="0.7"/><rect x="1429.5" y="526.0" width="34.5" height="18.0" rx="1.2" fill="#b3cbfb" stroke="#93a8e0" stroke-width="0.7"/><rect x="1429.5" y="550.7" width="37.0" height="17.9" rx="1.2" fill="#b3cbfb" stroke="#93a8e0" stroke-width="0.7"/><rect x="1429.5" y="575.0" width="34.5" height="18.0" rx="1.2" fill="#b3cbfb" stroke="#93a8e0" stroke-width="0.7"/><rect x="1429.5" y="599.2" width="10.2" height="9.8" rx="1.2" fill="#ef7df3" stroke="#c565cc" stroke-width="0.7"/><rect x="1344.3" y="438.2" width="85.2" height="209.1" rx="3.5" fill="#deebdc" stroke="#b7c7b7" stroke-width="1"/><rect x="1513.8" y="458.0" width="24.2" height="12.0" rx="1.2" fill="#b3cbfb" stroke="#93a8e0" stroke-width="0.7"/><rect x="1501.7" y="475.8" width="36.3" height="18.6" rx="1.2" fill="#b3cbfb" stroke="#93a8e0" stroke-width="0.7"/><rect x="1503.6" y="500.5" width="34.4" height="17.9" rx="1.2" fill="#b3cbfb" stroke="#93a8e0" stroke-width="0.7"/><rect x="1503.6" y="525.0" width="34.4" height="18.3" rx="1.2" fill="#b3cbfb" stroke="#93a8e0" stroke-width="0.7"/><rect x="1503.6" y="549.7" width="34.4" height="17.9" rx="1.2" fill="#b3cbfb" stroke="#93a8e0" stroke-width="0.7"/><rect x="1503.6" y="574.0" width="34.4" height="18.3" rx="1.2" fill="#b3cbfb" stroke="#93a8e0" stroke-width="0.7"/><rect x="1503.6" y="598.2" width="34.4" height="18.6" rx="1.2" fill="#b3cbfb" stroke="#93a8e0" stroke-width="0.7"/><rect x="1528.0" y="623.0" width="10.0" height="10.0" rx="1.2" fill="#ef7df3" stroke="#c565cc" stroke-width="0.7"/><rect x="1618.2" y="492.7" width="39.0" height="17.9" rx="1.2" fill="#b3cbfb" stroke="#93a8e0" stroke-width="0.7"/><rect x="1618.2" y="517.4" width="39.0" height="17.9" rx="1.2" fill="#b3cbfb" stroke="#93a8e0" stroke-width="0.7"/><rect x="1618.2" y="541.6" width="37.3" height="18.0" rx="1.2" fill="#b3cbfb" stroke="#93a8e0" stroke-width="0.7"/><rect x="1618.2" y="566.0" width="37.3" height="18.0" rx="1.2" fill="#b3cbfb" stroke="#93a8e0" stroke-width="0.7"/><rect x="1618.2" y="590.8" width="10.5" height="9.1" rx="1.2" fill="#ef7df3" stroke="#c565cc" stroke-width="0.7"/><rect x="1538.0" y="453.5" width="80.2" height="184.8" rx="3.5" fill="#deebdc" stroke="#b7c7b7" stroke-width="1"/><rect x="1739.5" y="422.4" width="36.9" height="17.9" rx="1.2" fill="#b3cbfb" stroke="#93a8e0" stroke-width="0.7"/><rect x="1739.5" y="446.7" width="36.9" height="17.9" rx="1.2" fill="#b3cbfb" stroke="#93a8e0" stroke-width="0.7"/><rect x="1742.2" y="471.6" width="34.2" height="17.5" rx="1.2" fill="#b3cbfb" stroke="#93a8e0" stroke-width="0.7"/><rect x="1742.2" y="495.4" width="34.2" height="18.0" rx="1.2" fill="#b3cbfb" stroke="#93a8e0" stroke-width="0.7"/><rect x="1742.2" y="519.7" width="34.2" height="18.3" rx="1.2" fill="#b3cbfb" stroke="#93a8e0" stroke-width="0.7"/><rect x="1742.2" y="544.4" width="34.2" height="18.3" rx="1.2" fill="#b3cbfb" stroke="#93a8e0" stroke-width="0.7"/><rect x="1742.2" y="568.6" width="34.2" height="18.4" rx="1.2" fill="#b3cbfb" stroke="#93a8e0" stroke-width="0.7"/><rect x="1738.4" y="593.3" width="38.0" height="18.2" rx="1.2" fill="#b3cbfb" stroke="#93a8e0" stroke-width="0.7"/><rect x="1739.5" y="617.8" width="36.9" height="18.4" rx="1.2" fill="#b3cbfb" stroke="#93a8e0" stroke-width="0.7"/><rect x="1766.3" y="642.5" width="10.1" height="9.5" rx="1.2" fill="#ef7df3" stroke="#c565cc" stroke-width="0.7"/><rect x="1868.6" y="471.6" width="11.4" height="17.5" rx="1.2" fill="#b3cbfb" stroke="#93a8e0" stroke-width="0.7"/><rect x="1868.6" y="495.4" width="11.4" height="18.0" rx="1.2" fill="#b3cbfb" stroke="#93a8e0" stroke-width="0.7"/><rect x="1868.6" y="519.7" width="11.4" height="18.3" rx="1.2" fill="#b3cbfb" stroke="#93a8e0" stroke-width="0.7"/><rect x="1868.6" y="544.4" width="11.4" height="18.3" rx="1.2" fill="#b3cbfb" stroke="#93a8e0" stroke-width="0.7"/><rect x="1868.6" y="568.6" width="11.4" height="11.4" rx="1.2" fill="#ef7df3" stroke="#c565cc" stroke-width="0.7"/><rect x="1776.4" y="416.0" width="92.2" height="242.3" rx="3.5" fill="#deebdc" stroke="#b7c7b7" stroke-width="1"/></svg>
<div class="b" style="left:1111px;top:121px;width:761px;height:542.5px;overflow:hidden"><div class="b" style="left:-1111px;top:-121px;width:1898px;height:910px">
<span class="t" id="t302" style="left:1174.6px;top:176.0px;font-size:7.2px;color:#0a0f2e;transform:scaleX(0.5771);">发射信号</span>
<span class="t" id="t303" style="left:1106.6px;top:176.0px;font-size:7.2px;color:#0a0f2e;transform:scaleX(0.5768);">信号</span>
<span class="t" id="t304" style="left:1174.6px;top:192.3px;font-size:7.2px;color:#0a0f2e;transform:scaleX(0.5770);">航位率</span>
<span class="t" id="t305" style="left:1106.6px;top:192.3px;font-size:7.2px;color:#0a0f2e;transform:scaleX(0.5768);">位率</span>
<span class="t" id="t306" style="left:1174.6px;top:208.6px;font-size:7.2px;color:#0a0f2e;transform:scaleX(0.5771);">雷达参数</span>
<span class="t" id="t307" style="left:1106.6px;top:208.6px;font-size:7.2px;color:#0a0f2e;transform:scaleX(0.5768);">参数</span>
<span class="t" id="t308" style="left:1174.6px;top:225.0px;font-size:7.2px;color:#0a0f2e;transform:scaleX(0.5772);">通信链表开关</span>
<span class="t" id="t309" style="left:1106.6px;top:225.0px;font-size:7.2px;color:#0a0f2e;transform:scaleX(0.5768);">开关</span>
<span class="t" id="t310" style="left:1174.6px;top:241.3px;font-size:7.2px;color:#0a0f2e;transform:scaleX(0.5771);">目标信息</span>
<span class="t" id="t311" style="left:1106.6px;top:241.3px;font-size:7.2px;color:#0a0f2e;transform:scaleX(0.5768);">信息</span>
<span class="t" id="t312" style="left:1174.6px;top:257.6px;font-size:7.2px;color:#0a0f2e;transform:scaleX(0.5772);">平台自身运动信息</span>
<span class="t" id="t313" style="left:1106.6px;top:257.6px;font-size:7.2px;color:#0a0f2e;transform:scaleX(0.5768);">信息</span>
<span class="t" id="t314" style="left:1174.6px;top:274.0px;font-size:7.2px;color:#0a0f2e;transform:scaleX(0.5772);">天线转罩参数</span>
<span class="t" id="t315" style="left:1106.6px;top:274.0px;font-size:7.2px;color:#0a0f2e;transform:scaleX(0.5768);">参数</span>
<span class="t" id="t316" style="left:1174.6px;top:290.1px;font-size:7.2px;color:#2c0634;transform:scaleX(0.5768);">上游</span>
<span class="t" id="t317" style="left:1106.6px;top:290.1px;font-size:7.2px;color:#2c0634;transform:scaleX(0.5768);">下游</span>
<span class="t f" id="t318" style="left:1120.9px;top:228.2px;font-size:7.6px;color:#0c0c0c;font-weight:900;transform:scaleX(0.7223);">ReceiverInputModule</span>
<span class="t f" id="t319" style="left:1129.2px;top:236.7px;font-size:7.6px;color:#0c0c0c;font-weight:900;transform:scaleX(0.6584);">接收机输入模块</span>
<span class="t" id="t320" style="left:1239.8px;top:192.7px;font-size:7.2px;color:#0a0f2e;transform:scaleX(0.5736);">开始跳换</span>
<span class="t" id="t321" style="left:1247.6px;top:208.9px;font-size:7.2px;color:#2c0634;transform:scaleX(0.5768);">下游</span>
<span class="t" id="t322" style="left:1332.6px;top:192.7px;font-size:7.2px;color:#0a0f2e;transform:scaleX(0.5771);">跳换信号</span>
<span class="t" id="t323" style="left:1332.6px;top:208.9px;font-size:7.2px;color:#2c0634;transform:scaleX(0.5768);">上游</span>
<span class="t f" id="t324" style="left:1258.2px;top:196.2px;font-size:7.6px;color:#0c0c0c;font-weight:900;transform:scaleX(0.6995);">JumperConnectionFirstModule</span>
<span class="t f" id="t325" style="left:1271.2px;top:204.7px;font-size:7.6px;color:#0c0c0c;font-weight:900;transform:scaleX(0.6858);">执行流跳接首模块-0</span>
<span class="t" id="t326" style="left:1362.6px;top:192.7px;font-size:7.2px;color:#0a0f2e;transform:scaleX(0.5770);">迭位率</span>
<span class="t" id="t327" style="left:1366.4px;top:208.9px;font-size:7.2px;color:#2c0634;transform:scaleX(0.5768);">下游</span>
<span class="t" id="t328" style="left:1359.6px;top:224.8px;font-size:7.2px;color:#380a06;transform:scaleX(0.6759);">Service</span>
<span class="t" id="t329" style="left:1428.2px;top:192.7px;font-size:7.2px;color:#0a0f2e;transform:scaleX(0.5771);">内循环状态</span>
<span class="t" id="t330" style="left:1428.2px;top:208.9px;font-size:7.2px;color:#0a0f2e;transform:scaleX(0.5768);">波位</span>
<span class="t" id="t331" style="left:1428.2px;top:224.8px;font-size:7.2px;color:#2c0634;transform:scaleX(0.5768);">上游</span>
<span class="t f" id="t332" style="left:1377.5px;top:203.7px;font-size:7.6px;color:#0c0c0c;font-weight:900;transform:scaleX(0.7012);">BeamIteratorModule</span>
<span class="t f" id="t333" style="left:1384.3px;top:212.2px;font-size:7.6px;color:#0c0c0c;font-weight:900;transform:scaleX(0.6745);">波位循环组件-0</span>
<span class="t" id="t334" style="left:1484.6px;top:199.7px;font-size:7.2px;color:#0a0f2e;transform:scaleX(0.5768);">波位</span>
<span class="t" id="t335" style="left:1484.6px;top:215.1px;font-size:7.2px;color:#2c0634;transform:scaleX(0.5768);">下游</span>
<span class="t" id="t336" style="left:1540.3px;top:207.0px;font-size:7.2px;color:#2c0634;transform:scaleX(0.5768);">上游</span>
<span class="t f" id="t337" style="left:1495.2px;top:202.2px;font-size:7.6px;color:#0c0c0c;font-weight:900;transform:scaleX(0.6576);">BeamParamModule</span>
<span class="t f" id="t338" style="left:1497.2px;top:210.7px;font-size:7.6px;color:#0c0c0c;font-weight:900;transform:scaleX(0.6420);">波位参数拆分模块</span>
<span class="t" id="t339" style="left:1559.6px;top:166.4px;font-size:7.2px;color:#2c0634;transform:scaleX(0.5768);">下游</span>
<span class="t" id="t340" style="left:1656.3px;top:158.1px;font-size:7.2px;color:#0a0f2e;transform:scaleX(0.5772);">干扰数据平面</span>
<span class="t" id="t341" style="left:1656.3px;top:174.2px;font-size:7.2px;color:#2c0634;transform:scaleX(0.5768);">上游</span>
<span class="t f" id="t342" style="left:1571.7px;top:161.2px;font-size:7.6px;color:#0c0c0c;font-weight:900;transform:scaleX(0.6703);">JammerDataPlaneGenerationModule</span>
<span class="t f" id="t343" style="left:1593.2px;top:169.7px;font-size:7.6px;color:#0c0c0c;font-weight:900;transform:scaleX(0.6420);">干扰数据平面生成</span>
<span class="t" id="t344" style="left:1779.6px;top:248.6px;font-size:7.2px;color:#0a0f2e;transform:scaleX(0.5654);">前进率</span>
<span class="t" id="t345" style="left:1782.6px;top:265.2px;font-size:7.2px;color:#2c0634;transform:scaleX(0.5768);">下游</span>
<span class="t" id="t346" style="left:1775.6px;top:281.1px;font-size:7.2px;color:#380a06;transform:scaleX(0.6759);">Service</span>
<span class="t" id="t347" style="left:1847.1px;top:248.6px;font-size:7.2px;color:#0a0f2e;transform:scaleX(0.5771);">内循环状态</span>
<span class="t" id="t348" style="left:1847.1px;top:265.2px;font-size:7.2px;color:#0a0f2e;transform:scaleX(0.5768);">前进</span>
<span class="t" id="t349" style="left:1847.1px;top:281.1px;font-size:7.2px;color:#2c0634;transform:scaleX(0.5768);">上游</span>
<span class="t f" id="t350" style="left:1793.8px;top:259.7px;font-size:7.6px;color:#0c0c0c;font-weight:900;transform:scaleX(0.7510);">PulseIteratorModule</span>
<span class="t f" id="t351" style="left:1804.8px;top:268.2px;font-size:7.6px;color:#0c0c0c;font-weight:900;transform:scaleX(0.6365);">脉组循环组件</span>
<span class="t" id="t352" style="left:1629.3px;top:264.4px;font-size:7.2px;color:#0a0f2e;transform:scaleX(0.5736);">发射信号</span>
<span class="t" id="t353" style="left:1625.1px;top:281.1px;font-size:7.2px;color:#0a0f2e;transform:scaleX(0.5757);">内循环状态</span>
<span class="t" id="t354" style="left:1637.6px;top:296.8px;font-size:7.2px;color:#0a0f2e;transform:scaleX(0.5698);">波位</span>
<span class="t" id="t355" style="left:1637.6px;top:312.8px;font-size:7.2px;color:#2c0634;transform:scaleX(0.5698);">下游</span>
<span class="t" id="t356" style="left:1708.6px;top:271.9px;font-size:7.2px;color:#0a0f2e;transform:scaleX(0.5771);">发射信号</span>
<span class="t" id="t357" style="left:1708.6px;top:288.3px;font-size:7.2px;color:#0a0f2e;transform:scaleX(0.5770);">前进率</span>
<span class="t" id="t358" style="left:1708.6px;top:304.4px;font-size:7.2px;color:#2c0634;transform:scaleX(0.5768);">上游</span>
<span class="t f" id="t359" style="left:1647.5px;top:283.2px;font-size:7.6px;color:#0c0c0c;font-weight:900;transform:scaleX(0.6637);">Beam2PulseGroupsModule</span>
<span class="t f" id="t360" style="left:1655.0px;top:291.7px;font-size:7.6px;color:#0c0c0c;font-weight:900;transform:scaleX(0.6438);">波位转换脉组串模块</span>
<span class="t" id="t361" style="left:1358.4px;top:324.9px;font-size:7.2px;color:#0a0f2e;transform:scaleX(0.5768);">波位</span>
<span class="t" id="t362" style="left:1358.4px;top:341.5px;font-size:7.2px;color:#2c0634;transform:scaleX(0.5768);">下游</span>
<span class="t" id="t363" style="left:1443.0px;top:316.9px;font-size:7.2px;color:#0a0f2e;transform:scaleX(0.5772);">合成发射信号</span>
<span class="t" id="t364" style="left:1443.0px;top:333.1px;font-size:7.2px;color:#2c0634;transform:scaleX(0.5768);">上游</span>
<span class="t" id="t365" style="left:1443.0px;top:349.2px;font-size:7.2px;color:#380a06;transform:scaleX(0.6884);">Service</span>
<span class="t f" id="t366" style="left:1368.2px;top:328.2px;font-size:7.6px;color:#0c0c0c;font-weight:900;transform:scaleX(0.7131);">SingleBeamTransmitterModule</span>
<span class="t f" id="t367" style="left:1382.2px;top:336.7px;font-size:7.6px;color:#0c0c0c;font-weight:900;transform:scaleX(0.6709);">单波位发射机模块-0</span>
<span class="t" id="t368" style="left:1242.4px;top:332.5px;font-size:7.2px;color:#0a0f2e;transform:scaleX(0.5771);">目标信息</span>
<span class="t" id="t369" style="left:1225.6px;top:349.0px;font-size:7.2px;color:#0a0f2e;transform:scaleX(0.5772);">平台自身运动信息</span>
<span class="t" id="t370" style="left:1242.4px;top:365.4px;font-size:7.2px;color:#0a0f2e;transform:scaleX(0.5771);">雷达参数</span>
<span class="t" id="t371" style="left:1250.0px;top:381.6px;font-size:7.2px;color:#2c0634;transform:scaleX(0.5768);">下游</span>
<span class="t" id="t372" style="left:1243.0px;top:397.5px;font-size:7.2px;color:#380a06;transform:scaleX(0.6717);">Service</span>
<span class="t" id="t373" style="left:1295.6px;top:356.9px;font-size:7.2px;color:#0a0f2e;transform:scaleX(0.5771);">目标出列表</span>
<span class="t" id="t374" style="left:1295.6px;top:373.1px;font-size:7.2px;color:#2c0634;transform:scaleX(0.5768);">上游</span>
<span class="t f" id="t375" style="left:1261.2px;top:360.7px;font-size:7.6px;color:#0c0c0c;font-weight:900;transform:scaleX(0.6938);">TargetModule</span>
<span class="t f" id="t376" style="left:1267.7px;top:369.2px;font-size:7.6px;color:#0c0c0c;font-weight:900;transform:scaleX(0.6255);">目标模块</span>
<span class="t" id="t377" style="left:1505.9px;top:349.5px;font-size:7.2px;color:#0a0f2e;transform:scaleX(0.5771);">目标出列表</span>
<span class="t" id="t378" style="left:1518.1px;top:365.9px;font-size:7.2px;color:#2c0634;transform:scaleX(0.5768);">下游</span>
<span class="t" id="t379" style="left:1585.0px;top:333.4px;font-size:7.2px;color:#0a0f2e;transform:scaleX(0.5771);">目标出列表</span>
<span class="t" id="t380" style="left:1585.0px;top:349.7px;font-size:7.2px;color:#0a0f2e;transform:scaleX(0.5679);">允许过滤事件</span>
<span class="t" id="t381" style="left:1585.0px;top:366.1px;font-size:7.2px;color:#2c0634;transform:scaleX(0.5768);">上游</span>
<span class="t" id="t382" style="left:1585.0px;top:382.4px;font-size:7.2px;color:#380a06;transform:scaleX(0.6884);">Service</span>
<span class="t f" id="t383" style="left:1529.2px;top:353.2px;font-size:7.6px;color:#0c0c0c;font-weight:900;transform:scaleX(0.7461);">AirspaceFilterModule</span>
<span class="t f" id="t384" style="left:1541.5px;top:361.7px;font-size:7.6px;color:#0c0c0c;font-weight:900;transform:scaleX(0.6365);">空域过滤模块</span>
<span class="t" id="t385" style="left:1644.1px;top:380.1px;font-size:7.2px;color:#2c0634;transform:scaleX(0.5768);">下游</span>
<span class="t" id="t386" style="left:1716.3px;top:372.2px;font-size:7.2px;color:#2c0634;transform:scaleX(0.5768);">上游</span>
<span class="t" id="t387" style="left:1716.3px;top:387.9px;font-size:7.2px;color:#380a06;transform:scaleX(0.6467);">Service</span>
<span class="t f" id="t388" style="left:1654.9px;top:374.7px;font-size:7.6px;color:#0c0c0c;font-weight:900;transform:scaleX(0.7185);">PulseIteratorEndModule</span>
<span class="t f" id="t389" style="left:1664.7px;top:383.2px;font-size:7.6px;color:#0c0c0c;font-weight:900;transform:scaleX(0.6420);">脉组循环结束模块</span>
<span class="t" id="t390" style="left:1123.8px;top:411.1px;font-size:7.2px;color:#0a0f2e;transform:scaleX(0.5771);">招募立方</span>
<span class="t" id="t391" style="left:1106.6px;top:426.9px;font-size:7.2px;color:#0a0f2e;transform:scaleX(0.5772);">平台自身运动信息</span>
<span class="t" id="t392" style="left:1131.6px;top:443.4px;font-size:7.2px;color:#2c0634;transform:scaleX(0.5768);">下游</span>
<span class="t" id="t393" style="left:1188.2px;top:411.1px;font-size:7.2px;color:#0a0f2e;transform:scaleX(0.5771);">招募立方</span>
<span class="t" id="t394" style="left:1188.2px;top:426.9px;font-size:7.2px;color:#2c0634;transform:scaleX(0.5768);">上游</span>
<span class="t" id="t395" style="left:1188.2px;top:443.4px;font-size:7.2px;color:#380a06;transform:scaleX(0.6675);">Service</span>
<span class="t f" id="t396" style="left:1143.1px;top:423.2px;font-size:7.6px;color:#0c0c0c;font-weight:900;transform:scaleX(0.7178);">SeaClutterModule</span>
<span class="t f" id="t397" style="left:1152.6px;top:431.7px;font-size:7.6px;color:#0c0c0c;font-weight:900;transform:scaleX(0.6321);">海杂波模块</span>
<span class="t" id="t398" style="left:1308.4px;top:444.4px;font-size:7.2px;color:#0a0f2e;transform:scaleX(0.5983);">带通滤波器模块:开</span>
<span class="t" id="t399" style="left:1308.4px;top:452.4px;font-size:7.2px;color:#0a0f2e;transform:scaleX(0.5761);">关</span>
<span class="t" id="t400" style="left:1313.6px;top:468.9px;font-size:7.2px;color:#0a0f2e;transform:scaleX(0.5785);">IFHDC模块:开关</span>
<span class="t" id="t401" style="left:1310.1px;top:485.5px;font-size:7.2px;color:#0a0f2e;transform:scaleX(0.5772);">回波信号处理前模</span>
<span class="t" id="t402" style="left:1310.1px;top:493.5px;font-size:7.2px;color:#0a0f2e;transform:scaleX(0.6302);">块:前进</span>
<span class="t" id="t403" style="left:1310.1px;top:510.2px;font-size:7.2px;color:#0a0f2e;transform:scaleX(0.5772);">回波信号处理前模</span>
<span class="t" id="t404" style="left:1310.1px;top:518.2px;font-size:7.2px;color:#0a0f2e;transform:scaleX(0.6136);">块:波束内前沿ID</span>
<span class="t" id="t405" style="left:1310.1px;top:534.4px;font-size:7.2px;color:#0a0f2e;transform:scaleX(0.5772);">回波信号处理前模</span>
<span class="t" id="t406" style="left:1310.1px;top:542.4px;font-size:7.2px;color:#0a0f2e;transform:scaleX(0.6136);">块:波束内干扰ID</span>
<span class="t" id="t407" style="left:1310.1px;top:558.7px;font-size:7.2px;color:#0a0f2e;transform:scaleX(0.5772);">回波信号处理前模</span>
<span class="t" id="t408" style="left:1310.1px;top:566.7px;font-size:7.2px;color:#0a0f2e;transform:scaleX(0.6012);">块:波形接收开关</span>
<span class="t" id="t409" style="left:1310.1px;top:583.3px;font-size:7.2px;color:#0a0f2e;transform:scaleX(0.5772);">回波信号处理前模</span>
<span class="t" id="t410" style="left:1310.1px;top:591.3px;font-size:7.2px;color:#0a0f2e;transform:scaleX(0.6050);">块:内循环状态</span>
<span class="t" id="t411" style="left:1310.1px;top:607.7px;font-size:7.2px;color:#0a0f2e;transform:scaleX(0.5772);">接收机节点信号模</span>
<span class="t" id="t412" style="left:1310.1px;top:615.7px;font-size:7.2px;color:#0a0f2e;transform:scaleX(0.6102);">块:数据立方</span>
<span class="t" id="t413" style="left:1334.8px;top:632.3px;font-size:7.2px;color:#2c0634;transform:scaleX(0.5768);">下游</span>
<span class="t" id="t414" style="left:1430.1px;top:477.5px;font-size:7.2px;color:#0a0f2e;transform:scaleX(0.5773);">限幅滤波节点信号模</span>
<span class="t" id="t415" style="left:1430.1px;top:485.5px;font-size:7.2px;color:#0a0f2e;transform:scaleX(0.6102);">块:节点信息</span>
<span class="t" id="t416" style="left:1430.1px;top:502.0px;font-size:7.2px;color:#0a0f2e;transform:scaleX(0.5772);">放大器节点信号模</span>
<span class="t" id="t417" style="left:1430.1px;top:510.0px;font-size:7.2px;color:#0a0f2e;transform:scaleX(0.6102);">块:节点信息</span>
<span class="t" id="t418" style="left:1430.1px;top:526.4px;font-size:7.2px;color:#0a0f2e;transform:scaleX(0.5772);">接收机节点信号模</span>
<span class="t" id="t419" style="left:1430.1px;top:534.4px;font-size:7.2px;color:#0a0f2e;transform:scaleX(0.6102);">块:节点信息</span>
<span class="t" id="t420" style="left:1430.1px;top:551.0px;font-size:7.2px;color:#0a0f2e;transform:scaleX(0.5983);">采样器模块:数据立</span>
<span class="t" id="t421" style="left:1430.1px;top:559.0px;font-size:7.2px;color:#0a0f2e;transform:scaleX(0.5761);">方</span>
<span class="t" id="t422" style="left:1430.1px;top:575.4px;font-size:7.2px;color:#0a0f2e;transform:scaleX(0.5588);">AD转换节点信号模</span>
<span class="t" id="t423" style="left:1430.1px;top:583.4px;font-size:7.2px;color:#0a0f2e;transform:scaleX(0.6102);">块:节点信息</span>
<span class="t" id="t424" style="left:1430.1px;top:599.5px;font-size:7.2px;color:#2c0634;transform:scaleX(0.5768);">上游</span>
<span class="t f" id="t425" style="left:1367.4px;top:534.2px;font-size:7.6px;color:#0c0c0c;font-weight:900;transform:scaleX(0.6420);">中频信号级接收机</span>
<span class="t f" id="t426" style="left:1367.4px;top:542.7px;font-size:7.6px;color:#0c0c0c;font-weight:900;transform:scaleX(0.6420);">中频信号级接收机</span>
<span class="t" id="t427" style="left:1514.4px;top:459.4px;font-size:7.2px;color:#0a0f2e;transform:scaleX(0.6102);">列模块:开关</span>
<span class="t" id="t428" style="left:1502.3px;top:476.5px;font-size:7.2px;color:#0a0f2e;transform:scaleX(0.5966);">匹配滤波器模块:数</span>
<span class="t" id="t429" style="left:1502.3px;top:484.5px;font-size:7.2px;color:#0a0f2e;transform:scaleX(0.5770);">据立方</span>
<span class="t" id="t430" style="left:1504.2px;top:500.8px;font-size:7.2px;color:#0a0f2e;transform:scaleX(0.5772);">回波信号处理前模</span>
<span class="t" id="t431" style="left:1504.2px;top:508.8px;font-size:7.2px;color:#0a0f2e;transform:scaleX(0.6302);">块:前进</span>
<span class="t" id="t432" style="left:1504.2px;top:525.5px;font-size:7.2px;color:#0a0f2e;transform:scaleX(0.5772);">回波信号处理前模</span>
<span class="t" id="t433" style="left:1504.2px;top:533.5px;font-size:7.2px;color:#0a0f2e;transform:scaleX(0.6136);">块:波束内前沿ID</span>
<span class="t" id="t434" style="left:1504.2px;top:550.0px;font-size:7.2px;color:#0a0f2e;transform:scaleX(0.5772);">回波信号处理前模</span>
<span class="t" id="t435" style="left:1504.2px;top:558.0px;font-size:7.2px;color:#0a0f2e;transform:scaleX(0.6136);">块:波束内干扰ID</span>
<span class="t" id="t436" style="left:1504.2px;top:574.5px;font-size:7.2px;color:#0a0f2e;transform:scaleX(0.5772);">回波信号处理前模</span>
<span class="t" id="t437" style="left:1504.2px;top:582.5px;font-size:7.2px;color:#0a0f2e;transform:scaleX(0.6012);">块:波形接收开关</span>
<span class="t" id="t438" style="left:1504.2px;top:598.9px;font-size:7.2px;color:#0a0f2e;transform:scaleX(0.5772);">回波信号处理前模</span>
<span class="t" id="t439" style="left:1504.2px;top:606.9px;font-size:7.2px;color:#0a0f2e;transform:scaleX(0.6050);">块:内循环状态</span>
<span class="t" id="t440" style="left:1528.6px;top:623.4px;font-size:7.2px;color:#2c0634;transform:scaleX(0.5768);">下游</span>
<span class="t" id="t441" style="left:1618.8px;top:493.0px;font-size:7.2px;color:#0a0f2e;transform:scaleX(0.5773);">匹配滤波节点信号模</span>
<span class="t" id="t442" style="left:1618.8px;top:501.0px;font-size:7.2px;color:#0a0f2e;transform:scaleX(0.6102);">块:节点信息</span>
<span class="t" id="t443" style="left:1618.8px;top:517.7px;font-size:7.2px;color:#0a0f2e;transform:scaleX(0.5905);">MTI节点信号模块:节</span>
<span class="t" id="t444" style="left:1618.8px;top:525.7px;font-size:7.2px;color:#0a0f2e;transform:scaleX(0.5770);">点信息</span>
<span class="t" id="t445" style="left:1618.8px;top:542.0px;font-size:7.2px;color:#0a0f2e;transform:scaleX(0.5574);">FFT节点信号模块:节</span>
<span class="t" id="t446" style="left:1618.8px;top:550.0px;font-size:7.2px;color:#0a0f2e;transform:scaleX(0.5770);">点信息</span>
<span class="t" id="t447" style="left:1618.8px;top:566.4px;font-size:7.2px;color:#0a0f2e;transform:scaleX(0.5574);">FFT节点信号模块:数</span>
<span class="t" id="t448" style="left:1618.8px;top:574.4px;font-size:7.2px;color:#0a0f2e;transform:scaleX(0.5770);">据立方</span>
<span class="t" id="t449" style="left:1618.8px;top:590.7px;font-size:7.2px;color:#2c0634;transform:scaleX(0.5768);">上游</span>
<span class="t f" id="t450" style="left:1558.6px;top:538.7px;font-size:7.6px;color:#0c0c0c;font-weight:900;transform:scaleX(0.6420);">单脉冲信号处理器</span>
<span class="t f" id="t451" style="left:1558.6px;top:547.2px;font-size:7.6px;color:#0c0c0c;font-weight:900;transform:scaleX(0.6420);">单脉冲信号处理器</span>
<span class="t" id="t452" style="left:1740.1px;top:422.7px;font-size:7.2px;color:#0a0f2e;transform:scaleX(0.5983);">检测输出接口模块:</span>
<span class="t" id="t453" style="left:1740.1px;top:430.7px;font-size:7.2px;color:#0a0f2e;transform:scaleX(0.5771);">雷达参数</span>
<span class="t" id="t454" style="left:1740.1px;top:447.0px;font-size:7.2px;color:#0a0f2e;transform:scaleX(0.5983);">检测输出接口模块:</span>
<span class="t" id="t455" style="left:1740.1px;top:455.0px;font-size:7.2px;color:#0a0f2e;transform:scaleX(0.5772);">平台自身运动信息</span>
<span class="t" id="t456" style="left:1742.8px;top:471.7px;font-size:7.2px;color:#0a0f2e;transform:scaleX(0.5772);">回波信号处理前模</span>
<span class="t" id="t457" style="left:1742.8px;top:479.7px;font-size:7.2px;color:#0a0f2e;transform:scaleX(0.6302);">块:前进</span>
<span class="t" id="t458" style="left:1742.8px;top:495.8px;font-size:7.2px;color:#0a0f2e;transform:scaleX(0.5772);">回波信号处理前模</span>
<span class="t" id="t459" style="left:1742.8px;top:503.8px;font-size:7.2px;color:#0a0f2e;transform:scaleX(0.6136);">块:波束内前沿ID</span>
<span class="t" id="t460" style="left:1742.8px;top:520.2px;font-size:7.2px;color:#0a0f2e;transform:scaleX(0.5772);">回波信号处理前模</span>
<span class="t" id="t461" style="left:1742.8px;top:528.2px;font-size:7.2px;color:#0a0f2e;transform:scaleX(0.6136);">块:波束内干扰ID</span>
<span class="t" id="t462" style="left:1742.8px;top:544.9px;font-size:7.2px;color:#0a0f2e;transform:scaleX(0.5772);">回波信号处理前模</span>
<span class="t" id="t463" style="left:1742.8px;top:552.9px;font-size:7.2px;color:#0a0f2e;transform:scaleX(0.6012);">块:波形接收开关</span>
<span class="t" id="t464" style="left:1742.8px;top:569.2px;font-size:7.2px;color:#0a0f2e;transform:scaleX(0.5772);">回波信号处理前模</span>
<span class="t" id="t465" style="left:1742.8px;top:577.2px;font-size:7.2px;color:#0a0f2e;transform:scaleX(0.6050);">块:内循环状态</span>
<span class="t" id="t466" style="left:1739.0px;top:593.8px;font-size:7.2px;color:#0a0f2e;transform:scaleX(0.5611);">CFAR2D模块:数据立</span>
<span class="t" id="t467" style="left:1739.0px;top:601.8px;font-size:7.2px;color:#0a0f2e;transform:scaleX(0.5761);">方</span>
<span class="t" id="t468" style="left:1740.1px;top:618.4px;font-size:7.2px;color:#0a0f2e;transform:scaleX(0.5983);">航行点迹模块:目标</span>
<span class="t" id="t469" style="left:1740.1px;top:626.4px;font-size:7.2px;color:#0a0f2e;transform:scaleX(0.5771);">位置信息</span>
<span class="t" id="t470" style="left:1766.9px;top:642.6px;font-size:7.2px;color:#2c0634;transform:scaleX(0.5768);">下游</span>
<span class="t" id="t471" style="left:1869.2px;top:471.7px;font-size:7.2px;color:#0a0f2e;transform:scaleX(0.5761);">检</span>
<span class="t" id="t472" style="left:1869.2px;top:479.7px;font-size:7.2px;color:#0a0f2e;transform:scaleX(0.5761);">块</span>
<span class="t" id="t473" style="left:1869.2px;top:495.8px;font-size:7.2px;color:#0a0f2e;transform:scaleX(0.5761);">检</span>
<span class="t" id="t474" style="left:1869.2px;top:503.8px;font-size:7.2px;color:#0a0f2e;transform:scaleX(0.5761);">块</span>
<span class="t" id="t475" style="left:1869.2px;top:520.2px;font-size:7.2px;color:#0a0f2e;transform:scaleX(0.5761);">检</span>
<span class="t" id="t476" style="left:1869.2px;top:528.2px;font-size:7.2px;color:#0a0f2e;transform:scaleX(0.5761);">块</span>
<span class="t" id="t477" style="left:1869.2px;top:544.9px;font-size:7.2px;color:#0a0f2e;transform:scaleX(0.5761);">检</span>
<span class="t" id="t478" style="left:1869.2px;top:552.9px;font-size:7.2px;color:#0a0f2e;transform:scaleX(0.5761);">块</span>
<span class="t" id="t479" style="left:1869.2px;top:569.7px;font-size:7.2px;color:#2c0634;transform:scaleX(0.5761);">上</span>
<span class="t f" id="t480" style="left:1803.0px;top:528.2px;font-size:7.6px;color:#0c0c0c;font-weight:900;transform:scaleX(0.6420);">信号级目标检测器</span>
<span class="t f" id="t481" style="left:1803.0px;top:536.7px;font-size:7.6px;color:#0c0c0c;font-weight:900;transform:scaleX(0.6420);">信号级目标检测器</span>
</div></div>
</div>
<div class="b" style="left:3px;top:764px;width:1883px;height:134px;border-radius:0 21px 0 21px;background:linear-gradient(135deg,#82e9d9 0%,#1fab97 45.7%,#88eddd 100%);"></div>
<div class="b" style="left:318px;top:804px;width:400px;height:50px;text-align:center;color:#fff;font-family:'Liberation Serif','Noto Serif CJK SC',serif;font-weight:400;font-size:33px;letter-spacing:4.3px;line-height:50px;white-space:nowrap;">弹道导弹工作流程</div>
<div class="b" style="left:1246px;top:806px;width:400px;height:50px;text-align:center;color:#fff;font-family:'Liberation Serif','Noto Serif CJK SC',serif;font-weight:400;font-size:33px;letter-spacing:4.3px;line-height:50px;white-space:nowrap;">雷达对抗工作流程</div>
</body></html>
